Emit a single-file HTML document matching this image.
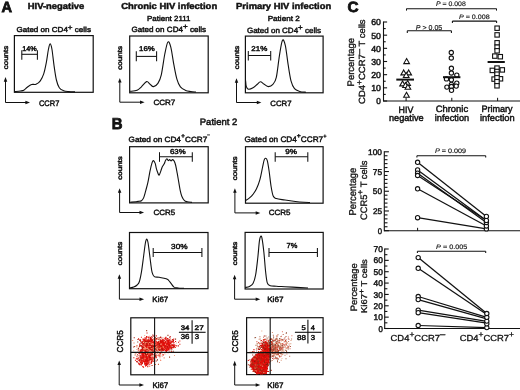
<!DOCTYPE html>
<html><head><meta charset="utf-8"><style>
html,body{margin:0;padding:0;background:#fff;}
svg{display:block;font-family:"Liberation Sans", sans-serif;will-change:transform;text-rendering:geometricPrecision;}
text{fill:#111;stroke:#111;stroke-width:0.45px;}
</style></head><body>
<svg width="520" height="390" viewBox="0 0 520 390">
<rect width="520" height="390" fill="#fff"/>
<text x="1.47" y="11.70" font-size="14.87" textLength="10.55" lengthAdjust="spacingAndGlyphs" font-weight="bold" style="stroke-width:0.8px">A</text>
<text x="27.81" y="8.68" font-size="8.76" textLength="56.46" lengthAdjust="spacingAndGlyphs" font-weight="bold">HIV-negative</text>
<text x="121.15" y="8.78" font-size="8.76" textLength="96.02" lengthAdjust="spacingAndGlyphs" font-weight="bold">Chronic HIV infection</text>
<text x="236.11" y="8.78" font-size="8.76" textLength="95.01" lengthAdjust="spacingAndGlyphs" font-weight="bold">Primary HIV infection</text>
<text x="147.09" y="21.17" font-size="7.38" textLength="43.36" lengthAdjust="spacingAndGlyphs">Patient 2111</text>
<text x="267.67" y="21.27" font-size="7.38" textLength="32.09" lengthAdjust="spacingAndGlyphs">Patient 2</text>
<text x="16.42" y="32.38" font-size="7.24" textLength="74.52" lengthAdjust="spacingAndGlyphs">Gated on CD4<tspan dy="-2.61">+</tspan><tspan dy="2.61" font-size="7.24"> cells</tspan></text>
<text x="131.42" y="32.07" font-size="7.52" textLength="74.62" lengthAdjust="spacingAndGlyphs">Gated on CD4<tspan dy="-2.71">+</tspan><tspan dy="2.71" font-size="7.52"> cells</tspan></text>
<text x="246.92" y="32.57" font-size="7.66" textLength="74.12" lengthAdjust="spacingAndGlyphs">Gated on CD4<tspan dy="-2.76">+</tspan><tspan dy="2.76" font-size="7.66"> cells</tspan></text>
<rect x="14.40" y="35.60" width="78.80" height="56.70" fill="none" stroke="#111" stroke-width="1.2"/>
<rect x="129.70" y="36.00" width="78.50" height="56.80" fill="none" stroke="#111" stroke-width="1.2"/>
<rect x="245.40" y="36.10" width="77.70" height="56.70" fill="none" stroke="#111" stroke-width="1.2"/>
<path d="M14.80,91.60 C15.73,91.50 18.90,91.23 20.40,91.00 C21.90,90.77 22.65,90.83 23.80,90.20 C24.95,89.57 26.00,88.15 27.30,87.20 C28.60,86.25 30.15,85.00 31.60,84.50 C33.05,84.00 34.55,84.82 36.00,84.20 C37.45,83.58 39.02,82.52 40.30,80.80 C41.58,79.08 42.70,76.92 43.70,73.90 C44.70,70.88 45.52,66.77 46.30,62.70 C47.08,58.63 47.77,52.63 48.40,49.50 C49.03,46.37 49.52,43.98 50.10,43.90 C50.68,43.82 51.23,45.30 51.90,49.00 C52.57,52.70 53.35,60.93 54.10,66.10 C54.85,71.27 55.53,76.38 56.40,80.00 C57.27,83.62 58.10,86.02 59.30,87.80 C60.50,89.58 62.02,90.07 63.60,90.70 C65.18,91.33 66.90,91.40 68.80,91.60 C70.70,91.80 73.97,91.85 75.00,91.90" fill="none" stroke="#111" stroke-width="1.1" stroke-linejoin="round"/>
<path d="M130.20,91.40 C131.35,91.20 135.23,90.97 137.10,90.20 C138.97,89.43 139.82,88.23 141.40,86.80 C142.98,85.37 145.15,82.02 146.60,81.60 C148.05,81.18 148.95,83.47 150.10,84.30 C151.25,85.13 152.20,86.75 153.50,86.60 C154.80,86.45 156.60,85.37 157.90,83.40 C159.20,81.43 160.15,79.70 161.30,74.80 C162.45,69.90 163.70,59.47 164.80,54.00 C165.90,48.53 166.90,43.15 167.90,42.00 C168.90,40.85 169.82,43.37 170.80,47.10 C171.78,50.83 172.78,59.07 173.80,64.40 C174.82,69.73 175.80,75.35 176.90,79.10 C178.00,82.85 178.95,85.02 180.40,86.90 C181.85,88.78 183.88,89.63 185.60,90.40 C187.32,91.17 188.97,91.23 190.70,91.50 C192.43,91.77 195.12,91.92 196.00,92.00" fill="none" stroke="#111" stroke-width="1.1" stroke-linejoin="round"/>
<path d="M245.60,80.50 C245.72,81.50 245.82,85.05 246.30,86.50 C246.78,87.95 247.38,88.98 248.50,89.20 C249.62,89.42 251.53,88.62 253.00,87.80 C254.47,86.98 256.07,85.30 257.30,84.30 C258.53,83.30 259.25,81.80 260.40,81.80 C261.55,81.80 262.85,83.50 264.20,84.30 C265.55,85.10 267.05,86.60 268.50,86.60 C269.95,86.60 271.60,85.83 272.90,84.30 C274.20,82.77 275.22,82.15 276.30,77.40 C277.38,72.65 278.38,61.97 279.40,55.80 C280.42,49.63 281.42,42.13 282.40,40.40 C283.38,38.67 284.35,41.40 285.30,45.40 C286.25,49.40 287.15,58.50 288.10,64.40 C289.05,70.30 289.93,76.77 291.00,80.80 C292.07,84.83 293.05,86.83 294.50,88.60 C295.95,90.37 297.78,90.80 299.70,91.40 C301.62,92.00 304.95,92.07 306.00,92.20" fill="none" stroke="#111" stroke-width="1.1" stroke-linejoin="round"/>
<line x1="21.80" y1="54.30" x2="37.40" y2="54.30" stroke="#111" stroke-width="1.05"/>
<line x1="21.80" y1="50.20" x2="21.80" y2="59.70" stroke="#111" stroke-width="1.05"/>
<line x1="37.40" y1="50.20" x2="37.40" y2="59.70" stroke="#111" stroke-width="1.05"/>
<text x="22.28" y="50.57" font-size="6.83" textLength="14.56" lengthAdjust="spacingAndGlyphs">14%</text>
<line x1="136.30" y1="56.40" x2="156.60" y2="56.40" stroke="#111" stroke-width="1.05"/>
<line x1="136.30" y1="51.30" x2="136.30" y2="61.20" stroke="#111" stroke-width="1.05"/>
<line x1="156.60" y1="51.30" x2="156.60" y2="61.20" stroke="#111" stroke-width="1.05"/>
<text x="139.14" y="51.27" font-size="6.93" textLength="15.73" lengthAdjust="spacingAndGlyphs">16%</text>
<line x1="248.30" y1="55.50" x2="270.70" y2="55.50" stroke="#111" stroke-width="1.05"/>
<line x1="248.30" y1="50.90" x2="248.30" y2="60.60" stroke="#111" stroke-width="1.05"/>
<line x1="270.70" y1="50.90" x2="270.70" y2="60.60" stroke="#111" stroke-width="1.05"/>
<text x="251.32" y="51.48" font-size="7.07" textLength="16.04" lengthAdjust="spacingAndGlyphs">21%</text>
<text x="7.68" y="69.29" font-size="6.69" textLength="23.56" lengthAdjust="spacingAndGlyphs" transform="rotate(-90 7.68 69.29)">counts</text>
<text x="122.38" y="69.70" font-size="6.54" textLength="23.66" lengthAdjust="spacingAndGlyphs" transform="rotate(-90 122.38 69.70)">counts</text>
<text x="238.97" y="69.29" font-size="6.54" textLength="23.46" lengthAdjust="spacingAndGlyphs" transform="rotate(-90 238.97 69.29)">counts</text>
<path d="M5.50,80.10 L5.50,102.50 L27.00,102.50" fill="none" stroke="#111" stroke-width="1.0"/>
<path d="M5.50,77.10 L3.75,81.70 L7.25,81.70 Z" fill="#111"/>
<path d="M30.00,102.50 L25.40,100.75 L25.40,104.25 Z" fill="#111"/>
<path d="M119.80,81.00 L119.80,102.20 L141.60,102.20" fill="none" stroke="#111" stroke-width="1.0"/>
<path d="M119.80,78.00 L118.05,82.60 L121.55,82.60 Z" fill="#111"/>
<path d="M144.60,102.20 L140.00,100.45 L140.00,103.95 Z" fill="#111"/>
<path d="M236.50,81.20 L236.50,102.50 L258.40,102.50" fill="none" stroke="#111" stroke-width="1.0"/>
<path d="M236.50,78.20 L234.75,82.80 L238.25,82.80 Z" fill="#111"/>
<path d="M261.40,102.50 L256.80,100.75 L256.80,104.25 Z" fill="#111"/>
<text x="38.95" y="105.58" font-size="7.93" textLength="20.38" lengthAdjust="spacingAndGlyphs">CCR7</text>
<text x="153.42" y="105.28" font-size="7.57" textLength="21.83" lengthAdjust="spacingAndGlyphs">CCR7</text>
<text x="270.34" y="105.58" font-size="7.64" textLength="21.21" lengthAdjust="spacingAndGlyphs">CCR7</text>
<text x="111.83" y="129.10" font-size="15.80" textLength="10.80" lengthAdjust="spacingAndGlyphs" font-weight="bold" style="stroke-width:0.8px">B</text>
<text x="199.76" y="124.78" font-size="9.31" textLength="37.56" lengthAdjust="spacingAndGlyphs">Patient 2</text>
<text x="128.62" y="141.88" font-size="7.52" textLength="81.14" lengthAdjust="spacingAndGlyphs">Gated on CD4<tspan dy="-3.53" font-size="6.39">+</tspan><tspan dy="3.53" font-size="7.52">CCR7</tspan><tspan dy="-5.41" font-size="4.13">–</tspan></text>
<text x="244.42" y="142.18" font-size="7.93" textLength="82.14" lengthAdjust="spacingAndGlyphs">Gated on CD4<tspan dy="-3.73" font-size="6.74">+</tspan><tspan dy="3.73" font-size="7.93">CCR7</tspan><tspan dy="-4.36" font-size="5.55">+</tspan></text>
<rect x="129.60" y="146.70" width="78.60" height="56.20" fill="none" stroke="#111" stroke-width="1.2"/>
<rect x="245.50" y="146.70" width="77.60" height="56.50" fill="none" stroke="#111" stroke-width="1.2"/>
<rect x="129.50" y="232.50" width="78.50" height="56.20" fill="none" stroke="#111" stroke-width="1.2"/>
<rect x="245.10" y="232.40" width="78.10" height="56.60" fill="none" stroke="#111" stroke-width="1.2"/>
<rect x="130.80" y="317.80" width="77.20" height="57.00" fill="none" stroke="#111" stroke-width="1.2"/>
<rect x="246.60" y="317.70" width="76.50" height="56.90" fill="none" stroke="#111" stroke-width="1.2"/>
<path d="M130.20,202.20 C131.17,202.13 134.70,201.93 136.00,201.80 C137.30,201.67 137.08,201.58 138.00,201.40 C138.92,201.22 140.57,201.28 141.50,200.70 C142.43,200.12 142.90,199.55 143.60,197.90 C144.30,196.25 144.98,193.38 145.70,190.80 C146.42,188.22 147.18,185.68 147.90,182.40 C148.62,179.12 149.30,174.38 150.00,171.10 C150.70,167.82 151.52,164.45 152.10,162.70 C152.68,160.95 152.98,160.48 153.50,160.60 C154.02,160.72 154.73,162.12 155.20,163.40 C155.67,164.68 155.88,166.78 156.30,168.30 C156.72,169.82 157.23,171.35 157.70,172.50 C158.17,173.65 158.58,175.43 159.10,175.20 C159.62,174.97 160.28,172.48 160.80,171.10 C161.32,169.72 161.65,168.07 162.20,166.90 C162.75,165.73 163.55,165.15 164.10,164.10 C164.65,163.05 165.03,161.50 165.50,160.60 C165.97,159.70 166.43,158.70 166.90,158.70 C167.37,158.70 167.83,160.45 168.30,160.60 C168.77,160.75 169.23,159.53 169.70,159.60 C170.17,159.67 170.63,161.00 171.10,161.00 C171.57,161.00 171.97,159.55 172.50,159.60 C173.03,159.65 173.77,160.32 174.30,161.30 C174.83,162.28 175.22,163.52 175.70,165.50 C176.18,167.48 176.68,170.38 177.20,173.20 C177.72,176.02 178.28,179.47 178.80,182.40 C179.32,185.33 179.78,188.45 180.30,190.80 C180.82,193.15 181.20,194.85 181.90,196.50 C182.60,198.15 183.60,199.82 184.50,200.70 C185.40,201.58 186.05,201.52 187.30,201.80 C188.55,202.08 191.22,202.30 192.00,202.40" fill="none" stroke="#111" stroke-width="1.1" stroke-linejoin="round"/>
<path d="M245.80,200.40 C246.42,199.97 248.30,198.82 249.50,197.80 C250.70,196.78 251.85,195.75 253.00,194.30 C254.15,192.85 255.25,191.55 256.40,189.10 C257.55,186.65 258.88,183.20 259.90,179.60 C260.92,176.00 261.78,170.78 262.50,167.50 C263.22,164.22 263.68,161.45 264.20,159.90 C264.72,158.35 265.08,158.08 265.60,158.20 C266.12,158.32 266.72,158.47 267.30,160.60 C267.88,162.73 268.47,166.68 269.10,171.00 C269.73,175.32 270.42,182.33 271.10,186.50 C271.78,190.67 272.33,193.98 273.20,196.00 C274.07,198.02 274.33,197.93 276.30,198.60 C278.27,199.27 281.82,199.52 285.00,200.00 C288.18,200.48 292.23,201.12 295.40,201.50 C298.57,201.88 301.57,202.13 304.00,202.30 C306.43,202.47 309.00,202.47 310.00,202.50" fill="none" stroke="#111" stroke-width="1.1" stroke-linejoin="round"/>
<path d="M129.80,287.90 C130.45,287.75 132.48,287.48 133.70,287.00 C134.92,286.52 136.15,285.92 137.10,285.00 C138.05,284.08 138.67,283.72 139.40,281.50 C140.13,279.28 140.80,275.92 141.50,271.70 C142.20,267.48 142.97,260.90 143.60,256.20 C144.23,251.50 144.82,246.33 145.30,243.50 C145.78,240.67 146.07,239.45 146.50,239.20 C146.93,238.95 147.43,239.87 147.90,242.00 C148.37,244.13 148.83,248.47 149.30,252.00 C149.77,255.53 150.23,259.80 150.70,263.20 C151.17,266.60 151.50,270.17 152.10,272.40 C152.70,274.63 153.12,275.78 154.30,276.60 C155.48,277.42 157.22,276.95 159.20,277.30 C161.18,277.65 164.67,278.23 166.20,278.70 C167.73,279.17 167.57,279.28 168.40,280.10 C169.23,280.92 170.27,282.43 171.20,283.60 C172.13,284.77 172.87,286.37 174.00,287.10 C175.13,287.83 176.33,287.80 178.00,288.00 C179.67,288.20 183.00,288.25 184.00,288.30" fill="none" stroke="#111" stroke-width="1.1" stroke-linejoin="round"/>
<path d="M245.20,287.60 C245.92,287.40 248.20,287.07 249.50,286.40 C250.80,285.73 251.98,285.50 253.00,283.60 C254.02,281.70 254.80,279.32 255.60,275.00 C256.40,270.68 257.17,263.33 257.80,257.70 C258.43,252.07 258.90,244.80 259.40,241.20 C259.90,237.60 260.35,236.50 260.80,236.10 C261.25,235.70 261.58,236.07 262.10,238.80 C262.62,241.53 263.32,247.05 263.90,252.50 C264.48,257.95 265.03,266.45 265.60,271.50 C266.17,276.55 266.52,280.43 267.30,282.80 C268.08,285.17 268.80,285.13 270.30,285.70 C271.80,286.27 273.85,286.03 276.30,286.20 C278.75,286.37 280.95,286.47 285.00,286.70 C289.05,286.93 296.77,287.38 300.60,287.60 C304.43,287.82 306.77,287.93 308.00,288.00" fill="none" stroke="#111" stroke-width="1.1" stroke-linejoin="round"/>
<line x1="159.50" y1="156.80" x2="192.30" y2="156.80" stroke="#111" stroke-width="1.05"/>
<line x1="159.50" y1="152.20" x2="159.50" y2="161.80" stroke="#111" stroke-width="1.05"/>
<line x1="192.30" y1="152.20" x2="192.30" y2="161.80" stroke="#111" stroke-width="1.05"/>
<text x="170.03" y="153.88" font-size="7.07" textLength="15.63" lengthAdjust="spacingAndGlyphs">63%</text>
<line x1="275.20" y1="156.80" x2="307.80" y2="156.80" stroke="#111" stroke-width="1.05"/>
<line x1="275.20" y1="152.20" x2="275.20" y2="161.80" stroke="#111" stroke-width="1.05"/>
<line x1="307.80" y1="152.20" x2="307.80" y2="161.80" stroke="#111" stroke-width="1.05"/>
<text x="285.36" y="153.88" font-size="7.07" textLength="11.70" lengthAdjust="spacingAndGlyphs">9%</text>
<line x1="153.20" y1="252.50" x2="201.90" y2="252.50" stroke="#111" stroke-width="1.05"/>
<line x1="153.20" y1="247.90" x2="153.20" y2="256.90" stroke="#111" stroke-width="1.05"/>
<line x1="201.90" y1="247.90" x2="201.90" y2="256.90" stroke="#111" stroke-width="1.05"/>
<text x="171.14" y="249.08" font-size="7.36" textLength="16.54" lengthAdjust="spacingAndGlyphs">30%</text>
<line x1="269.00" y1="252.50" x2="317.40" y2="252.50" stroke="#111" stroke-width="1.05"/>
<line x1="269.00" y1="247.90" x2="269.00" y2="257.10" stroke="#111" stroke-width="1.05"/>
<line x1="317.40" y1="247.90" x2="317.40" y2="257.10" stroke="#111" stroke-width="1.05"/>
<text x="286.55" y="248.47" font-size="7.27" textLength="10.79" lengthAdjust="spacingAndGlyphs">7%</text>
<text x="122.08" y="179.69" font-size="6.38" textLength="23.46" lengthAdjust="spacingAndGlyphs" transform="rotate(-90 122.08 179.69)">counts</text>
<text x="237.28" y="180.20" font-size="6.69" textLength="23.77" lengthAdjust="spacingAndGlyphs" transform="rotate(-90 237.28 180.20)">counts</text>
<text x="122.28" y="265.30" font-size="6.69" textLength="23.66" lengthAdjust="spacingAndGlyphs" transform="rotate(-90 122.28 265.30)">counts</text>
<text x="236.97" y="265.30" font-size="6.54" textLength="23.66" lengthAdjust="spacingAndGlyphs" transform="rotate(-90 236.97 265.30)">counts</text>
<path d="M119.60,191.20 L119.60,212.50 L141.10,212.50" fill="none" stroke="#111" stroke-width="1.0"/>
<path d="M119.60,188.20 L117.85,192.80 L121.35,192.80 Z" fill="#111"/>
<path d="M144.10,212.50 L139.50,210.75 L139.50,214.25 Z" fill="#111"/>
<path d="M234.90,191.20 L234.90,212.90 L257.30,212.90" fill="none" stroke="#111" stroke-width="1.0"/>
<path d="M234.90,188.20 L233.15,192.80 L236.65,192.80 Z" fill="#111"/>
<path d="M260.30,212.90 L255.70,211.15 L255.70,214.65 Z" fill="#111"/>
<path d="M119.40,277.20 L119.40,299.20 L141.10,299.20" fill="none" stroke="#111" stroke-width="1.0"/>
<path d="M119.40,274.20 L117.65,278.80 L121.15,278.80 Z" fill="#111"/>
<path d="M144.10,299.20 L139.50,297.45 L139.50,300.95 Z" fill="#111"/>
<path d="M234.60,277.70 L234.60,299.20 L257.30,299.20" fill="none" stroke="#111" stroke-width="1.0"/>
<path d="M234.60,274.70 L232.85,279.30 L236.35,279.30 Z" fill="#111"/>
<path d="M260.30,299.20 L255.70,297.45 L255.70,300.95 Z" fill="#111"/>
<path d="M119.20,363.50 L119.20,385.00 L141.00,385.00" fill="none" stroke="#111" stroke-width="1.0"/>
<path d="M119.20,360.50 L117.45,365.10 L120.95,365.10 Z" fill="#111"/>
<path d="M144.00,385.00 L139.40,383.25 L139.40,386.75 Z" fill="#111"/>
<path d="M234.70,363.80 L234.70,385.00 L257.30,385.00" fill="none" stroke="#111" stroke-width="1.0"/>
<path d="M234.70,360.80 L232.95,365.40 L236.45,365.40 Z" fill="#111"/>
<path d="M260.30,385.00 L255.70,383.25 L255.70,386.75 Z" fill="#111"/>
<text x="153.58" y="215.28" font-size="7.57" textLength="21.64" lengthAdjust="spacingAndGlyphs">CCR5</text>
<text x="268.72" y="215.28" font-size="7.57" textLength="21.79" lengthAdjust="spacingAndGlyphs">CCR5</text>
<text x="152.39" y="301.67" font-size="7.66" textLength="15.85" lengthAdjust="spacingAndGlyphs">Ki67</text>
<text x="267.17" y="301.67" font-size="7.66" textLength="16.28" lengthAdjust="spacingAndGlyphs">Ki67</text>
<text x="152.39" y="387.97" font-size="8.07" textLength="15.85" lengthAdjust="spacingAndGlyphs">Ki67</text>
<text x="267.38" y="388.17" font-size="7.93" textLength="16.07" lengthAdjust="spacingAndGlyphs">Ki67</text>
<text x="122.68" y="352.38" font-size="8.64" textLength="22.10" lengthAdjust="spacingAndGlyphs" transform="rotate(-90 122.68 352.38)">CCR5</text>
<text x="237.78" y="352.38" font-size="8.36" textLength="22.10" lengthAdjust="spacingAndGlyphs" transform="rotate(-90 237.78 352.38)">CCR5</text>
<path d="M150.4 351.8h1.1v1.1h-1.1zM153.0 356.7h1.1v1.1h-1.1zM145.2 342.2h1.1v1.1h-1.1zM162.8 354.3h1.1v1.1h-1.1zM157.8 354.6h1.1v1.1h-1.1zM159.3 356.2h1.1v1.1h-1.1zM148.9 341.2h1.1v1.1h-1.1zM151.0 350.3h1.1v1.1h-1.1zM140.3 349.8h1.1v1.1h-1.1zM158.5 354.9h1.1v1.1h-1.1zM155.3 355.7h1.1v1.1h-1.1zM155.6 357.2h1.1v1.1h-1.1zM142.9 346.9h1.1v1.1h-1.1zM162.1 340.4h1.1v1.1h-1.1zM139.8 350.2h1.1v1.1h-1.1zM153.3 345.4h1.1v1.1h-1.1zM156.2 338.4h1.1v1.1h-1.1zM163.8 348.8h1.1v1.1h-1.1zM159.3 341.5h1.1v1.1h-1.1zM162.7 340.3h1.1v1.1h-1.1zM156.4 343.2h1.1v1.1h-1.1zM156.2 344.2h1.1v1.1h-1.1zM162.1 346.2h1.1v1.1h-1.1zM154.1 345.6h1.1v1.1h-1.1zM162.5 341.9h1.1v1.1h-1.1zM158.0 341.6h1.1v1.1h-1.1zM160.1 344.4h1.1v1.1h-1.1zM164.8 343.5h1.1v1.1h-1.1zM166.8 346.4h1.1v1.1h-1.1zM154.5 340.2h1.1v1.1h-1.1z" fill="#e01010"/>
<path d="M161.4 352.0h1.1v1.1h-1.1zM142.5 343.9h1.1v1.1h-1.1zM147.7 348.2h1.1v1.1h-1.1zM155.6 347.8h1.1v1.1h-1.1zM150.7 354.7h1.1v1.1h-1.1zM151.6 352.0h1.1v1.1h-1.1zM143.4 345.2h1.1v1.1h-1.1zM157.9 363.8h1.1v1.1h-1.1zM150.4 343.7h1.1v1.1h-1.1zM138.8 346.2h1.1v1.1h-1.1zM151.7 358.4h1.1v1.1h-1.1zM134.7 353.4h1.1v1.1h-1.1zM159.7 352.8h1.1v1.1h-1.1zM159.0 344.0h1.1v1.1h-1.1zM153.9 346.5h1.1v1.1h-1.1zM161.1 348.4h1.1v1.1h-1.1zM167.7 342.8h1.1v1.1h-1.1zM173.2 345.9h1.1v1.1h-1.1zM156.9 346.6h1.1v1.1h-1.1zM162.8 342.9h1.1v1.1h-1.1zM159.6 347.5h1.1v1.1h-1.1zM161.9 342.3h1.1v1.1h-1.1zM162.9 348.7h1.1v1.1h-1.1z" fill="#c86040"/>
<path d="M137.2 341.4h1.1v1.1h-1.1zM154.4 345.5h1.1v1.1h-1.1zM145.3 345.4h1.1v1.1h-1.1zM145.3 343.6h1.1v1.1h-1.1zM152.9 345.1h1.1v1.1h-1.1zM150.1 346.8h1.1v1.1h-1.1zM158.7 345.1h1.1v1.1h-1.1zM145.2 341.7h1.1v1.1h-1.1zM157.5 337.2h1.1v1.1h-1.1zM159.8 346.7h1.1v1.1h-1.1zM157.7 348.1h1.1v1.1h-1.1zM157.9 349.2h1.1v1.1h-1.1zM142.1 351.6h1.1v1.1h-1.1zM167.4 342.0h1.1v1.1h-1.1zM147.0 352.0h1.1v1.1h-1.1zM158.7 347.4h1.1v1.1h-1.1zM161.6 341.0h1.1v1.1h-1.1zM162.8 345.9h1.1v1.1h-1.1zM156.2 349.1h1.1v1.1h-1.1zM155.2 347.4h1.1v1.1h-1.1zM172.8 350.7h1.1v1.1h-1.1zM156.7 343.5h1.1v1.1h-1.1zM166.7 341.2h1.1v1.1h-1.1zM162.1 346.7h1.1v1.1h-1.1zM170.7 349.5h1.1v1.1h-1.1zM169.8 344.8h1.1v1.1h-1.1zM175.0 338.6h1.1v1.1h-1.1zM166.2 348.0h1.1v1.1h-1.1zM157.7 343.8h1.1v1.1h-1.1zM172.7 340.6h1.1v1.1h-1.1zM152.5 344.4h1.1v1.1h-1.1zM161.6 341.7h1.1v1.1h-1.1z" fill="#903820"/>
<path d="M160.7 350.1h1.1v1.1h-1.1zM141.2 344.8h1.1v1.1h-1.1zM147.2 366.1h1.1v1.1h-1.1zM144.7 345.0h1.1v1.1h-1.1zM161.0 345.9h1.1v1.1h-1.1zM150.5 346.7h1.1v1.1h-1.1zM161.0 347.8h1.1v1.1h-1.1zM152.8 343.0h1.1v1.1h-1.1zM140.9 349.7h1.1v1.1h-1.1zM139.6 350.9h1.1v1.1h-1.1zM166.7 350.0h1.1v1.1h-1.1zM152.5 353.7h1.1v1.1h-1.1zM142.2 348.0h1.1v1.1h-1.1zM154.8 345.5h1.1v1.1h-1.1zM162.2 347.9h1.1v1.1h-1.1zM171.7 346.9h1.1v1.1h-1.1zM168.0 344.9h1.1v1.1h-1.1zM167.3 345.8h1.1v1.1h-1.1zM163.8 343.5h1.1v1.1h-1.1zM167.0 346.6h1.1v1.1h-1.1zM155.1 346.4h1.1v1.1h-1.1zM179.3 343.7h1.1v1.1h-1.1zM151.0 344.7h1.1v1.1h-1.1zM159.1 342.4h1.1v1.1h-1.1zM157.9 348.3h1.1v1.1h-1.1zM162.3 346.7h1.1v1.1h-1.1zM155.9 346.4h1.1v1.1h-1.1zM160.4 351.7h1.1v1.1h-1.1z" fill="#d02010"/>
<path d="M167.6 352.2h1.1v1.1h-1.1zM143.7 352.4h1.1v1.1h-1.1zM150.6 343.8h1.1v1.1h-1.1zM160.1 351.9h1.1v1.1h-1.1zM163.5 340.4h1.1v1.1h-1.1zM141.8 349.3h1.1v1.1h-1.1zM149.0 346.0h1.1v1.1h-1.1zM158.3 352.0h1.1v1.1h-1.1zM146.4 348.2h1.1v1.1h-1.1zM166.6 345.5h1.1v1.1h-1.1zM159.6 346.5h1.1v1.1h-1.1zM166.0 347.8h1.1v1.1h-1.1zM155.9 346.1h1.1v1.1h-1.1zM149.6 341.7h1.1v1.1h-1.1zM167.1 348.3h1.1v1.1h-1.1zM169.4 345.9h1.1v1.1h-1.1zM171.8 338.9h1.1v1.1h-1.1zM154.2 344.0h1.1v1.1h-1.1zM163.8 341.6h1.1v1.1h-1.1z" fill="#e05030"/>
<path d="M145.6 343.3h1.1v1.1h-1.1zM146.1 330.1h1.1v1.1h-1.1zM136.9 352.0h1.1v1.1h-1.1zM154.5 345.6h1.1v1.1h-1.1zM169.0 356.6h1.1v1.1h-1.1zM134.1 345.9h1.1v1.1h-1.1zM153.1 342.7h1.1v1.1h-1.1zM161.9 342.7h1.1v1.1h-1.1zM161.3 347.2h1.1v1.1h-1.1zM161.3 344.4h1.1v1.1h-1.1zM158.3 340.7h1.1v1.1h-1.1zM162.7 340.9h1.1v1.1h-1.1zM170.1 345.9h1.1v1.1h-1.1zM165.0 345.2h1.1v1.1h-1.1zM158.8 338.5h1.1v1.1h-1.1zM161.8 344.1h1.1v1.1h-1.1zM165.9 342.2h1.1v1.1h-1.1zM156.6 342.4h1.1v1.1h-1.1zM165.6 343.0h1.1v1.1h-1.1zM167.4 334.8h1.1v1.1h-1.1zM162.6 344.6h1.1v1.1h-1.1zM172.2 345.2h1.1v1.1h-1.1z" fill="#a04020"/>
<path d="M154.0 341.3h1.1v1.1h-1.1zM136.3 346.4h1.1v1.1h-1.1zM148.5 353.5h1.1v1.1h-1.1zM164.0 352.2h1.1v1.1h-1.1zM138.2 357.1h1.1v1.1h-1.1zM146.0 352.3h1.1v1.1h-1.1zM162.9 346.0h1.1v1.1h-1.1zM163.6 357.3h1.1v1.1h-1.1zM166.6 347.7h1.1v1.1h-1.1zM155.1 337.8h1.1v1.1h-1.1zM163.0 349.9h1.1v1.1h-1.1zM154.0 345.0h1.1v1.1h-1.1zM148.0 355.4h1.1v1.1h-1.1zM149.4 341.8h1.1v1.1h-1.1zM163.8 346.9h1.1v1.1h-1.1zM170.5 347.0h1.1v1.1h-1.1zM161.8 340.1h1.1v1.1h-1.1zM153.4 341.8h1.1v1.1h-1.1zM162.9 343.7h1.1v1.1h-1.1zM173.2 347.3h1.1v1.1h-1.1zM157.8 343.1h1.1v1.1h-1.1zM168.4 344.5h1.1v1.1h-1.1zM161.3 349.7h1.1v1.1h-1.1zM165.6 342.8h1.1v1.1h-1.1zM166.0 351.0h1.1v1.1h-1.1zM162.4 347.3h1.1v1.1h-1.1zM167.7 338.3h1.1v1.1h-1.1zM157.8 350.3h1.1v1.1h-1.1zM166.3 342.6h1.1v1.1h-1.1z" fill="#e88a70"/>
<path d="M148.5 352.2h1.1v1.1h-1.1zM161.3 349.5h1.1v1.1h-1.1zM156.9 347.5h1.1v1.1h-1.1zM147.0 344.8h1.1v1.1h-1.1zM145.6 349.1h1.1v1.1h-1.1zM151.7 344.5h1.1v1.1h-1.1zM148.4 343.4h1.1v1.1h-1.1zM160.1 336.6h1.1v1.1h-1.1zM153.2 344.8h1.1v1.1h-1.1zM169.5 348.5h1.1v1.1h-1.1zM156.9 345.3h1.1v1.1h-1.1zM164.2 341.8h1.1v1.1h-1.1zM161.9 343.4h1.1v1.1h-1.1zM160.1 347.0h1.1v1.1h-1.1zM169.3 336.9h1.1v1.1h-1.1zM158.3 339.0h1.1v1.1h-1.1zM166.1 342.4h1.1v1.1h-1.1zM170.2 351.7h1.1v1.1h-1.1zM166.5 339.5h1.1v1.1h-1.1zM167.0 343.0h1.1v1.1h-1.1zM172.1 339.1h1.1v1.1h-1.1zM165.1 346.0h1.1v1.1h-1.1zM169.8 343.2h1.1v1.1h-1.1zM170.7 346.7h1.1v1.1h-1.1zM173.3 346.8h1.1v1.1h-1.1zM162.2 348.7h1.1v1.1h-1.1zM162.2 341.4h1.1v1.1h-1.1z" fill="#b03018"/>
<path d="M145.6 345.5h1.1v1.1h-1.1zM153.0 342.6h1.1v1.1h-1.1zM144.7 346.5h1.1v1.1h-1.1zM144.5 347.3h1.1v1.1h-1.1zM149.7 344.2h1.1v1.1h-1.1zM151.3 340.2h1.1v1.1h-1.1zM145.9 342.9h1.1v1.1h-1.1zM150.7 341.5h1.1v1.1h-1.1zM151.9 344.3h1.1v1.1h-1.1zM157.2 340.9h1.1v1.1h-1.1zM150.4 345.2h1.1v1.1h-1.1zM147.1 350.7h1.1v1.1h-1.1zM148.3 343.9h1.1v1.1h-1.1zM151.8 340.7h1.1v1.1h-1.1zM151.6 344.5h1.1v1.1h-1.1zM144.7 342.6h1.1v1.1h-1.1zM148.9 345.0h1.1v1.1h-1.1zM153.6 346.8h1.1v1.1h-1.1zM145.2 342.6h1.1v1.1h-1.1zM145.9 339.5h1.1v1.1h-1.1zM152.0 343.7h1.1v1.1h-1.1zM148.1 344.3h1.1v1.1h-1.1zM146.1 337.1h1.1v1.1h-1.1zM153.0 344.4h1.1v1.1h-1.1zM147.7 345.6h1.1v1.1h-1.1zM146.5 343.0h1.1v1.1h-1.1zM144.9 345.6h1.1v1.1h-1.1zM148.0 339.4h1.1v1.1h-1.1zM150.9 347.3h1.1v1.1h-1.1zM147.4 347.1h1.1v1.1h-1.1zM143.0 344.5h1.1v1.1h-1.1zM144.6 346.7h1.1v1.1h-1.1zM151.8 345.1h1.1v1.1h-1.1zM145.9 339.2h1.1v1.1h-1.1zM146.9 342.3h1.1v1.1h-1.1zM148.3 346.9h1.1v1.1h-1.1zM142.3 346.2h1.1v1.1h-1.1zM148.1 344.7h1.1v1.1h-1.1zM147.8 337.0h1.1v1.1h-1.1zM154.0 346.0h1.1v1.1h-1.1zM145.3 342.5h1.1v1.1h-1.1zM148.5 341.6h1.1v1.1h-1.1zM144.6 343.1h1.1v1.1h-1.1zM148.5 345.6h1.1v1.1h-1.1zM148.9 343.9h1.1v1.1h-1.1zM147.3 345.2h1.1v1.1h-1.1zM149.6 346.3h1.1v1.1h-1.1zM146.9 342.4h1.1v1.1h-1.1zM145.5 346.1h1.1v1.1h-1.1zM146.1 348.6h1.1v1.1h-1.1zM147.3 344.8h1.1v1.1h-1.1zM150.0 343.7h1.1v1.1h-1.1zM144.1 341.9h1.1v1.1h-1.1zM151.2 345.8h1.1v1.1h-1.1zM152.3 350.7h1.1v1.1h-1.1zM151.4 342.3h1.1v1.1h-1.1zM143.5 347.3h1.1v1.1h-1.1zM152.9 344.2h1.1v1.1h-1.1zM146.6 348.5h1.1v1.1h-1.1zM147.9 342.0h1.1v1.1h-1.1zM152.6 346.0h1.1v1.1h-1.1zM143.0 339.0h1.1v1.1h-1.1zM154.6 346.7h1.1v1.1h-1.1zM148.9 342.5h1.1v1.1h-1.1zM153.7 355.0h1.1v1.1h-1.1zM148.1 345.4h1.1v1.1h-1.1zM154.7 339.4h1.1v1.1h-1.1zM153.9 342.5h1.1v1.1h-1.1zM150.4 340.0h1.1v1.1h-1.1zM147.0 347.5h1.1v1.1h-1.1zM150.9 344.8h1.1v1.1h-1.1zM154.1 346.2h1.1v1.1h-1.1zM147.3 352.8h1.1v1.1h-1.1zM149.2 339.7h1.1v1.1h-1.1zM143.1 346.8h1.1v1.1h-1.1zM147.1 339.8h1.1v1.1h-1.1zM139.8 351.1h1.1v1.1h-1.1zM154.4 349.3h1.1v1.1h-1.1zM146.4 340.6h1.1v1.1h-1.1zM146.7 339.6h1.1v1.1h-1.1zM142.5 344.1h1.1v1.1h-1.1zM147.2 345.4h1.1v1.1h-1.1zM144.5 346.2h1.1v1.1h-1.1zM146.3 343.6h1.1v1.1h-1.1zM143.4 349.8h1.1v1.1h-1.1zM146.1 340.8h1.1v1.1h-1.1zM144.5 348.4h1.1v1.1h-1.1zM146.0 341.7h1.1v1.1h-1.1zM149.1 344.6h1.1v1.1h-1.1zM144.0 350.4h1.1v1.1h-1.1zM144.2 346.8h1.1v1.1h-1.1zM144.1 339.3h1.1v1.1h-1.1zM146.8 344.1h1.1v1.1h-1.1zM143.1 349.2h1.1v1.1h-1.1zM145.2 343.4h1.1v1.1h-1.1zM146.9 340.7h1.1v1.1h-1.1zM152.1 349.4h1.1v1.1h-1.1zM150.5 340.3h1.1v1.1h-1.1zM147.9 344.6h1.1v1.1h-1.1zM144.6 337.3h1.1v1.1h-1.1zM145.4 345.0h1.1v1.1h-1.1zM146.4 344.8h1.1v1.1h-1.1zM156.9 344.5h1.1v1.1h-1.1zM162.7 342.9h1.1v1.1h-1.1zM168.7 350.5h1.1v1.1h-1.1zM170.1 342.5h1.1v1.1h-1.1zM160.8 345.1h1.1v1.1h-1.1zM163.1 346.2h1.1v1.1h-1.1zM165.2 343.5h1.1v1.1h-1.1zM160.7 345.1h1.1v1.1h-1.1zM158.8 343.8h1.1v1.1h-1.1zM166.9 349.4h1.1v1.1h-1.1zM168.9 347.4h1.1v1.1h-1.1zM161.1 342.9h1.1v1.1h-1.1zM167.7 347.8h1.1v1.1h-1.1zM170.1 345.1h1.1v1.1h-1.1zM161.3 346.5h1.1v1.1h-1.1zM160.1 352.8h1.1v1.1h-1.1zM160.2 340.4h1.1v1.1h-1.1zM161.8 341.8h1.1v1.1h-1.1zM160.7 345.7h1.1v1.1h-1.1zM161.4 347.7h1.1v1.1h-1.1zM161.0 342.1h1.1v1.1h-1.1zM168.2 343.4h1.1v1.1h-1.1zM168.5 341.8h1.1v1.1h-1.1zM162.3 343.0h1.1v1.1h-1.1zM159.8 340.9h1.1v1.1h-1.1zM170.8 341.4h1.1v1.1h-1.1zM166.1 343.4h1.1v1.1h-1.1zM160.2 340.1h1.1v1.1h-1.1zM163.3 350.0h1.1v1.1h-1.1zM165.1 343.4h1.1v1.1h-1.1zM159.2 342.1h1.1v1.1h-1.1zM169.6 347.4h1.1v1.1h-1.1zM162.7 343.4h1.1v1.1h-1.1zM162.3 342.7h1.1v1.1h-1.1zM166.3 345.8h1.1v1.1h-1.1zM161.8 344.2h1.1v1.1h-1.1zM162.5 345.5h1.1v1.1h-1.1zM161.0 344.6h1.1v1.1h-1.1zM157.3 345.5h1.1v1.1h-1.1zM154.7 344.5h1.1v1.1h-1.1zM174.2 344.5h1.1v1.1h-1.1zM155.3 339.1h1.1v1.1h-1.1zM169.5 347.0h1.1v1.1h-1.1zM159.0 346.9h1.1v1.1h-1.1zM156.2 346.4h1.1v1.1h-1.1zM158.1 343.9h1.1v1.1h-1.1zM165.7 343.1h1.1v1.1h-1.1zM172.1 344.3h1.1v1.1h-1.1zM162.5 341.5h1.1v1.1h-1.1zM158.5 342.9h1.1v1.1h-1.1zM156.2 344.7h1.1v1.1h-1.1zM153.1 341.6h1.1v1.1h-1.1zM167.2 348.5h1.1v1.1h-1.1zM164.4 342.8h1.1v1.1h-1.1zM157.3 343.8h1.1v1.1h-1.1zM160.5 346.4h1.1v1.1h-1.1zM166.6 340.7h1.1v1.1h-1.1zM156.0 343.1h1.1v1.1h-1.1zM164.0 344.0h1.1v1.1h-1.1zM159.4 347.0h1.1v1.1h-1.1zM160.6 347.1h1.1v1.1h-1.1zM162.4 347.6h1.1v1.1h-1.1zM160.2 342.0h1.1v1.1h-1.1zM161.5 341.8h1.1v1.1h-1.1zM159.4 348.2h1.1v1.1h-1.1zM159.2 345.8h1.1v1.1h-1.1zM152.3 341.9h1.1v1.1h-1.1zM159.7 342.9h1.1v1.1h-1.1zM162.0 345.8h1.1v1.1h-1.1zM155.3 342.7h1.1v1.1h-1.1zM160.3 341.7h1.1v1.1h-1.1zM164.0 343.7h1.1v1.1h-1.1zM156.6 346.5h1.1v1.1h-1.1zM160.3 346.4h1.1v1.1h-1.1zM159.3 348.5h1.1v1.1h-1.1zM168.6 343.7h1.1v1.1h-1.1zM159.4 347.0h1.1v1.1h-1.1zM170.5 347.4h1.1v1.1h-1.1zM167.0 337.9h1.1v1.1h-1.1zM163.5 347.0h1.1v1.1h-1.1zM163.7 339.9h1.1v1.1h-1.1zM164.7 340.8h1.1v1.1h-1.1zM165.8 343.7h1.1v1.1h-1.1zM165.8 342.5h1.1v1.1h-1.1zM160.8 344.8h1.1v1.1h-1.1zM163.9 344.1h1.1v1.1h-1.1zM166.9 343.4h1.1v1.1h-1.1zM173.2 343.5h1.1v1.1h-1.1zM163.6 347.7h1.1v1.1h-1.1zM162.5 348.5h1.1v1.1h-1.1zM170.7 341.8h1.1v1.1h-1.1zM167.9 342.3h1.1v1.1h-1.1zM145.3 356.6h1.1v1.1h-1.1zM145.0 355.7h1.1v1.1h-1.1zM143.0 356.6h1.1v1.1h-1.1zM145.5 360.0h1.1v1.1h-1.1zM145.5 356.9h1.1v1.1h-1.1zM145.1 356.3h1.1v1.1h-1.1zM144.5 363.0h1.1v1.1h-1.1zM150.4 356.6h1.1v1.1h-1.1zM140.3 361.5h1.1v1.1h-1.1zM145.4 362.8h1.1v1.1h-1.1zM147.7 358.4h1.1v1.1h-1.1zM145.7 355.8h1.1v1.1h-1.1zM150.9 351.9h1.1v1.1h-1.1zM145.7 355.3h1.1v1.1h-1.1zM143.9 356.2h1.1v1.1h-1.1zM143.5 360.1h1.1v1.1h-1.1zM148.0 355.6h1.1v1.1h-1.1zM152.5 358.1h1.1v1.1h-1.1zM144.7 352.9h1.1v1.1h-1.1zM135.8 358.2h1.1v1.1h-1.1zM143.8 360.9h1.1v1.1h-1.1zM146.8 357.2h1.1v1.1h-1.1zM143.4 354.8h1.1v1.1h-1.1zM138.4 363.5h1.1v1.1h-1.1zM139.7 356.7h1.1v1.1h-1.1zM140.0 364.2h1.1v1.1h-1.1zM147.4 353.1h1.1v1.1h-1.1zM145.3 354.4h1.1v1.1h-1.1zM141.6 360.1h1.1v1.1h-1.1zM140.8 356.9h1.1v1.1h-1.1zM142.7 358.7h1.1v1.1h-1.1zM150.6 356.8h1.1v1.1h-1.1zM142.0 358.0h1.1v1.1h-1.1zM139.0 363.7h1.1v1.1h-1.1zM147.6 349.6h1.1v1.1h-1.1zM145.1 355.5h1.1v1.1h-1.1zM142.1 356.6h1.1v1.1h-1.1zM141.2 363.4h1.1v1.1h-1.1zM146.7 356.9h1.1v1.1h-1.1zM143.5 357.5h1.1v1.1h-1.1zM147.0 357.9h1.1v1.1h-1.1zM140.0 351.9h1.1v1.1h-1.1zM148.9 357.1h1.1v1.1h-1.1zM147.0 359.2h1.1v1.1h-1.1zM144.7 360.6h1.1v1.1h-1.1zM145.2 351.3h1.1v1.1h-1.1zM150.4 352.7h1.1v1.1h-1.1zM145.2 358.5h1.1v1.1h-1.1zM143.3 356.4h1.1v1.1h-1.1zM144.8 355.2h1.1v1.1h-1.1zM145.4 359.2h1.1v1.1h-1.1zM147.1 354.9h1.1v1.1h-1.1zM146.5 359.2h1.1v1.1h-1.1zM143.7 357.1h1.1v1.1h-1.1zM144.4 355.9h1.1v1.1h-1.1zM149.4 359.3h1.1v1.1h-1.1zM143.7 356.6h1.1v1.1h-1.1zM143.7 354.1h1.1v1.1h-1.1zM143.8 356.2h1.1v1.1h-1.1zM148.4 362.6h1.1v1.1h-1.1zM144.4 351.1h1.1v1.1h-1.1zM138.6 359.8h1.1v1.1h-1.1zM146.1 361.3h1.1v1.1h-1.1zM144.5 362.1h1.1v1.1h-1.1zM146.5 357.7h1.1v1.1h-1.1zM141.3 352.0h1.1v1.1h-1.1zM141.2 359.8h1.1v1.1h-1.1zM142.4 354.0h1.1v1.1h-1.1zM140.7 359.5h1.1v1.1h-1.1zM142.9 356.8h1.1v1.1h-1.1zM142.1 355.0h1.1v1.1h-1.1zM146.7 356.3h1.1v1.1h-1.1zM141.9 360.5h1.1v1.1h-1.1zM148.8 356.2h1.1v1.1h-1.1zM141.6 362.5h1.1v1.1h-1.1zM139.0 364.1h1.1v1.1h-1.1zM140.4 362.6h1.1v1.1h-1.1zM139.6 356.6h1.1v1.1h-1.1zM146.6 357.4h1.1v1.1h-1.1zM147.5 359.2h1.1v1.1h-1.1zM141.5 359.7h1.1v1.1h-1.1zM141.0 364.5h1.1v1.1h-1.1zM146.1 352.4h1.1v1.1h-1.1zM155.5 356.8h1.1v1.1h-1.1zM145.6 351.4h1.1v1.1h-1.1zM141.6 360.3h1.1v1.1h-1.1zM145.9 352.5h1.1v1.1h-1.1zM143.3 354.2h1.1v1.1h-1.1zM145.7 352.4h1.1v1.1h-1.1zM149.5 358.8h1.1v1.1h-1.1zM139.7 356.8h1.1v1.1h-1.1zM149.5 361.6h1.1v1.1h-1.1zM149.3 357.1h1.1v1.1h-1.1zM147.3 362.7h1.1v1.1h-1.1zM141.5 362.7h1.1v1.1h-1.1zM139.2 353.2h1.1v1.1h-1.1zM145.1 360.7h1.1v1.1h-1.1zM145.7 355.4h1.1v1.1h-1.1z" fill="#ea1a14"/>
<path d="M149.7 337.2h1.1v1.1h-1.1zM149.6 343.1h1.1v1.1h-1.1zM146.6 344.4h1.1v1.1h-1.1zM146.8 352.0h1.1v1.1h-1.1zM146.7 350.6h1.1v1.1h-1.1zM147.1 343.7h1.1v1.1h-1.1zM144.7 341.3h1.1v1.1h-1.1zM146.8 348.4h1.1v1.1h-1.1zM151.2 343.9h1.1v1.1h-1.1zM151.4 344.1h1.1v1.1h-1.1zM152.7 343.7h1.1v1.1h-1.1zM155.6 346.0h1.1v1.1h-1.1zM150.6 345.9h1.1v1.1h-1.1zM155.1 342.6h1.1v1.1h-1.1zM151.6 349.0h1.1v1.1h-1.1zM150.3 340.3h1.1v1.1h-1.1zM150.6 338.1h1.1v1.1h-1.1zM141.5 349.5h1.1v1.1h-1.1zM146.3 341.2h1.1v1.1h-1.1zM149.0 343.0h1.1v1.1h-1.1zM144.4 343.2h1.1v1.1h-1.1zM151.6 342.2h1.1v1.1h-1.1zM143.7 346.4h1.1v1.1h-1.1zM143.3 348.3h1.1v1.1h-1.1zM151.1 347.4h1.1v1.1h-1.1zM154.2 337.1h1.1v1.1h-1.1zM148.5 342.0h1.1v1.1h-1.1zM146.0 342.1h1.1v1.1h-1.1zM145.1 352.4h1.1v1.1h-1.1zM147.4 347.5h1.1v1.1h-1.1zM145.2 344.8h1.1v1.1h-1.1zM147.6 340.3h1.1v1.1h-1.1zM145.4 344.5h1.1v1.1h-1.1zM150.3 347.2h1.1v1.1h-1.1zM146.5 332.4h1.1v1.1h-1.1zM153.0 347.3h1.1v1.1h-1.1zM142.0 350.1h1.1v1.1h-1.1zM148.4 343.3h1.1v1.1h-1.1zM150.0 339.0h1.1v1.1h-1.1zM150.2 345.6h1.1v1.1h-1.1zM143.2 345.0h1.1v1.1h-1.1zM148.8 347.0h1.1v1.1h-1.1zM152.5 344.3h1.1v1.1h-1.1zM153.9 345.8h1.1v1.1h-1.1zM149.5 339.5h1.1v1.1h-1.1zM146.9 343.3h1.1v1.1h-1.1zM148.1 344.8h1.1v1.1h-1.1zM144.8 342.9h1.1v1.1h-1.1zM148.8 345.3h1.1v1.1h-1.1zM149.6 347.3h1.1v1.1h-1.1zM143.2 348.4h1.1v1.1h-1.1zM152.3 341.7h1.1v1.1h-1.1zM150.0 346.3h1.1v1.1h-1.1zM146.0 342.0h1.1v1.1h-1.1zM144.7 341.7h1.1v1.1h-1.1zM146.9 344.4h1.1v1.1h-1.1zM146.3 350.7h1.1v1.1h-1.1zM145.6 339.3h1.1v1.1h-1.1zM139.4 344.3h1.1v1.1h-1.1zM143.5 341.8h1.1v1.1h-1.1zM147.5 345.3h1.1v1.1h-1.1zM144.5 337.7h1.1v1.1h-1.1zM147.2 345.7h1.1v1.1h-1.1zM150.8 346.5h1.1v1.1h-1.1zM145.2 346.0h1.1v1.1h-1.1zM148.3 344.9h1.1v1.1h-1.1zM153.7 342.3h1.1v1.1h-1.1zM144.1 343.7h1.1v1.1h-1.1zM152.7 344.8h1.1v1.1h-1.1zM151.1 343.9h1.1v1.1h-1.1zM151.8 346.6h1.1v1.1h-1.1zM147.8 347.0h1.1v1.1h-1.1zM150.5 341.5h1.1v1.1h-1.1zM145.0 343.2h1.1v1.1h-1.1zM152.0 347.6h1.1v1.1h-1.1zM151.9 339.8h1.1v1.1h-1.1zM145.9 344.7h1.1v1.1h-1.1zM151.5 336.9h1.1v1.1h-1.1zM144.2 344.4h1.1v1.1h-1.1zM146.0 347.0h1.1v1.1h-1.1zM146.9 341.9h1.1v1.1h-1.1zM150.9 347.2h1.1v1.1h-1.1zM149.2 346.1h1.1v1.1h-1.1zM149.7 347.1h1.1v1.1h-1.1zM150.8 348.9h1.1v1.1h-1.1zM147.5 340.7h1.1v1.1h-1.1zM147.9 344.1h1.1v1.1h-1.1zM143.3 341.8h1.1v1.1h-1.1zM145.1 342.0h1.1v1.1h-1.1zM152.6 345.5h1.1v1.1h-1.1zM146.0 336.0h1.1v1.1h-1.1zM144.1 340.1h1.1v1.1h-1.1zM153.5 341.0h1.1v1.1h-1.1zM141.4 341.2h1.1v1.1h-1.1zM148.5 341.3h1.1v1.1h-1.1zM149.7 338.0h1.1v1.1h-1.1zM145.1 343.5h1.1v1.1h-1.1zM151.9 345.9h1.1v1.1h-1.1zM147.1 341.9h1.1v1.1h-1.1zM148.8 348.0h1.1v1.1h-1.1zM150.4 342.1h1.1v1.1h-1.1zM150.1 349.6h1.1v1.1h-1.1zM145.9 341.1h1.1v1.1h-1.1zM138.0 338.3h1.1v1.1h-1.1zM151.7 346.4h1.1v1.1h-1.1zM154.0 345.1h1.1v1.1h-1.1zM143.8 348.8h1.1v1.1h-1.1zM147.4 340.5h1.1v1.1h-1.1zM139.0 339.6h1.1v1.1h-1.1zM148.7 342.2h1.1v1.1h-1.1zM160.7 347.4h1.1v1.1h-1.1zM164.4 346.0h1.1v1.1h-1.1zM159.1 346.2h1.1v1.1h-1.1zM160.8 345.7h1.1v1.1h-1.1zM167.2 346.6h1.1v1.1h-1.1zM172.3 341.7h1.1v1.1h-1.1zM167.5 343.7h1.1v1.1h-1.1zM156.4 344.7h1.1v1.1h-1.1zM159.3 348.4h1.1v1.1h-1.1zM161.8 340.4h1.1v1.1h-1.1zM159.5 343.1h1.1v1.1h-1.1zM173.0 346.4h1.1v1.1h-1.1zM159.8 345.1h1.1v1.1h-1.1zM164.8 341.6h1.1v1.1h-1.1zM164.2 339.5h1.1v1.1h-1.1zM162.3 339.1h1.1v1.1h-1.1zM165.1 348.1h1.1v1.1h-1.1zM168.1 347.4h1.1v1.1h-1.1zM172.0 345.0h1.1v1.1h-1.1zM176.0 345.2h1.1v1.1h-1.1zM174.4 345.0h1.1v1.1h-1.1zM171.1 347.8h1.1v1.1h-1.1zM166.8 346.3h1.1v1.1h-1.1zM159.8 343.6h1.1v1.1h-1.1zM164.0 341.5h1.1v1.1h-1.1zM159.1 344.7h1.1v1.1h-1.1zM165.8 343.3h1.1v1.1h-1.1zM165.2 351.6h1.1v1.1h-1.1zM156.9 346.4h1.1v1.1h-1.1zM162.4 348.4h1.1v1.1h-1.1zM150.9 349.8h1.1v1.1h-1.1zM159.0 349.3h1.1v1.1h-1.1zM165.8 343.4h1.1v1.1h-1.1zM157.0 341.9h1.1v1.1h-1.1zM160.5 344.0h1.1v1.1h-1.1zM161.1 345.0h1.1v1.1h-1.1zM160.7 340.5h1.1v1.1h-1.1zM162.3 341.4h1.1v1.1h-1.1zM166.7 344.9h1.1v1.1h-1.1zM174.1 346.0h1.1v1.1h-1.1zM165.4 346.7h1.1v1.1h-1.1zM163.0 344.8h1.1v1.1h-1.1zM163.4 345.7h1.1v1.1h-1.1zM162.1 349.8h1.1v1.1h-1.1zM158.1 343.0h1.1v1.1h-1.1zM154.4 349.4h1.1v1.1h-1.1zM161.6 347.4h1.1v1.1h-1.1zM164.0 347.4h1.1v1.1h-1.1zM170.9 344.6h1.1v1.1h-1.1zM163.8 342.0h1.1v1.1h-1.1zM164.8 338.0h1.1v1.1h-1.1zM171.4 348.5h1.1v1.1h-1.1zM160.6 348.1h1.1v1.1h-1.1zM162.1 343.6h1.1v1.1h-1.1zM155.9 343.9h1.1v1.1h-1.1zM158.0 345.7h1.1v1.1h-1.1zM162.8 347.9h1.1v1.1h-1.1zM164.5 346.6h1.1v1.1h-1.1zM162.4 342.6h1.1v1.1h-1.1zM155.3 342.6h1.1v1.1h-1.1zM165.9 341.6h1.1v1.1h-1.1zM168.1 344.6h1.1v1.1h-1.1zM169.6 338.5h1.1v1.1h-1.1zM163.0 341.5h1.1v1.1h-1.1zM160.5 341.9h1.1v1.1h-1.1zM157.8 341.6h1.1v1.1h-1.1zM166.6 341.4h1.1v1.1h-1.1zM163.9 344.3h1.1v1.1h-1.1zM161.3 345.0h1.1v1.1h-1.1zM159.5 339.3h1.1v1.1h-1.1zM150.9 342.0h1.1v1.1h-1.1zM155.4 342.2h1.1v1.1h-1.1zM165.0 343.5h1.1v1.1h-1.1zM164.0 342.8h1.1v1.1h-1.1zM166.6 345.2h1.1v1.1h-1.1zM158.9 346.3h1.1v1.1h-1.1zM161.4 341.1h1.1v1.1h-1.1zM168.0 341.3h1.1v1.1h-1.1zM164.2 342.0h1.1v1.1h-1.1zM162.9 340.6h1.1v1.1h-1.1zM160.8 345.8h1.1v1.1h-1.1zM166.1 344.1h1.1v1.1h-1.1zM169.1 342.4h1.1v1.1h-1.1zM165.9 348.8h1.1v1.1h-1.1zM161.8 345.5h1.1v1.1h-1.1zM156.2 338.9h1.1v1.1h-1.1zM163.8 344.6h1.1v1.1h-1.1zM157.0 344.1h1.1v1.1h-1.1zM162.9 348.2h1.1v1.1h-1.1zM171.4 340.7h1.1v1.1h-1.1zM158.8 343.7h1.1v1.1h-1.1zM154.2 346.3h1.1v1.1h-1.1zM167.2 342.5h1.1v1.1h-1.1zM163.6 345.1h1.1v1.1h-1.1zM165.1 338.3h1.1v1.1h-1.1zM159.7 339.2h1.1v1.1h-1.1zM168.9 345.0h1.1v1.1h-1.1zM166.5 348.3h1.1v1.1h-1.1zM161.3 345.8h1.1v1.1h-1.1zM162.8 341.8h1.1v1.1h-1.1zM160.5 339.6h1.1v1.1h-1.1zM171.1 346.5h1.1v1.1h-1.1zM157.7 343.7h1.1v1.1h-1.1zM161.1 345.7h1.1v1.1h-1.1zM164.7 342.1h1.1v1.1h-1.1zM150.4 359.0h1.1v1.1h-1.1zM144.2 352.7h1.1v1.1h-1.1zM146.4 352.2h1.1v1.1h-1.1zM144.8 352.9h1.1v1.1h-1.1zM142.2 352.8h1.1v1.1h-1.1zM144.8 351.2h1.1v1.1h-1.1zM145.9 361.3h1.1v1.1h-1.1zM143.8 359.4h1.1v1.1h-1.1zM145.9 353.3h1.1v1.1h-1.1zM144.4 358.0h1.1v1.1h-1.1zM147.6 358.4h1.1v1.1h-1.1zM133.3 357.2h1.1v1.1h-1.1zM143.8 355.2h1.1v1.1h-1.1zM145.6 354.7h1.1v1.1h-1.1zM147.6 362.5h1.1v1.1h-1.1zM138.8 359.7h1.1v1.1h-1.1zM145.3 354.8h1.1v1.1h-1.1zM143.5 359.5h1.1v1.1h-1.1zM145.8 352.7h1.1v1.1h-1.1zM147.6 361.9h1.1v1.1h-1.1zM144.4 360.1h1.1v1.1h-1.1zM148.7 356.8h1.1v1.1h-1.1zM145.9 363.7h1.1v1.1h-1.1zM144.0 357.6h1.1v1.1h-1.1zM141.9 358.6h1.1v1.1h-1.1zM146.3 359.1h1.1v1.1h-1.1zM142.7 358.6h1.1v1.1h-1.1zM144.5 356.5h1.1v1.1h-1.1zM144.5 360.9h1.1v1.1h-1.1zM144.4 358.7h1.1v1.1h-1.1zM145.6 352.3h1.1v1.1h-1.1zM147.2 351.7h1.1v1.1h-1.1zM140.1 358.2h1.1v1.1h-1.1zM146.0 356.2h1.1v1.1h-1.1zM143.8 357.0h1.1v1.1h-1.1zM140.2 361.5h1.1v1.1h-1.1zM145.1 365.2h1.1v1.1h-1.1zM138.3 362.4h1.1v1.1h-1.1zM147.1 363.4h1.1v1.1h-1.1zM144.4 358.0h1.1v1.1h-1.1zM146.1 362.9h1.1v1.1h-1.1zM144.1 356.4h1.1v1.1h-1.1zM142.1 356.3h1.1v1.1h-1.1zM142.4 352.5h1.1v1.1h-1.1zM148.6 355.7h1.1v1.1h-1.1zM148.1 356.5h1.1v1.1h-1.1zM147.9 358.3h1.1v1.1h-1.1zM150.4 357.8h1.1v1.1h-1.1zM136.4 355.7h1.1v1.1h-1.1zM146.2 357.4h1.1v1.1h-1.1zM140.7 361.0h1.1v1.1h-1.1zM145.2 357.0h1.1v1.1h-1.1zM151.2 358.4h1.1v1.1h-1.1zM149.8 352.4h1.1v1.1h-1.1zM145.1 360.0h1.1v1.1h-1.1zM145.3 351.1h1.1v1.1h-1.1zM137.3 358.5h1.1v1.1h-1.1zM143.7 358.3h1.1v1.1h-1.1zM146.9 358.8h1.1v1.1h-1.1zM142.1 353.6h1.1v1.1h-1.1zM143.1 358.4h1.1v1.1h-1.1zM143.8 360.5h1.1v1.1h-1.1zM147.9 356.5h1.1v1.1h-1.1zM152.8 358.4h1.1v1.1h-1.1zM143.7 355.7h1.1v1.1h-1.1zM148.4 357.7h1.1v1.1h-1.1zM139.6 355.3h1.1v1.1h-1.1zM139.9 355.7h1.1v1.1h-1.1zM146.6 357.3h1.1v1.1h-1.1zM145.6 357.0h1.1v1.1h-1.1zM142.7 366.4h1.1v1.1h-1.1zM151.5 352.6h1.1v1.1h-1.1zM141.8 362.6h1.1v1.1h-1.1zM141.9 358.4h1.1v1.1h-1.1zM146.2 357.5h1.1v1.1h-1.1zM141.5 356.8h1.1v1.1h-1.1zM146.4 359.5h1.1v1.1h-1.1zM147.2 353.6h1.1v1.1h-1.1zM142.3 349.2h1.1v1.1h-1.1zM150.6 358.9h1.1v1.1h-1.1zM146.9 359.1h1.1v1.1h-1.1zM145.1 360.4h1.1v1.1h-1.1zM153.2 360.7h1.1v1.1h-1.1zM140.8 361.3h1.1v1.1h-1.1zM148.4 360.3h1.1v1.1h-1.1zM149.9 358.8h1.1v1.1h-1.1zM139.4 352.9h1.1v1.1h-1.1zM144.0 360.7h1.1v1.1h-1.1zM149.2 364.2h1.1v1.1h-1.1zM144.7 362.8h1.1v1.1h-1.1zM151.1 361.8h1.1v1.1h-1.1zM151.8 359.2h1.1v1.1h-1.1zM143.9 354.6h1.1v1.1h-1.1zM143.6 352.3h1.1v1.1h-1.1zM134.9 359.7h1.1v1.1h-1.1zM150.1 357.4h1.1v1.1h-1.1zM140.1 362.2h1.1v1.1h-1.1z" fill="#d81008"/>
<path d="M152.9 350.1h1.1v1.1h-1.1zM149.7 352.9h1.1v1.1h-1.1zM147.7 346.3h1.1v1.1h-1.1zM145.6 343.7h1.1v1.1h-1.1zM148.1 348.3h1.1v1.1h-1.1zM145.3 340.8h1.1v1.1h-1.1zM146.8 344.9h1.1v1.1h-1.1zM145.8 345.0h1.1v1.1h-1.1zM147.8 344.6h1.1v1.1h-1.1zM147.8 346.0h1.1v1.1h-1.1zM145.4 346.4h1.1v1.1h-1.1zM151.5 343.6h1.1v1.1h-1.1zM147.6 342.1h1.1v1.1h-1.1zM144.2 344.6h1.1v1.1h-1.1zM146.5 343.2h1.1v1.1h-1.1zM147.2 341.7h1.1v1.1h-1.1zM151.2 353.6h1.1v1.1h-1.1zM147.2 342.0h1.1v1.1h-1.1zM146.2 345.7h1.1v1.1h-1.1zM147.9 345.7h1.1v1.1h-1.1zM145.6 345.9h1.1v1.1h-1.1zM144.7 345.4h1.1v1.1h-1.1zM148.2 345.1h1.1v1.1h-1.1zM154.7 348.5h1.1v1.1h-1.1zM150.7 347.1h1.1v1.1h-1.1zM142.3 343.7h1.1v1.1h-1.1zM144.7 341.4h1.1v1.1h-1.1zM152.7 344.5h1.1v1.1h-1.1zM150.3 345.2h1.1v1.1h-1.1zM150.3 345.7h1.1v1.1h-1.1zM149.0 346.7h1.1v1.1h-1.1zM153.0 345.1h1.1v1.1h-1.1zM149.2 344.8h1.1v1.1h-1.1zM147.9 343.6h1.1v1.1h-1.1zM153.8 335.9h1.1v1.1h-1.1zM142.0 342.2h1.1v1.1h-1.1zM143.6 349.5h1.1v1.1h-1.1zM145.2 349.6h1.1v1.1h-1.1zM151.8 345.1h1.1v1.1h-1.1zM150.7 344.8h1.1v1.1h-1.1zM147.0 340.6h1.1v1.1h-1.1zM150.0 336.9h1.1v1.1h-1.1zM138.0 349.4h1.1v1.1h-1.1zM148.9 346.1h1.1v1.1h-1.1zM146.9 343.1h1.1v1.1h-1.1zM149.7 344.4h1.1v1.1h-1.1zM150.0 342.7h1.1v1.1h-1.1zM142.7 349.5h1.1v1.1h-1.1zM150.7 338.5h1.1v1.1h-1.1zM148.8 344.9h1.1v1.1h-1.1zM145.6 341.7h1.1v1.1h-1.1zM141.7 347.4h1.1v1.1h-1.1zM141.9 348.3h1.1v1.1h-1.1zM149.0 346.7h1.1v1.1h-1.1zM146.3 341.8h1.1v1.1h-1.1zM143.0 346.8h1.1v1.1h-1.1zM143.0 346.0h1.1v1.1h-1.1zM151.5 339.0h1.1v1.1h-1.1zM149.5 345.6h1.1v1.1h-1.1zM153.5 347.3h1.1v1.1h-1.1zM151.7 353.7h1.1v1.1h-1.1zM155.1 346.5h1.1v1.1h-1.1zM147.9 348.8h1.1v1.1h-1.1zM147.7 341.1h1.1v1.1h-1.1zM147.2 345.3h1.1v1.1h-1.1zM149.5 349.1h1.1v1.1h-1.1zM144.5 340.5h1.1v1.1h-1.1zM152.9 346.4h1.1v1.1h-1.1zM147.9 344.1h1.1v1.1h-1.1zM147.8 340.5h1.1v1.1h-1.1zM152.6 340.4h1.1v1.1h-1.1zM148.6 339.7h1.1v1.1h-1.1zM145.2 343.2h1.1v1.1h-1.1zM152.4 344.6h1.1v1.1h-1.1zM145.6 338.3h1.1v1.1h-1.1zM147.8 342.3h1.1v1.1h-1.1zM155.4 345.0h1.1v1.1h-1.1zM150.2 342.8h1.1v1.1h-1.1zM145.5 345.1h1.1v1.1h-1.1zM144.1 344.0h1.1v1.1h-1.1zM149.4 349.6h1.1v1.1h-1.1zM160.0 342.4h1.1v1.1h-1.1zM149.9 339.8h1.1v1.1h-1.1zM144.7 348.4h1.1v1.1h-1.1zM144.1 339.5h1.1v1.1h-1.1zM146.3 339.3h1.1v1.1h-1.1zM144.8 344.5h1.1v1.1h-1.1zM148.6 343.0h1.1v1.1h-1.1zM148.3 342.1h1.1v1.1h-1.1zM149.4 341.9h1.1v1.1h-1.1zM144.1 347.1h1.1v1.1h-1.1zM148.9 345.1h1.1v1.1h-1.1zM148.5 340.8h1.1v1.1h-1.1zM147.3 344.6h1.1v1.1h-1.1zM148.3 346.2h1.1v1.1h-1.1zM151.8 350.5h1.1v1.1h-1.1zM150.1 343.9h1.1v1.1h-1.1zM141.4 345.3h1.1v1.1h-1.1zM148.3 341.9h1.1v1.1h-1.1zM143.3 343.5h1.1v1.1h-1.1zM147.5 345.6h1.1v1.1h-1.1zM147.5 344.2h1.1v1.1h-1.1zM165.5 342.4h1.1v1.1h-1.1zM161.6 345.2h1.1v1.1h-1.1zM154.9 352.4h1.1v1.1h-1.1zM158.0 347.6h1.1v1.1h-1.1zM161.5 340.0h1.1v1.1h-1.1zM158.6 344.7h1.1v1.1h-1.1zM165.4 336.7h1.1v1.1h-1.1zM167.0 340.6h1.1v1.1h-1.1zM160.7 344.8h1.1v1.1h-1.1zM163.1 345.6h1.1v1.1h-1.1zM167.6 347.5h1.1v1.1h-1.1zM168.6 339.1h1.1v1.1h-1.1zM167.5 345.8h1.1v1.1h-1.1zM159.7 344.6h1.1v1.1h-1.1zM165.7 344.6h1.1v1.1h-1.1zM167.1 347.3h1.1v1.1h-1.1zM167.9 349.0h1.1v1.1h-1.1zM166.9 337.9h1.1v1.1h-1.1zM164.0 347.2h1.1v1.1h-1.1zM163.2 347.8h1.1v1.1h-1.1zM153.1 343.7h1.1v1.1h-1.1zM163.0 341.7h1.1v1.1h-1.1zM158.3 341.7h1.1v1.1h-1.1zM165.6 348.7h1.1v1.1h-1.1zM166.5 342.5h1.1v1.1h-1.1zM172.3 346.6h1.1v1.1h-1.1zM160.0 341.1h1.1v1.1h-1.1zM165.8 340.9h1.1v1.1h-1.1zM161.3 344.9h1.1v1.1h-1.1zM163.9 340.2h1.1v1.1h-1.1zM159.5 342.3h1.1v1.1h-1.1zM165.5 338.5h1.1v1.1h-1.1zM166.5 343.6h1.1v1.1h-1.1zM169.3 345.3h1.1v1.1h-1.1zM166.9 339.9h1.1v1.1h-1.1zM168.8 343.4h1.1v1.1h-1.1zM169.6 335.9h1.1v1.1h-1.1zM166.0 350.3h1.1v1.1h-1.1zM157.8 344.4h1.1v1.1h-1.1zM162.0 344.8h1.1v1.1h-1.1zM152.5 340.4h1.1v1.1h-1.1zM159.1 350.0h1.1v1.1h-1.1zM161.0 348.0h1.1v1.1h-1.1zM165.1 344.0h1.1v1.1h-1.1zM160.3 340.6h1.1v1.1h-1.1zM159.6 349.9h1.1v1.1h-1.1zM173.4 344.4h1.1v1.1h-1.1zM158.7 343.2h1.1v1.1h-1.1zM165.7 346.5h1.1v1.1h-1.1zM163.6 345.7h1.1v1.1h-1.1zM162.2 347.1h1.1v1.1h-1.1zM164.1 343.7h1.1v1.1h-1.1zM160.0 343.3h1.1v1.1h-1.1zM162.5 341.9h1.1v1.1h-1.1zM156.3 350.1h1.1v1.1h-1.1zM170.1 342.2h1.1v1.1h-1.1zM161.0 341.0h1.1v1.1h-1.1zM162.0 342.6h1.1v1.1h-1.1zM149.8 345.8h1.1v1.1h-1.1zM162.6 348.5h1.1v1.1h-1.1zM169.4 345.1h1.1v1.1h-1.1zM173.0 340.1h1.1v1.1h-1.1zM162.1 342.5h1.1v1.1h-1.1zM168.5 340.0h1.1v1.1h-1.1zM171.5 340.9h1.1v1.1h-1.1zM165.3 342.4h1.1v1.1h-1.1zM158.8 347.0h1.1v1.1h-1.1zM160.9 345.9h1.1v1.1h-1.1zM166.0 348.3h1.1v1.1h-1.1zM168.6 342.1h1.1v1.1h-1.1zM170.6 347.5h1.1v1.1h-1.1zM158.5 347.1h1.1v1.1h-1.1zM159.6 337.0h1.1v1.1h-1.1zM160.9 348.6h1.1v1.1h-1.1zM163.2 346.1h1.1v1.1h-1.1zM177.8 345.3h1.1v1.1h-1.1zM159.4 343.3h1.1v1.1h-1.1zM168.9 344.0h1.1v1.1h-1.1zM165.4 349.5h1.1v1.1h-1.1zM161.5 346.6h1.1v1.1h-1.1zM162.7 344.7h1.1v1.1h-1.1zM162.9 342.5h1.1v1.1h-1.1zM159.6 347.2h1.1v1.1h-1.1zM173.2 344.4h1.1v1.1h-1.1zM167.8 343.9h1.1v1.1h-1.1zM161.3 337.5h1.1v1.1h-1.1zM169.0 346.3h1.1v1.1h-1.1zM168.2 343.9h1.1v1.1h-1.1zM163.7 344.4h1.1v1.1h-1.1zM167.3 347.6h1.1v1.1h-1.1zM160.3 342.1h1.1v1.1h-1.1zM169.1 345.6h1.1v1.1h-1.1zM164.2 344.3h1.1v1.1h-1.1zM162.4 346.8h1.1v1.1h-1.1zM160.5 340.5h1.1v1.1h-1.1zM163.3 340.8h1.1v1.1h-1.1zM167.0 345.6h1.1v1.1h-1.1zM165.0 343.1h1.1v1.1h-1.1zM162.4 346.8h1.1v1.1h-1.1zM159.8 345.7h1.1v1.1h-1.1zM161.2 345.3h1.1v1.1h-1.1zM158.0 346.3h1.1v1.1h-1.1zM171.4 344.2h1.1v1.1h-1.1zM156.7 343.9h1.1v1.1h-1.1zM163.9 348.4h1.1v1.1h-1.1zM141.5 362.9h1.1v1.1h-1.1zM147.9 356.5h1.1v1.1h-1.1zM145.7 354.0h1.1v1.1h-1.1zM139.6 354.7h1.1v1.1h-1.1zM141.0 351.5h1.1v1.1h-1.1zM144.8 357.4h1.1v1.1h-1.1zM138.3 352.7h1.1v1.1h-1.1zM140.8 360.0h1.1v1.1h-1.1zM147.4 364.3h1.1v1.1h-1.1zM145.7 362.4h1.1v1.1h-1.1zM141.6 361.6h1.1v1.1h-1.1zM148.9 354.3h1.1v1.1h-1.1zM148.9 358.4h1.1v1.1h-1.1zM141.2 352.8h1.1v1.1h-1.1zM144.3 360.9h1.1v1.1h-1.1zM148.4 360.4h1.1v1.1h-1.1zM144.5 351.4h1.1v1.1h-1.1zM146.0 356.5h1.1v1.1h-1.1zM139.3 359.3h1.1v1.1h-1.1zM144.6 358.9h1.1v1.1h-1.1zM148.6 358.5h1.1v1.1h-1.1zM144.1 353.3h1.1v1.1h-1.1zM138.4 363.1h1.1v1.1h-1.1zM143.4 355.6h1.1v1.1h-1.1zM149.7 354.6h1.1v1.1h-1.1zM142.3 357.3h1.1v1.1h-1.1zM153.5 354.5h1.1v1.1h-1.1zM142.5 361.4h1.1v1.1h-1.1zM150.5 352.1h1.1v1.1h-1.1zM140.5 359.0h1.1v1.1h-1.1zM144.0 354.0h1.1v1.1h-1.1zM143.4 356.7h1.1v1.1h-1.1zM148.3 358.7h1.1v1.1h-1.1zM142.3 353.8h1.1v1.1h-1.1zM150.9 358.7h1.1v1.1h-1.1zM141.1 357.3h1.1v1.1h-1.1zM143.9 356.1h1.1v1.1h-1.1zM136.1 361.1h1.1v1.1h-1.1zM144.4 360.3h1.1v1.1h-1.1zM146.8 357.6h1.1v1.1h-1.1zM143.7 355.2h1.1v1.1h-1.1zM144.8 358.6h1.1v1.1h-1.1zM147.6 359.1h1.1v1.1h-1.1zM138.6 355.1h1.1v1.1h-1.1zM141.1 358.3h1.1v1.1h-1.1zM145.1 356.0h1.1v1.1h-1.1zM142.4 357.2h1.1v1.1h-1.1zM147.7 359.1h1.1v1.1h-1.1zM146.5 353.5h1.1v1.1h-1.1zM143.6 358.4h1.1v1.1h-1.1zM141.6 355.9h1.1v1.1h-1.1zM144.9 357.3h1.1v1.1h-1.1zM147.0 360.4h1.1v1.1h-1.1zM142.5 354.7h1.1v1.1h-1.1zM142.2 352.4h1.1v1.1h-1.1zM145.4 358.8h1.1v1.1h-1.1zM144.8 351.3h1.1v1.1h-1.1zM144.3 359.0h1.1v1.1h-1.1zM145.7 354.2h1.1v1.1h-1.1zM146.4 354.3h1.1v1.1h-1.1zM146.1 364.1h1.1v1.1h-1.1zM144.9 360.4h1.1v1.1h-1.1zM142.5 357.6h1.1v1.1h-1.1zM145.6 358.6h1.1v1.1h-1.1zM138.6 359.8h1.1v1.1h-1.1zM145.2 354.5h1.1v1.1h-1.1zM143.6 356.7h1.1v1.1h-1.1zM143.5 358.3h1.1v1.1h-1.1zM146.8 361.3h1.1v1.1h-1.1zM145.7 359.6h1.1v1.1h-1.1zM144.4 363.3h1.1v1.1h-1.1zM146.8 352.4h1.1v1.1h-1.1zM144.7 350.2h1.1v1.1h-1.1zM145.2 357.6h1.1v1.1h-1.1z" fill="#cc0a0a"/>
<path d="M150.1 347.6h1.1v1.1h-1.1zM144.0 346.9h1.1v1.1h-1.1zM148.7 344.6h1.1v1.1h-1.1zM147.0 346.9h1.1v1.1h-1.1zM144.6 339.8h1.1v1.1h-1.1zM154.9 346.3h1.1v1.1h-1.1zM143.6 340.4h1.1v1.1h-1.1zM150.9 347.7h1.1v1.1h-1.1zM143.0 342.7h1.1v1.1h-1.1zM146.6 344.8h1.1v1.1h-1.1zM149.3 343.5h1.1v1.1h-1.1zM146.1 344.8h1.1v1.1h-1.1zM152.1 344.9h1.1v1.1h-1.1zM149.4 345.1h1.1v1.1h-1.1zM147.7 347.7h1.1v1.1h-1.1zM150.0 339.9h1.1v1.1h-1.1zM151.5 343.0h1.1v1.1h-1.1zM139.6 345.1h1.1v1.1h-1.1zM147.0 343.4h1.1v1.1h-1.1zM146.4 347.5h1.1v1.1h-1.1zM141.2 349.5h1.1v1.1h-1.1zM145.9 346.1h1.1v1.1h-1.1zM152.1 347.5h1.1v1.1h-1.1zM149.0 343.8h1.1v1.1h-1.1zM146.8 346.4h1.1v1.1h-1.1zM145.7 346.8h1.1v1.1h-1.1zM150.8 343.1h1.1v1.1h-1.1zM141.5 345.9h1.1v1.1h-1.1zM143.8 340.9h1.1v1.1h-1.1zM148.2 347.3h1.1v1.1h-1.1zM148.1 345.6h1.1v1.1h-1.1zM152.0 347.4h1.1v1.1h-1.1zM140.1 340.9h1.1v1.1h-1.1zM143.2 339.1h1.1v1.1h-1.1zM143.4 349.2h1.1v1.1h-1.1zM153.3 347.3h1.1v1.1h-1.1zM148.7 341.8h1.1v1.1h-1.1zM140.9 336.7h1.1v1.1h-1.1zM144.9 342.0h1.1v1.1h-1.1zM143.8 341.9h1.1v1.1h-1.1zM149.5 346.3h1.1v1.1h-1.1zM147.2 341.8h1.1v1.1h-1.1zM145.5 339.6h1.1v1.1h-1.1zM149.3 347.7h1.1v1.1h-1.1zM148.5 352.1h1.1v1.1h-1.1zM144.0 347.4h1.1v1.1h-1.1zM148.2 343.6h1.1v1.1h-1.1zM140.0 339.6h1.1v1.1h-1.1zM136.3 345.1h1.1v1.1h-1.1zM148.8 347.1h1.1v1.1h-1.1zM149.8 343.8h1.1v1.1h-1.1zM150.8 341.6h1.1v1.1h-1.1zM145.0 344.3h1.1v1.1h-1.1zM145.9 344.9h1.1v1.1h-1.1zM151.3 342.4h1.1v1.1h-1.1zM145.2 340.0h1.1v1.1h-1.1zM146.2 344.3h1.1v1.1h-1.1zM139.2 343.7h1.1v1.1h-1.1zM147.5 336.2h1.1v1.1h-1.1zM144.8 345.0h1.1v1.1h-1.1zM148.7 343.5h1.1v1.1h-1.1zM144.5 343.8h1.1v1.1h-1.1zM148.9 347.9h1.1v1.1h-1.1zM151.9 350.9h1.1v1.1h-1.1zM149.6 344.2h1.1v1.1h-1.1zM150.0 340.9h1.1v1.1h-1.1zM149.7 347.1h1.1v1.1h-1.1zM144.4 349.6h1.1v1.1h-1.1zM143.6 341.2h1.1v1.1h-1.1zM152.4 341.9h1.1v1.1h-1.1zM151.4 348.6h1.1v1.1h-1.1zM147.7 343.0h1.1v1.1h-1.1zM148.6 344.5h1.1v1.1h-1.1zM150.8 345.9h1.1v1.1h-1.1zM145.4 342.5h1.1v1.1h-1.1zM154.2 342.4h1.1v1.1h-1.1zM146.4 346.9h1.1v1.1h-1.1zM153.8 343.6h1.1v1.1h-1.1zM143.8 348.2h1.1v1.1h-1.1zM147.4 346.3h1.1v1.1h-1.1zM154.2 352.0h1.1v1.1h-1.1zM148.3 341.9h1.1v1.1h-1.1zM145.0 344.1h1.1v1.1h-1.1zM164.6 341.8h1.1v1.1h-1.1zM158.7 343.0h1.1v1.1h-1.1zM163.9 342.4h1.1v1.1h-1.1zM167.2 344.6h1.1v1.1h-1.1zM164.5 344.3h1.1v1.1h-1.1zM171.1 342.5h1.1v1.1h-1.1zM164.6 344.6h1.1v1.1h-1.1zM156.8 342.5h1.1v1.1h-1.1zM164.0 343.4h1.1v1.1h-1.1zM165.2 343.3h1.1v1.1h-1.1zM155.1 346.0h1.1v1.1h-1.1zM166.2 343.0h1.1v1.1h-1.1zM167.2 349.4h1.1v1.1h-1.1zM155.8 340.8h1.1v1.1h-1.1zM170.7 345.2h1.1v1.1h-1.1zM162.9 344.0h1.1v1.1h-1.1zM165.0 338.2h1.1v1.1h-1.1zM168.7 343.2h1.1v1.1h-1.1zM162.6 349.9h1.1v1.1h-1.1zM161.0 340.4h1.1v1.1h-1.1zM167.4 340.1h1.1v1.1h-1.1zM164.2 343.3h1.1v1.1h-1.1zM169.2 342.1h1.1v1.1h-1.1zM174.8 347.0h1.1v1.1h-1.1zM164.9 343.4h1.1v1.1h-1.1zM161.7 345.8h1.1v1.1h-1.1zM164.2 344.4h1.1v1.1h-1.1zM158.2 348.2h1.1v1.1h-1.1zM155.8 346.7h1.1v1.1h-1.1zM162.0 347.0h1.1v1.1h-1.1zM160.2 345.9h1.1v1.1h-1.1zM162.3 345.7h1.1v1.1h-1.1zM146.2 341.6h1.1v1.1h-1.1zM159.7 346.0h1.1v1.1h-1.1zM158.4 346.1h1.1v1.1h-1.1zM164.4 337.8h1.1v1.1h-1.1zM159.2 341.5h1.1v1.1h-1.1zM166.1 348.0h1.1v1.1h-1.1zM167.0 348.7h1.1v1.1h-1.1zM162.5 348.5h1.1v1.1h-1.1zM165.7 345.2h1.1v1.1h-1.1zM170.0 345.0h1.1v1.1h-1.1zM166.2 344.9h1.1v1.1h-1.1zM161.0 343.6h1.1v1.1h-1.1zM179.3 340.4h1.1v1.1h-1.1zM158.4 343.5h1.1v1.1h-1.1zM162.0 342.9h1.1v1.1h-1.1zM167.7 348.2h1.1v1.1h-1.1zM171.4 340.6h1.1v1.1h-1.1zM156.2 346.6h1.1v1.1h-1.1zM160.1 344.3h1.1v1.1h-1.1zM163.5 346.4h1.1v1.1h-1.1zM170.0 346.6h1.1v1.1h-1.1zM162.3 346.0h1.1v1.1h-1.1zM163.2 343.9h1.1v1.1h-1.1zM158.2 342.8h1.1v1.1h-1.1zM160.8 347.1h1.1v1.1h-1.1zM162.3 342.6h1.1v1.1h-1.1zM164.0 347.4h1.1v1.1h-1.1zM161.1 343.5h1.1v1.1h-1.1zM154.5 338.7h1.1v1.1h-1.1zM163.0 343.3h1.1v1.1h-1.1zM169.3 346.0h1.1v1.1h-1.1zM159.3 347.2h1.1v1.1h-1.1zM169.1 340.4h1.1v1.1h-1.1zM169.6 340.7h1.1v1.1h-1.1zM161.9 346.6h1.1v1.1h-1.1zM160.6 345.3h1.1v1.1h-1.1zM161.6 343.4h1.1v1.1h-1.1zM156.9 343.2h1.1v1.1h-1.1zM171.1 351.1h1.1v1.1h-1.1zM163.9 341.6h1.1v1.1h-1.1zM161.5 343.1h1.1v1.1h-1.1zM167.4 341.7h1.1v1.1h-1.1zM163.8 345.0h1.1v1.1h-1.1zM160.5 340.1h1.1v1.1h-1.1zM159.2 343.4h1.1v1.1h-1.1zM162.2 345.0h1.1v1.1h-1.1zM165.1 344.1h1.1v1.1h-1.1zM145.7 357.6h1.1v1.1h-1.1zM149.3 354.6h1.1v1.1h-1.1zM146.4 360.6h1.1v1.1h-1.1zM142.2 366.0h1.1v1.1h-1.1zM140.9 363.0h1.1v1.1h-1.1zM145.9 364.8h1.1v1.1h-1.1zM136.5 357.8h1.1v1.1h-1.1zM146.7 359.3h1.1v1.1h-1.1zM140.5 349.0h1.1v1.1h-1.1zM144.1 356.6h1.1v1.1h-1.1zM141.4 356.4h1.1v1.1h-1.1zM147.5 361.3h1.1v1.1h-1.1zM143.0 355.9h1.1v1.1h-1.1zM141.7 351.0h1.1v1.1h-1.1zM147.7 355.3h1.1v1.1h-1.1zM150.5 362.8h1.1v1.1h-1.1zM144.0 361.9h1.1v1.1h-1.1zM151.6 356.9h1.1v1.1h-1.1zM147.7 353.7h1.1v1.1h-1.1zM145.4 353.2h1.1v1.1h-1.1zM143.6 360.7h1.1v1.1h-1.1zM143.0 366.7h1.1v1.1h-1.1zM141.6 356.1h1.1v1.1h-1.1zM144.6 349.5h1.1v1.1h-1.1zM139.3 360.9h1.1v1.1h-1.1zM145.8 359.0h1.1v1.1h-1.1zM143.8 358.0h1.1v1.1h-1.1zM143.6 358.8h1.1v1.1h-1.1zM144.9 356.7h1.1v1.1h-1.1zM142.6 355.8h1.1v1.1h-1.1zM140.2 357.7h1.1v1.1h-1.1zM140.3 349.2h1.1v1.1h-1.1zM144.9 355.8h1.1v1.1h-1.1zM145.1 356.7h1.1v1.1h-1.1zM141.8 357.0h1.1v1.1h-1.1zM149.3 353.9h1.1v1.1h-1.1zM145.0 358.8h1.1v1.1h-1.1zM145.0 365.3h1.1v1.1h-1.1zM141.9 354.1h1.1v1.1h-1.1zM143.9 352.9h1.1v1.1h-1.1zM147.4 361.9h1.1v1.1h-1.1zM141.2 361.1h1.1v1.1h-1.1zM147.6 356.5h1.1v1.1h-1.1zM143.2 357.9h1.1v1.1h-1.1zM150.8 363.0h1.1v1.1h-1.1zM148.5 359.2h1.1v1.1h-1.1zM145.0 358.2h1.1v1.1h-1.1zM144.8 357.7h1.1v1.1h-1.1zM145.4 355.2h1.1v1.1h-1.1zM146.4 353.1h1.1v1.1h-1.1zM142.6 355.0h1.1v1.1h-1.1zM145.9 356.6h1.1v1.1h-1.1zM148.7 352.1h1.1v1.1h-1.1zM151.5 359.8h1.1v1.1h-1.1zM145.5 359.0h1.1v1.1h-1.1zM142.9 357.7h1.1v1.1h-1.1zM146.1 359.4h1.1v1.1h-1.1zM153.8 360.0h1.1v1.1h-1.1zM147.3 360.5h1.1v1.1h-1.1zM136.6 359.2h1.1v1.1h-1.1zM145.0 357.0h1.1v1.1h-1.1zM147.6 351.6h1.1v1.1h-1.1zM147.4 356.9h1.1v1.1h-1.1zM145.0 351.9h1.1v1.1h-1.1z" fill="#f02818"/>
<path d="M145.4 349.5h1.1v1.1h-1.1zM145.7 347.8h1.1v1.1h-1.1zM142.6 342.1h1.1v1.1h-1.1zM146.6 345.1h1.1v1.1h-1.1zM143.4 339.7h1.1v1.1h-1.1zM145.0 346.3h1.1v1.1h-1.1zM143.2 341.3h1.1v1.1h-1.1zM148.0 350.5h1.1v1.1h-1.1zM141.6 341.8h1.1v1.1h-1.1zM146.1 340.8h1.1v1.1h-1.1zM150.6 342.9h1.1v1.1h-1.1zM143.9 341.1h1.1v1.1h-1.1zM150.7 345.5h1.1v1.1h-1.1zM149.9 340.7h1.1v1.1h-1.1zM144.8 346.2h1.1v1.1h-1.1zM153.6 341.8h1.1v1.1h-1.1zM148.8 340.8h1.1v1.1h-1.1zM142.2 342.8h1.1v1.1h-1.1zM150.9 346.2h1.1v1.1h-1.1zM145.5 346.7h1.1v1.1h-1.1zM152.4 338.7h1.1v1.1h-1.1zM152.3 343.6h1.1v1.1h-1.1zM153.6 347.5h1.1v1.1h-1.1zM148.5 342.0h1.1v1.1h-1.1zM147.4 342.8h1.1v1.1h-1.1zM150.4 343.3h1.1v1.1h-1.1zM151.4 346.2h1.1v1.1h-1.1zM148.9 344.7h1.1v1.1h-1.1zM152.6 342.0h1.1v1.1h-1.1zM150.9 347.5h1.1v1.1h-1.1zM148.0 345.7h1.1v1.1h-1.1zM155.8 343.6h1.1v1.1h-1.1zM147.8 345.9h1.1v1.1h-1.1zM151.2 340.2h1.1v1.1h-1.1zM152.9 343.7h1.1v1.1h-1.1zM142.7 340.8h1.1v1.1h-1.1zM146.6 344.1h1.1v1.1h-1.1zM146.0 341.3h1.1v1.1h-1.1zM142.7 338.5h1.1v1.1h-1.1zM139.4 343.4h1.1v1.1h-1.1zM145.6 350.8h1.1v1.1h-1.1zM152.3 343.8h1.1v1.1h-1.1zM143.7 341.3h1.1v1.1h-1.1zM152.7 345.6h1.1v1.1h-1.1zM145.6 344.4h1.1v1.1h-1.1zM144.1 339.4h1.1v1.1h-1.1zM155.8 335.3h1.1v1.1h-1.1zM143.2 342.9h1.1v1.1h-1.1zM150.7 349.6h1.1v1.1h-1.1zM155.2 341.2h1.1v1.1h-1.1zM148.7 349.5h1.1v1.1h-1.1zM146.9 340.8h1.1v1.1h-1.1zM145.5 346.0h1.1v1.1h-1.1zM148.0 344.5h1.1v1.1h-1.1zM152.5 350.9h1.1v1.1h-1.1zM140.8 345.7h1.1v1.1h-1.1zM149.7 343.4h1.1v1.1h-1.1zM146.8 346.1h1.1v1.1h-1.1zM150.0 344.8h1.1v1.1h-1.1zM145.9 339.0h1.1v1.1h-1.1zM150.8 338.5h1.1v1.1h-1.1zM150.0 345.9h1.1v1.1h-1.1zM157.0 346.3h1.1v1.1h-1.1zM151.1 340.5h1.1v1.1h-1.1zM148.5 341.3h1.1v1.1h-1.1zM145.4 343.9h1.1v1.1h-1.1zM150.5 344.5h1.1v1.1h-1.1zM146.1 344.5h1.1v1.1h-1.1zM155.2 349.0h1.1v1.1h-1.1zM148.1 338.6h1.1v1.1h-1.1zM147.4 353.2h1.1v1.1h-1.1zM149.0 347.8h1.1v1.1h-1.1zM151.4 340.2h1.1v1.1h-1.1zM144.8 345.3h1.1v1.1h-1.1zM150.5 341.2h1.1v1.1h-1.1zM150.6 342.5h1.1v1.1h-1.1zM144.6 347.1h1.1v1.1h-1.1zM147.0 345.3h1.1v1.1h-1.1zM145.7 344.9h1.1v1.1h-1.1zM144.0 344.9h1.1v1.1h-1.1zM148.5 344.5h1.1v1.1h-1.1zM146.3 342.2h1.1v1.1h-1.1zM145.3 344.5h1.1v1.1h-1.1zM147.7 340.7h1.1v1.1h-1.1zM140.6 342.7h1.1v1.1h-1.1zM145.2 347.0h1.1v1.1h-1.1zM149.5 347.4h1.1v1.1h-1.1zM139.9 345.2h1.1v1.1h-1.1zM146.4 346.7h1.1v1.1h-1.1zM143.3 341.9h1.1v1.1h-1.1zM149.1 343.4h1.1v1.1h-1.1zM149.9 345.8h1.1v1.1h-1.1zM146.4 345.2h1.1v1.1h-1.1zM148.3 345.3h1.1v1.1h-1.1zM143.0 346.6h1.1v1.1h-1.1zM143.3 344.5h1.1v1.1h-1.1zM144.1 345.0h1.1v1.1h-1.1zM145.1 341.8h1.1v1.1h-1.1zM147.2 342.8h1.1v1.1h-1.1zM142.0 346.2h1.1v1.1h-1.1zM149.0 343.9h1.1v1.1h-1.1zM145.4 348.6h1.1v1.1h-1.1zM147.7 346.5h1.1v1.1h-1.1zM166.8 343.1h1.1v1.1h-1.1zM166.9 343.6h1.1v1.1h-1.1zM173.4 342.0h1.1v1.1h-1.1zM167.8 340.9h1.1v1.1h-1.1zM169.0 345.5h1.1v1.1h-1.1zM165.8 344.7h1.1v1.1h-1.1zM158.8 342.4h1.1v1.1h-1.1zM155.0 346.1h1.1v1.1h-1.1zM152.7 345.5h1.1v1.1h-1.1zM168.4 348.9h1.1v1.1h-1.1zM154.6 342.1h1.1v1.1h-1.1zM162.2 346.9h1.1v1.1h-1.1zM160.4 343.1h1.1v1.1h-1.1zM161.1 340.8h1.1v1.1h-1.1zM175.0 340.9h1.1v1.1h-1.1zM163.3 343.1h1.1v1.1h-1.1zM163.2 349.7h1.1v1.1h-1.1zM156.1 341.5h1.1v1.1h-1.1zM158.4 343.7h1.1v1.1h-1.1zM163.3 347.3h1.1v1.1h-1.1zM159.3 346.9h1.1v1.1h-1.1zM161.8 345.9h1.1v1.1h-1.1zM165.2 337.2h1.1v1.1h-1.1zM167.0 338.3h1.1v1.1h-1.1zM163.7 343.4h1.1v1.1h-1.1zM163.4 345.0h1.1v1.1h-1.1zM160.8 348.2h1.1v1.1h-1.1zM160.5 343.8h1.1v1.1h-1.1zM159.8 343.0h1.1v1.1h-1.1zM158.4 346.8h1.1v1.1h-1.1zM157.4 341.7h1.1v1.1h-1.1zM172.7 339.4h1.1v1.1h-1.1zM160.8 341.2h1.1v1.1h-1.1zM160.6 340.9h1.1v1.1h-1.1zM159.9 347.2h1.1v1.1h-1.1zM165.3 346.5h1.1v1.1h-1.1zM166.0 341.0h1.1v1.1h-1.1zM168.2 346.6h1.1v1.1h-1.1zM163.0 343.7h1.1v1.1h-1.1zM160.6 348.5h1.1v1.1h-1.1zM167.5 342.6h1.1v1.1h-1.1zM157.4 343.7h1.1v1.1h-1.1zM163.9 343.1h1.1v1.1h-1.1zM173.0 345.0h1.1v1.1h-1.1zM166.3 342.2h1.1v1.1h-1.1zM162.5 346.3h1.1v1.1h-1.1zM165.6 350.1h1.1v1.1h-1.1zM162.5 339.1h1.1v1.1h-1.1zM166.0 348.6h1.1v1.1h-1.1zM162.9 343.3h1.1v1.1h-1.1zM160.2 340.7h1.1v1.1h-1.1zM165.9 350.6h1.1v1.1h-1.1zM165.1 342.0h1.1v1.1h-1.1zM159.7 343.5h1.1v1.1h-1.1zM165.5 346.6h1.1v1.1h-1.1zM160.1 343.0h1.1v1.1h-1.1zM164.2 345.2h1.1v1.1h-1.1zM162.1 343.2h1.1v1.1h-1.1zM165.2 342.2h1.1v1.1h-1.1zM160.0 341.8h1.1v1.1h-1.1zM164.4 345.1h1.1v1.1h-1.1zM169.9 343.2h1.1v1.1h-1.1zM167.2 341.4h1.1v1.1h-1.1zM166.5 343.8h1.1v1.1h-1.1zM164.9 349.8h1.1v1.1h-1.1zM167.3 341.3h1.1v1.1h-1.1zM163.6 347.0h1.1v1.1h-1.1zM165.9 339.5h1.1v1.1h-1.1zM164.0 344.6h1.1v1.1h-1.1zM169.4 340.3h1.1v1.1h-1.1zM168.0 341.2h1.1v1.1h-1.1zM168.4 341.7h1.1v1.1h-1.1zM178.0 341.7h1.1v1.1h-1.1zM172.4 340.9h1.1v1.1h-1.1zM166.1 345.0h1.1v1.1h-1.1zM163.3 344.8h1.1v1.1h-1.1zM162.1 347.6h1.1v1.1h-1.1zM162.3 348.4h1.1v1.1h-1.1zM159.0 349.6h1.1v1.1h-1.1zM167.7 349.5h1.1v1.1h-1.1zM149.9 340.7h1.1v1.1h-1.1zM168.5 348.2h1.1v1.1h-1.1zM165.4 341.0h1.1v1.1h-1.1zM163.3 342.8h1.1v1.1h-1.1zM159.1 344.8h1.1v1.1h-1.1zM169.5 347.2h1.1v1.1h-1.1zM168.0 340.2h1.1v1.1h-1.1zM167.9 348.1h1.1v1.1h-1.1zM173.3 338.5h1.1v1.1h-1.1zM160.4 343.1h1.1v1.1h-1.1zM156.5 342.0h1.1v1.1h-1.1zM173.2 346.1h1.1v1.1h-1.1zM169.1 343.5h1.1v1.1h-1.1zM159.1 341.4h1.1v1.1h-1.1zM154.0 343.1h1.1v1.1h-1.1zM167.1 344.4h1.1v1.1h-1.1zM169.8 340.5h1.1v1.1h-1.1zM166.6 340.2h1.1v1.1h-1.1zM168.0 339.8h1.1v1.1h-1.1zM144.4 356.5h1.1v1.1h-1.1zM141.8 357.3h1.1v1.1h-1.1zM142.1 353.8h1.1v1.1h-1.1zM147.9 354.7h1.1v1.1h-1.1zM146.3 354.7h1.1v1.1h-1.1zM147.3 361.1h1.1v1.1h-1.1zM141.6 352.5h1.1v1.1h-1.1zM150.3 355.4h1.1v1.1h-1.1zM144.5 357.1h1.1v1.1h-1.1zM146.7 354.3h1.1v1.1h-1.1zM146.6 363.6h1.1v1.1h-1.1zM143.2 361.0h1.1v1.1h-1.1zM146.7 354.9h1.1v1.1h-1.1zM142.1 357.2h1.1v1.1h-1.1zM144.4 363.6h1.1v1.1h-1.1zM145.8 359.6h1.1v1.1h-1.1zM146.8 360.1h1.1v1.1h-1.1zM145.8 357.2h1.1v1.1h-1.1zM137.7 357.7h1.1v1.1h-1.1zM142.7 356.0h1.1v1.1h-1.1zM148.7 358.3h1.1v1.1h-1.1zM146.3 355.2h1.1v1.1h-1.1zM141.0 355.3h1.1v1.1h-1.1zM150.7 359.3h1.1v1.1h-1.1zM145.7 364.5h1.1v1.1h-1.1zM151.0 361.1h1.1v1.1h-1.1zM143.5 354.4h1.1v1.1h-1.1zM146.0 354.2h1.1v1.1h-1.1zM145.4 354.0h1.1v1.1h-1.1zM152.0 352.2h1.1v1.1h-1.1zM145.4 360.3h1.1v1.1h-1.1zM144.0 357.6h1.1v1.1h-1.1zM145.1 353.3h1.1v1.1h-1.1zM146.9 351.0h1.1v1.1h-1.1zM141.1 353.6h1.1v1.1h-1.1zM145.0 356.9h1.1v1.1h-1.1zM144.8 356.2h1.1v1.1h-1.1zM146.3 350.8h1.1v1.1h-1.1zM145.5 358.1h1.1v1.1h-1.1zM145.8 353.7h1.1v1.1h-1.1zM148.5 352.4h1.1v1.1h-1.1zM146.1 357.8h1.1v1.1h-1.1zM149.4 355.0h1.1v1.1h-1.1zM150.1 354.4h1.1v1.1h-1.1zM142.1 359.1h1.1v1.1h-1.1zM141.6 349.5h1.1v1.1h-1.1zM143.4 355.8h1.1v1.1h-1.1zM144.0 354.2h1.1v1.1h-1.1zM145.5 358.8h1.1v1.1h-1.1zM143.8 355.0h1.1v1.1h-1.1zM144.2 353.6h1.1v1.1h-1.1zM143.6 359.2h1.1v1.1h-1.1zM139.7 359.6h1.1v1.1h-1.1zM143.5 355.3h1.1v1.1h-1.1zM145.5 356.7h1.1v1.1h-1.1zM143.8 360.2h1.1v1.1h-1.1zM145.7 359.0h1.1v1.1h-1.1zM143.4 359.2h1.1v1.1h-1.1zM144.0 361.0h1.1v1.1h-1.1zM142.4 354.8h1.1v1.1h-1.1zM144.4 356.3h1.1v1.1h-1.1zM145.0 360.8h1.1v1.1h-1.1zM146.3 356.0h1.1v1.1h-1.1zM143.1 355.0h1.1v1.1h-1.1zM148.6 354.9h1.1v1.1h-1.1zM148.4 358.1h1.1v1.1h-1.1zM150.2 356.9h1.1v1.1h-1.1zM142.2 359.5h1.1v1.1h-1.1zM149.9 356.7h1.1v1.1h-1.1zM151.7 360.2h1.1v1.1h-1.1zM151.7 356.3h1.1v1.1h-1.1zM144.5 364.1h1.1v1.1h-1.1zM146.5 361.2h1.1v1.1h-1.1zM146.4 358.0h1.1v1.1h-1.1zM148.6 355.9h1.1v1.1h-1.1zM145.4 355.4h1.1v1.1h-1.1zM141.8 357.3h1.1v1.1h-1.1zM149.0 359.3h1.1v1.1h-1.1zM142.6 358.3h1.1v1.1h-1.1zM145.0 356.2h1.1v1.1h-1.1zM142.2 355.2h1.1v1.1h-1.1zM143.1 352.6h1.1v1.1h-1.1zM140.7 358.9h1.1v1.1h-1.1zM142.8 353.2h1.1v1.1h-1.1zM142.8 360.4h1.1v1.1h-1.1zM144.8 355.2h1.1v1.1h-1.1zM145.1 363.1h1.1v1.1h-1.1z" fill="#e00c0c"/>
<path d="M141.8 357.8h1.1v1.1h-1.1zM150.8 346.6h1.1v1.1h-1.1zM146.8 352.9h1.1v1.1h-1.1zM151.2 353.4h1.1v1.1h-1.1zM146.7 348.7h1.1v1.1h-1.1zM154.7 337.1h1.1v1.1h-1.1zM153.7 345.6h1.1v1.1h-1.1zM141.0 351.5h1.1v1.1h-1.1zM149.4 342.7h1.1v1.1h-1.1zM144.8 352.9h1.1v1.1h-1.1zM156.4 346.1h1.1v1.1h-1.1zM153.2 346.3h1.1v1.1h-1.1zM146.4 341.6h1.1v1.1h-1.1zM140.6 342.2h1.1v1.1h-1.1zM144.4 353.9h1.1v1.1h-1.1zM144.3 341.8h1.1v1.1h-1.1zM149.2 356.4h1.1v1.1h-1.1zM156.9 359.3h1.1v1.1h-1.1z" fill="#802010"/>
<path d="M152.2 345.0h1.1v1.1h-1.1zM148.6 341.4h1.1v1.1h-1.1zM154.5 350.9h1.1v1.1h-1.1zM151.8 348.5h1.1v1.1h-1.1zM149.0 341.4h1.1v1.1h-1.1zM158.7 343.3h1.1v1.1h-1.1zM159.4 354.3h1.1v1.1h-1.1zM154.9 355.2h1.1v1.1h-1.1zM137.8 348.0h1.1v1.1h-1.1zM155.7 360.5h1.1v1.1h-1.1zM153.9 342.9h1.1v1.1h-1.1zM155.6 354.7h1.1v1.1h-1.1zM141.6 346.8h1.1v1.1h-1.1zM160.5 345.9h1.1v1.1h-1.1zM147.6 359.7h1.1v1.1h-1.1zM149.0 347.5h1.1v1.1h-1.1zM152.0 351.3h1.1v1.1h-1.1zM155.3 354.2h1.1v1.1h-1.1zM144.7 341.7h1.1v1.1h-1.1zM139.7 344.2h1.1v1.1h-1.1zM159.5 340.4h1.1v1.1h-1.1zM142.8 347.6h1.1v1.1h-1.1zM161.9 348.7h1.1v1.1h-1.1zM139.4 358.4h1.1v1.1h-1.1zM155.2 355.9h1.1v1.1h-1.1zM152.5 351.2h1.1v1.1h-1.1zM146.2 348.7h1.1v1.1h-1.1zM157.8 344.8h1.1v1.1h-1.1zM133.7 337.2h1.1v1.1h-1.1zM153.0 349.4h1.1v1.1h-1.1zM139.1 345.6h1.1v1.1h-1.1zM151.3 339.4h1.1v1.1h-1.1z" fill="#a01808"/>
<path d="M153.1 335.4h1.1v1.1h-1.1zM156.9 345.0h1.1v1.1h-1.1zM151.9 354.3h1.1v1.1h-1.1zM146.5 354.3h1.1v1.1h-1.1zM145.8 356.0h1.1v1.1h-1.1zM151.5 346.0h1.1v1.1h-1.1zM144.3 340.5h1.1v1.1h-1.1zM152.3 360.7h1.1v1.1h-1.1zM147.5 344.3h1.1v1.1h-1.1zM159.6 337.2h1.1v1.1h-1.1zM154.5 347.3h1.1v1.1h-1.1zM145.0 347.3h1.1v1.1h-1.1zM155.9 338.1h1.1v1.1h-1.1zM150.1 353.5h1.1v1.1h-1.1zM148.8 341.6h1.1v1.1h-1.1zM161.3 350.4h1.1v1.1h-1.1zM143.4 354.7h1.1v1.1h-1.1zM150.7 343.9h1.1v1.1h-1.1zM140.0 339.6h1.1v1.1h-1.1zM148.4 353.2h1.1v1.1h-1.1zM157.4 349.3h1.1v1.1h-1.1zM137.0 361.3h1.1v1.1h-1.1zM146.2 353.4h1.1v1.1h-1.1zM142.3 340.7h1.1v1.1h-1.1z" fill="#c01810"/>
<path d="M152.3 334.6h1.1v1.1h-1.1zM137.0 354.2h1.1v1.1h-1.1zM143.2 343.7h1.1v1.1h-1.1zM157.9 347.0h1.1v1.1h-1.1zM158.4 347.4h1.1v1.1h-1.1zM149.9 348.8h1.1v1.1h-1.1zM133.2 346.4h1.1v1.1h-1.1zM145.4 344.6h1.1v1.1h-1.1zM151.3 335.9h1.1v1.1h-1.1zM150.9 359.4h1.1v1.1h-1.1zM137.4 339.0h1.1v1.1h-1.1zM149.4 337.2h1.1v1.1h-1.1zM154.3 353.1h1.1v1.1h-1.1zM155.8 347.4h1.1v1.1h-1.1zM143.9 348.3h1.1v1.1h-1.1zM141.2 348.8h1.1v1.1h-1.1zM158.7 344.8h1.1v1.1h-1.1zM146.1 343.1h1.1v1.1h-1.1zM153.7 349.5h1.1v1.1h-1.1zM150.0 343.8h1.1v1.1h-1.1zM140.7 351.8h1.1v1.1h-1.1zM160.3 348.8h1.1v1.1h-1.1zM152.6 350.0h1.1v1.1h-1.1zM151.6 353.2h1.1v1.1h-1.1zM151.5 365.0h1.1v1.1h-1.1z" fill="#b02010"/>
<path d="M135.7 352.5h1.0v1.0h-1.0zM148.4 354.3h1.0v1.0h-1.0zM163.7 347.9h1.0v1.0h-1.0zM145.1 342.0h1.0v1.0h-1.0zM144.8 344.2h1.0v1.0h-1.0zM159.1 352.0h1.0v1.0h-1.0zM159.1 352.9h1.0v1.0h-1.0zM154.1 357.7h1.0v1.0h-1.0zM153.0 338.6h1.0v1.0h-1.0zM166.1 352.0h1.0v1.0h-1.0zM142.1 338.7h1.0v1.0h-1.0zM137.6 350.4h1.0v1.0h-1.0zM145.2 348.7h1.0v1.0h-1.0zM159.1 352.9h1.0v1.0h-1.0zM160.2 360.0h1.0v1.0h-1.0zM145.0 348.5h1.0v1.0h-1.0zM143.9 353.9h1.0v1.0h-1.0zM156.2 352.2h1.0v1.0h-1.0zM133.5 342.4h1.0v1.0h-1.0zM144.5 355.3h1.0v1.0h-1.0zM157.2 346.4h1.0v1.0h-1.0zM161.7 355.4h1.0v1.0h-1.0zM140.6 359.3h1.0v1.0h-1.0zM149.8 350.7h1.0v1.0h-1.0zM151.7 352.3h1.0v1.0h-1.0zM157.4 338.1h1.0v1.0h-1.0zM161.9 353.7h1.0v1.0h-1.0zM148.3 352.9h1.0v1.0h-1.0zM155.0 364.1h1.0v1.0h-1.0zM144.4 356.7h1.0v1.0h-1.0zM153.9 348.5h1.0v1.0h-1.0zM157.4 351.3h1.0v1.0h-1.0zM149.5 352.6h1.0v1.0h-1.0zM153.1 338.4h1.0v1.0h-1.0zM149.4 335.7h1.0v1.0h-1.0zM148.2 349.3h1.0v1.0h-1.0zM160.0 347.8h1.0v1.0h-1.0zM143.4 341.0h1.0v1.0h-1.0zM171.5 351.9h1.0v1.0h-1.0zM153.4 344.1h1.0v1.0h-1.0zM143.8 349.0h1.0v1.0h-1.0zM146.8 350.4h1.0v1.0h-1.0zM147.6 348.3h1.0v1.0h-1.0zM144.0 350.9h1.0v1.0h-1.0z" fill="#f06848"/>
<path d="M146.4 341.9h1.0v1.0h-1.0zM162.8 337.4h1.0v1.0h-1.0zM139.3 348.7h1.0v1.0h-1.0zM155.7 343.4h1.0v1.0h-1.0zM146.9 354.9h1.0v1.0h-1.0zM151.3 347.9h1.0v1.0h-1.0zM174.0 354.9h1.0v1.0h-1.0zM142.2 358.7h1.0v1.0h-1.0zM150.5 342.6h1.0v1.0h-1.0zM149.0 351.8h1.0v1.0h-1.0zM151.3 350.8h1.0v1.0h-1.0zM152.5 355.7h1.0v1.0h-1.0zM143.8 346.3h1.0v1.0h-1.0zM148.7 350.7h1.0v1.0h-1.0zM133.2 350.3h1.0v1.0h-1.0zM136.1 345.0h1.0v1.0h-1.0zM144.2 334.9h1.0v1.0h-1.0zM144.1 347.9h1.0v1.0h-1.0zM156.9 348.9h1.0v1.0h-1.0zM156.2 345.9h1.0v1.0h-1.0zM143.2 341.9h1.0v1.0h-1.0zM146.2 353.0h1.0v1.0h-1.0zM146.9 347.5h1.0v1.0h-1.0zM150.7 343.8h1.0v1.0h-1.0zM152.6 359.4h1.0v1.0h-1.0zM144.5 358.0h1.0v1.0h-1.0zM149.2 341.9h1.0v1.0h-1.0zM143.5 344.5h1.0v1.0h-1.0zM138.3 347.1h1.0v1.0h-1.0zM146.7 348.2h1.0v1.0h-1.0zM152.1 355.8h1.0v1.0h-1.0zM160.0 355.6h1.0v1.0h-1.0zM139.0 355.2h1.0v1.0h-1.0zM159.0 341.6h1.0v1.0h-1.0zM157.4 352.7h1.0v1.0h-1.0zM162.8 346.7h1.0v1.0h-1.0zM156.7 352.8h1.0v1.0h-1.0zM142.9 342.0h1.0v1.0h-1.0zM143.2 348.3h1.0v1.0h-1.0zM155.3 341.7h1.0v1.0h-1.0zM150.9 344.1h1.0v1.0h-1.0zM138.9 350.3h1.0v1.0h-1.0zM153.4 347.3h1.0v1.0h-1.0zM150.4 352.2h1.0v1.0h-1.0zM156.5 347.8h1.0v1.0h-1.0zM149.8 350.3h1.0v1.0h-1.0zM159.5 348.0h1.0v1.0h-1.0z" fill="#f8a888"/>
<path d="M151.2 347.9h1.0v1.0h-1.0zM157.0 348.3h1.0v1.0h-1.0zM166.6 344.7h1.0v1.0h-1.0zM136.5 349.1h1.0v1.0h-1.0zM156.6 351.7h1.0v1.0h-1.0zM146.5 339.3h1.0v1.0h-1.0zM148.1 348.9h1.0v1.0h-1.0zM153.8 357.1h1.0v1.0h-1.0zM162.6 346.0h1.0v1.0h-1.0zM160.7 343.5h1.0v1.0h-1.0zM155.7 346.7h1.0v1.0h-1.0zM148.1 358.4h1.0v1.0h-1.0zM146.7 350.6h1.0v1.0h-1.0zM154.1 355.9h1.0v1.0h-1.0zM151.6 343.7h1.0v1.0h-1.0zM146.0 339.3h1.0v1.0h-1.0zM149.2 366.1h1.0v1.0h-1.0zM158.3 347.4h1.0v1.0h-1.0zM147.9 342.8h1.0v1.0h-1.0zM143.1 347.9h1.0v1.0h-1.0zM157.8 355.5h1.0v1.0h-1.0zM156.6 355.0h1.0v1.0h-1.0zM143.8 346.0h1.0v1.0h-1.0zM157.5 344.8h1.0v1.0h-1.0zM176.3 345.4h1.0v1.0h-1.0zM142.5 350.8h1.0v1.0h-1.0zM147.5 346.0h1.0v1.0h-1.0zM150.7 359.7h1.0v1.0h-1.0zM134.6 354.7h1.0v1.0h-1.0zM144.3 348.2h1.0v1.0h-1.0zM140.7 352.4h1.0v1.0h-1.0zM154.6 349.7h1.0v1.0h-1.0zM143.4 345.8h1.0v1.0h-1.0zM132.2 340.1h1.0v1.0h-1.0zM155.0 337.4h1.0v1.0h-1.0zM156.9 352.2h1.0v1.0h-1.0zM160.0 347.5h1.0v1.0h-1.0zM148.1 344.3h1.0v1.0h-1.0zM157.9 350.0h1.0v1.0h-1.0zM145.1 347.0h1.0v1.0h-1.0zM143.8 359.6h1.0v1.0h-1.0z" fill="#f08060"/>
<path d="M139.8 344.0h1.0v1.0h-1.0zM160.1 359.3h1.0v1.0h-1.0zM159.5 357.4h1.0v1.0h-1.0zM160.4 343.7h1.0v1.0h-1.0zM152.6 344.2h1.0v1.0h-1.0zM136.1 352.0h1.0v1.0h-1.0zM150.9 356.2h1.0v1.0h-1.0zM144.8 342.6h1.0v1.0h-1.0zM153.5 355.1h1.0v1.0h-1.0zM155.6 339.3h1.0v1.0h-1.0zM166.2 341.4h1.0v1.0h-1.0zM152.4 342.9h1.0v1.0h-1.0zM165.2 353.5h1.0v1.0h-1.0zM176.0 342.5h1.0v1.0h-1.0zM156.9 341.0h1.0v1.0h-1.0zM163.9 353.6h1.0v1.0h-1.0zM149.6 345.9h1.0v1.0h-1.0zM152.9 355.0h1.0v1.0h-1.0zM154.7 347.1h1.0v1.0h-1.0zM151.4 351.5h1.0v1.0h-1.0zM164.9 343.7h1.0v1.0h-1.0zM153.6 350.2h1.0v1.0h-1.0zM158.3 354.5h1.0v1.0h-1.0zM159.1 339.6h1.0v1.0h-1.0zM145.5 348.0h1.0v1.0h-1.0zM144.5 346.7h1.0v1.0h-1.0zM163.8 340.8h1.0v1.0h-1.0z" fill="#fbc0a8"/>
<path d="M272.7 348.7h1.0v1.0h-1.0zM269.2 344.0h1.0v1.0h-1.0zM277.2 358.4h1.0v1.0h-1.0zM269.5 353.8h1.0v1.0h-1.0zM276.4 354.0h1.0v1.0h-1.0zM260.4 353.5h1.0v1.0h-1.0zM267.9 341.0h1.0v1.0h-1.0zM262.5 346.4h1.0v1.0h-1.0zM278.0 358.6h1.0v1.0h-1.0zM270.5 346.8h1.0v1.0h-1.0zM274.3 351.7h1.0v1.0h-1.0zM265.9 354.4h1.0v1.0h-1.0zM264.6 352.5h1.0v1.0h-1.0zM267.6 352.9h1.0v1.0h-1.0zM279.7 342.8h1.0v1.0h-1.0zM275.8 358.3h1.0v1.0h-1.0zM269.1 363.4h1.0v1.0h-1.0zM277.1 340.6h1.0v1.0h-1.0zM268.3 343.8h1.0v1.0h-1.0zM264.4 341.9h1.0v1.0h-1.0zM277.5 354.3h1.0v1.0h-1.0zM273.2 344.2h1.0v1.0h-1.0zM266.5 350.1h1.0v1.0h-1.0zM271.7 351.9h1.0v1.0h-1.0zM251.6 351.6h1.0v1.0h-1.0zM270.9 352.0h1.0v1.0h-1.0zM270.0 357.3h1.0v1.0h-1.0zM265.9 347.1h1.0v1.0h-1.0zM271.7 350.5h1.0v1.0h-1.0zM279.9 347.1h1.0v1.0h-1.0zM275.2 338.7h1.0v1.0h-1.0zM265.9 347.1h1.0v1.0h-1.0zM270.4 355.6h1.0v1.0h-1.0zM257.1 353.7h1.0v1.0h-1.0zM274.6 344.0h1.0v1.0h-1.0zM275.5 357.0h1.0v1.0h-1.0zM274.2 344.5h1.0v1.0h-1.0zM268.9 347.6h1.0v1.0h-1.0zM264.4 352.2h1.0v1.0h-1.0zM269.5 351.5h1.0v1.0h-1.0zM268.8 350.4h1.0v1.0h-1.0zM274.7 351.1h1.0v1.0h-1.0zM271.1 343.4h1.0v1.0h-1.0zM260.7 353.1h1.0v1.0h-1.0zM273.1 336.5h1.0v1.0h-1.0zM277.0 344.3h1.0v1.0h-1.0zM269.0 355.4h1.0v1.0h-1.0zM264.4 355.9h1.0v1.0h-1.0zM253.5 355.8h1.0v1.0h-1.0zM272.7 355.3h1.0v1.0h-1.0zM268.5 340.0h1.0v1.0h-1.0zM259.0 346.2h1.0v1.0h-1.0zM268.4 347.9h1.0v1.0h-1.0zM265.4 335.6h1.0v1.0h-1.0zM265.8 346.1h1.0v1.0h-1.0zM264.4 353.9h1.0v1.0h-1.0zM266.5 337.4h1.0v1.0h-1.0zM260.7 345.3h1.0v1.0h-1.0z" fill="#904830"/>
<path d="M278.3 350.3h1.0v1.0h-1.0zM268.8 349.6h1.0v1.0h-1.0zM277.6 348.6h1.0v1.0h-1.0zM272.9 356.2h1.0v1.0h-1.0zM264.4 350.1h1.0v1.0h-1.0zM268.4 350.2h1.0v1.0h-1.0zM264.1 347.4h1.0v1.0h-1.0zM287.8 338.3h1.0v1.0h-1.0zM269.4 348.3h1.0v1.0h-1.0zM264.7 347.4h1.0v1.0h-1.0zM276.0 350.4h1.0v1.0h-1.0zM270.4 350.7h1.0v1.0h-1.0zM271.1 337.9h1.0v1.0h-1.0zM277.5 341.6h1.0v1.0h-1.0zM270.4 355.3h1.0v1.0h-1.0zM280.1 344.2h1.0v1.0h-1.0zM268.9 348.6h1.0v1.0h-1.0zM270.9 353.5h1.0v1.0h-1.0zM279.5 339.9h1.0v1.0h-1.0zM267.3 338.4h1.0v1.0h-1.0zM274.7 340.1h1.0v1.0h-1.0zM279.4 348.8h1.0v1.0h-1.0zM278.3 342.1h1.0v1.0h-1.0zM277.3 346.8h1.0v1.0h-1.0zM260.6 352.8h1.0v1.0h-1.0zM255.1 353.7h1.0v1.0h-1.0zM288.1 341.0h1.0v1.0h-1.0zM272.9 356.4h1.0v1.0h-1.0zM277.6 345.3h1.0v1.0h-1.0zM271.1 350.6h1.0v1.0h-1.0zM278.7 352.5h1.0v1.0h-1.0zM263.3 342.3h1.0v1.0h-1.0zM275.8 344.4h1.0v1.0h-1.0zM273.2 349.7h1.0v1.0h-1.0zM268.6 342.6h1.0v1.0h-1.0zM282.5 347.8h1.0v1.0h-1.0zM271.8 342.3h1.0v1.0h-1.0zM281.9 350.5h1.0v1.0h-1.0zM275.9 350.7h1.0v1.0h-1.0zM281.8 340.0h1.0v1.0h-1.0zM285.7 332.9h1.0v1.0h-1.0zM278.3 339.9h1.0v1.0h-1.0zM278.9 362.1h1.0v1.0h-1.0zM275.1 348.8h1.0v1.0h-1.0zM276.0 345.6h1.0v1.0h-1.0zM265.2 353.3h1.0v1.0h-1.0zM263.4 344.2h1.0v1.0h-1.0zM281.9 344.9h1.0v1.0h-1.0zM275.5 342.1h1.0v1.0h-1.0zM267.7 347.9h1.0v1.0h-1.0zM276.1 351.8h1.0v1.0h-1.0zM264.5 346.6h1.0v1.0h-1.0zM276.7 347.6h1.0v1.0h-1.0zM266.9 346.0h1.0v1.0h-1.0zM270.2 360.9h1.0v1.0h-1.0zM271.5 339.1h1.0v1.0h-1.0zM262.9 358.2h1.0v1.0h-1.0zM278.2 350.7h1.0v1.0h-1.0zM264.4 346.3h1.0v1.0h-1.0zM261.1 345.6h1.0v1.0h-1.0zM259.0 343.0h1.0v1.0h-1.0zM268.1 348.8h1.0v1.0h-1.0zM268.2 336.6h1.0v1.0h-1.0zM261.9 349.7h1.0v1.0h-1.0zM264.6 339.1h1.0v1.0h-1.0zM260.7 352.5h1.0v1.0h-1.0zM271.8 343.3h1.0v1.0h-1.0zM263.0 336.8h1.0v1.0h-1.0zM264.6 347.8h1.0v1.0h-1.0z" fill="#c87860"/>
<path d="M269.2 341.8h1.0v1.0h-1.0zM268.9 345.9h1.0v1.0h-1.0zM269.9 338.2h1.0v1.0h-1.0zM280.3 350.0h1.0v1.0h-1.0zM274.6 347.3h1.0v1.0h-1.0zM289.2 355.8h1.0v1.0h-1.0zM277.5 334.2h1.0v1.0h-1.0zM283.4 347.1h1.0v1.0h-1.0zM275.3 341.6h1.0v1.0h-1.0zM273.1 337.5h1.0v1.0h-1.0zM265.1 350.9h1.0v1.0h-1.0zM266.7 354.5h1.0v1.0h-1.0zM290.0 346.0h1.0v1.0h-1.0zM265.4 346.7h1.0v1.0h-1.0zM269.4 339.6h1.0v1.0h-1.0zM274.1 349.6h1.0v1.0h-1.0zM264.4 351.6h1.0v1.0h-1.0zM269.3 349.1h1.0v1.0h-1.0zM264.1 353.1h1.0v1.0h-1.0zM271.9 341.6h1.0v1.0h-1.0zM276.9 350.9h1.0v1.0h-1.0zM260.1 353.0h1.0v1.0h-1.0zM274.2 345.4h1.0v1.0h-1.0zM266.8 343.9h1.0v1.0h-1.0zM280.5 336.0h1.0v1.0h-1.0zM279.3 348.4h1.0v1.0h-1.0zM274.0 353.4h1.0v1.0h-1.0zM288.0 346.5h1.0v1.0h-1.0zM264.0 357.4h1.0v1.0h-1.0zM273.1 345.7h1.0v1.0h-1.0zM276.6 335.8h1.0v1.0h-1.0zM264.1 349.9h1.0v1.0h-1.0zM281.6 345.7h1.0v1.0h-1.0zM271.0 346.9h1.0v1.0h-1.0zM268.7 349.9h1.0v1.0h-1.0zM252.0 351.0h1.0v1.0h-1.0zM275.6 349.5h1.0v1.0h-1.0zM269.8 357.3h1.0v1.0h-1.0zM277.1 346.9h1.0v1.0h-1.0zM271.6 346.9h1.0v1.0h-1.0zM280.9 345.3h1.0v1.0h-1.0zM273.0 345.3h1.0v1.0h-1.0zM267.5 350.8h1.0v1.0h-1.0zM272.5 350.7h1.0v1.0h-1.0zM272.0 355.9h1.0v1.0h-1.0zM258.2 356.2h1.0v1.0h-1.0zM287.2 345.6h1.0v1.0h-1.0zM282.7 333.9h1.0v1.0h-1.0zM259.7 348.0h1.0v1.0h-1.0zM266.0 345.9h1.0v1.0h-1.0zM255.1 337.1h1.0v1.0h-1.0zM268.1 341.5h1.0v1.0h-1.0zM259.6 338.5h1.0v1.0h-1.0zM259.4 336.3h1.0v1.0h-1.0zM265.8 354.8h1.0v1.0h-1.0zM265.5 339.2h1.0v1.0h-1.0z" fill="#b06048"/>
<path d="M276.0 354.6h1.0v1.0h-1.0zM274.5 355.2h1.0v1.0h-1.0zM276.2 345.5h1.0v1.0h-1.0zM268.8 356.1h1.0v1.0h-1.0zM269.7 351.5h1.0v1.0h-1.0zM272.0 351.9h1.0v1.0h-1.0zM282.3 350.0h1.0v1.0h-1.0zM276.0 348.4h1.0v1.0h-1.0zM270.4 345.1h1.0v1.0h-1.0zM272.8 344.2h1.0v1.0h-1.0zM274.7 353.5h1.0v1.0h-1.0zM283.2 341.6h1.0v1.0h-1.0zM270.9 344.4h1.0v1.0h-1.0zM268.1 350.8h1.0v1.0h-1.0zM280.9 343.0h1.0v1.0h-1.0zM278.7 345.4h1.0v1.0h-1.0zM276.0 351.4h1.0v1.0h-1.0zM269.1 351.3h1.0v1.0h-1.0zM282.7 351.3h1.0v1.0h-1.0zM266.0 351.6h1.0v1.0h-1.0zM272.1 350.8h1.0v1.0h-1.0zM286.9 343.0h1.0v1.0h-1.0zM270.6 347.0h1.0v1.0h-1.0zM270.0 357.8h1.0v1.0h-1.0zM281.9 343.2h1.0v1.0h-1.0zM273.2 339.1h1.0v1.0h-1.0zM275.2 343.1h1.0v1.0h-1.0zM270.1 359.7h1.0v1.0h-1.0zM281.5 358.1h1.0v1.0h-1.0zM286.0 351.1h1.0v1.0h-1.0zM273.2 349.4h1.0v1.0h-1.0zM276.9 347.3h1.0v1.0h-1.0zM263.4 352.1h1.0v1.0h-1.0zM267.2 342.7h1.0v1.0h-1.0zM262.4 345.5h1.0v1.0h-1.0zM279.6 345.3h1.0v1.0h-1.0zM278.9 347.4h1.0v1.0h-1.0zM276.4 351.6h1.0v1.0h-1.0zM272.9 354.1h1.0v1.0h-1.0zM277.1 341.2h1.0v1.0h-1.0zM286.9 342.0h1.0v1.0h-1.0zM275.6 347.4h1.0v1.0h-1.0zM267.5 348.7h1.0v1.0h-1.0zM270.8 346.5h1.0v1.0h-1.0zM276.9 342.3h1.0v1.0h-1.0zM270.8 350.0h1.0v1.0h-1.0zM264.9 349.2h1.0v1.0h-1.0zM266.1 348.4h1.0v1.0h-1.0zM265.3 348.6h1.0v1.0h-1.0zM260.0 345.5h1.0v1.0h-1.0zM262.6 339.1h1.0v1.0h-1.0zM258.3 348.9h1.0v1.0h-1.0z" fill="#f0c0a0"/>
<path d="M274.9 352.4h1.0v1.0h-1.0zM273.8 348.4h1.0v1.0h-1.0zM274.5 346.0h1.0v1.0h-1.0zM266.9 354.1h1.0v1.0h-1.0zM276.8 338.9h1.0v1.0h-1.0zM269.2 356.2h1.0v1.0h-1.0zM274.0 349.4h1.0v1.0h-1.0zM259.3 357.7h1.0v1.0h-1.0zM280.9 335.7h1.0v1.0h-1.0zM279.6 349.4h1.0v1.0h-1.0zM266.8 353.4h1.0v1.0h-1.0zM267.7 363.1h1.0v1.0h-1.0zM286.4 353.4h1.0v1.0h-1.0zM278.5 352.6h1.0v1.0h-1.0zM283.8 352.0h1.0v1.0h-1.0zM282.2 354.1h1.0v1.0h-1.0zM272.2 342.9h1.0v1.0h-1.0zM288.6 343.6h1.0v1.0h-1.0zM287.9 336.5h1.0v1.0h-1.0zM271.1 356.5h1.0v1.0h-1.0zM287.8 346.0h1.0v1.0h-1.0zM269.5 349.1h1.0v1.0h-1.0zM258.3 358.4h1.0v1.0h-1.0zM285.8 347.8h1.0v1.0h-1.0zM287.1 347.1h1.0v1.0h-1.0zM269.0 352.3h1.0v1.0h-1.0zM276.7 339.5h1.0v1.0h-1.0zM273.7 354.7h1.0v1.0h-1.0zM280.7 355.8h1.0v1.0h-1.0zM270.5 349.5h1.0v1.0h-1.0zM265.9 339.7h1.0v1.0h-1.0zM271.0 346.5h1.0v1.0h-1.0zM270.6 352.1h1.0v1.0h-1.0zM264.4 358.2h1.0v1.0h-1.0zM280.7 348.9h1.0v1.0h-1.0zM273.0 345.8h1.0v1.0h-1.0zM272.2 348.8h1.0v1.0h-1.0zM266.7 346.3h1.0v1.0h-1.0zM277.5 351.1h1.0v1.0h-1.0zM267.0 359.3h1.0v1.0h-1.0zM264.9 345.1h1.0v1.0h-1.0zM281.3 346.9h1.0v1.0h-1.0zM281.9 331.3h1.0v1.0h-1.0zM291.4 335.3h1.0v1.0h-1.0zM269.5 357.8h1.0v1.0h-1.0zM289.6 348.3h1.0v1.0h-1.0zM279.2 355.5h1.0v1.0h-1.0zM274.7 344.9h1.0v1.0h-1.0zM272.1 351.0h1.0v1.0h-1.0zM277.0 344.6h1.0v1.0h-1.0zM282.9 346.4h1.0v1.0h-1.0zM270.1 347.4h1.0v1.0h-1.0zM267.2 347.3h1.0v1.0h-1.0zM263.9 355.7h1.0v1.0h-1.0zM275.9 335.5h1.0v1.0h-1.0zM284.8 345.8h1.0v1.0h-1.0zM277.7 340.5h1.0v1.0h-1.0zM276.4 349.9h1.0v1.0h-1.0zM264.8 347.5h1.0v1.0h-1.0zM278.0 343.6h1.0v1.0h-1.0zM275.1 353.5h1.0v1.0h-1.0zM273.9 353.0h1.0v1.0h-1.0zM278.5 347.0h1.0v1.0h-1.0zM262.0 343.3h1.0v1.0h-1.0zM262.1 346.4h1.0v1.0h-1.0zM257.4 347.6h1.0v1.0h-1.0zM265.5 353.9h1.0v1.0h-1.0z" fill="#e07060"/>
<path d="M267.5 346.4h1.0v1.0h-1.0zM277.6 350.7h1.0v1.0h-1.0zM282.2 348.9h1.0v1.0h-1.0zM263.2 354.9h1.0v1.0h-1.0zM278.0 351.5h1.0v1.0h-1.0zM269.9 357.2h1.0v1.0h-1.0zM267.0 342.4h1.0v1.0h-1.0zM272.7 353.8h1.0v1.0h-1.0zM280.4 337.8h1.0v1.0h-1.0zM273.9 351.0h1.0v1.0h-1.0zM268.4 344.8h1.0v1.0h-1.0zM275.4 352.5h1.0v1.0h-1.0zM264.7 345.0h1.0v1.0h-1.0zM285.3 349.2h1.0v1.0h-1.0zM277.7 352.1h1.0v1.0h-1.0zM278.7 342.8h1.0v1.0h-1.0zM269.0 347.4h1.0v1.0h-1.0zM277.8 355.3h1.0v1.0h-1.0zM259.8 348.8h1.0v1.0h-1.0zM266.7 349.8h1.0v1.0h-1.0zM279.8 339.1h1.0v1.0h-1.0zM276.6 346.9h1.0v1.0h-1.0zM280.9 340.4h1.0v1.0h-1.0zM281.1 352.8h1.0v1.0h-1.0zM277.3 353.1h1.0v1.0h-1.0zM273.6 342.8h1.0v1.0h-1.0zM286.6 348.1h1.0v1.0h-1.0zM265.5 341.0h1.0v1.0h-1.0zM263.8 342.6h1.0v1.0h-1.0zM275.6 346.8h1.0v1.0h-1.0zM276.9 334.8h1.0v1.0h-1.0zM283.9 345.6h1.0v1.0h-1.0zM281.5 354.1h1.0v1.0h-1.0zM264.6 344.7h1.0v1.0h-1.0zM261.3 330.4h1.0v1.0h-1.0zM260.8 341.7h1.0v1.0h-1.0zM267.1 345.7h1.0v1.0h-1.0zM268.3 347.1h1.0v1.0h-1.0zM268.8 339.2h1.0v1.0h-1.0zM264.0 342.0h1.0v1.0h-1.0zM262.1 348.6h1.0v1.0h-1.0z" fill="#e8a888"/>
<path d="M264.5 348.9h1.0v1.0h-1.0zM270.6 346.6h1.0v1.0h-1.0zM278.2 345.6h1.0v1.0h-1.0zM274.7 345.4h1.0v1.0h-1.0zM271.4 350.8h1.0v1.0h-1.0zM268.3 358.4h1.0v1.0h-1.0zM276.9 351.3h1.0v1.0h-1.0zM275.1 351.3h1.0v1.0h-1.0zM269.8 349.3h1.0v1.0h-1.0zM275.4 348.4h1.0v1.0h-1.0zM264.5 345.6h1.0v1.0h-1.0zM281.1 347.7h1.0v1.0h-1.0zM276.5 357.9h1.0v1.0h-1.0zM268.0 358.8h1.0v1.0h-1.0zM286.1 341.5h1.0v1.0h-1.0zM278.6 352.8h1.0v1.0h-1.0zM272.8 334.7h1.0v1.0h-1.0zM269.0 346.8h1.0v1.0h-1.0zM261.4 352.2h1.0v1.0h-1.0zM277.2 345.5h1.0v1.0h-1.0zM277.7 353.6h1.0v1.0h-1.0zM274.8 347.3h1.0v1.0h-1.0zM277.0 360.3h1.0v1.0h-1.0zM273.5 348.2h1.0v1.0h-1.0zM275.7 338.1h1.0v1.0h-1.0zM280.3 349.0h1.0v1.0h-1.0zM274.4 346.0h1.0v1.0h-1.0zM273.7 345.9h1.0v1.0h-1.0zM275.8 338.8h1.0v1.0h-1.0zM263.6 342.4h1.0v1.0h-1.0zM271.6 359.9h1.0v1.0h-1.0zM275.9 337.7h1.0v1.0h-1.0zM273.1 349.0h1.0v1.0h-1.0zM264.7 353.5h1.0v1.0h-1.0zM278.1 344.9h1.0v1.0h-1.0zM276.2 341.6h1.0v1.0h-1.0zM264.5 352.6h1.0v1.0h-1.0zM276.9 350.8h1.0v1.0h-1.0zM285.5 336.1h1.0v1.0h-1.0zM285.5 358.3h1.0v1.0h-1.0zM273.2 355.5h1.0v1.0h-1.0zM262.6 353.2h1.0v1.0h-1.0zM285.8 344.6h1.0v1.0h-1.0zM263.8 350.0h1.0v1.0h-1.0zM266.7 342.7h1.0v1.0h-1.0zM270.0 339.1h1.0v1.0h-1.0zM271.8 351.2h1.0v1.0h-1.0zM283.2 339.4h1.0v1.0h-1.0zM256.7 344.6h1.0v1.0h-1.0zM267.8 347.1h1.0v1.0h-1.0zM265.6 350.7h1.0v1.0h-1.0zM268.0 356.9h1.0v1.0h-1.0zM255.9 348.5h1.0v1.0h-1.0zM270.3 341.1h1.0v1.0h-1.0zM256.2 350.5h1.0v1.0h-1.0zM267.4 341.7h1.0v1.0h-1.0zM257.5 345.9h1.0v1.0h-1.0zM255.4 344.8h1.0v1.0h-1.0zM260.3 340.2h1.0v1.0h-1.0z" fill="#a86040"/>
<path d="M272.0 357.9h1.0v1.0h-1.0zM277.9 353.9h1.0v1.0h-1.0zM277.7 353.0h1.0v1.0h-1.0zM285.6 339.2h1.0v1.0h-1.0zM267.0 350.5h1.0v1.0h-1.0zM264.7 350.9h1.0v1.0h-1.0zM273.4 350.4h1.0v1.0h-1.0zM273.6 348.1h1.0v1.0h-1.0zM282.5 352.3h1.0v1.0h-1.0zM281.7 344.2h1.0v1.0h-1.0zM272.7 347.2h1.0v1.0h-1.0zM276.4 345.7h1.0v1.0h-1.0zM276.9 344.6h1.0v1.0h-1.0zM276.0 342.5h1.0v1.0h-1.0zM278.3 345.8h1.0v1.0h-1.0zM271.9 346.2h1.0v1.0h-1.0zM274.8 349.7h1.0v1.0h-1.0zM278.8 341.9h1.0v1.0h-1.0zM277.5 346.2h1.0v1.0h-1.0zM283.5 351.5h1.0v1.0h-1.0zM280.1 353.3h1.0v1.0h-1.0zM270.5 350.3h1.0v1.0h-1.0zM288.5 338.7h1.0v1.0h-1.0zM277.9 350.7h1.0v1.0h-1.0zM272.1 355.2h1.0v1.0h-1.0zM260.1 345.2h1.0v1.0h-1.0zM273.5 352.9h1.0v1.0h-1.0zM273.3 346.5h1.0v1.0h-1.0zM273.8 349.6h1.0v1.0h-1.0zM269.4 345.6h1.0v1.0h-1.0zM279.1 346.4h1.0v1.0h-1.0zM279.0 356.3h1.0v1.0h-1.0zM262.0 347.4h1.0v1.0h-1.0zM270.7 349.6h1.0v1.0h-1.0zM276.9 342.8h1.0v1.0h-1.0zM268.2 344.9h1.0v1.0h-1.0zM279.2 349.5h1.0v1.0h-1.0zM281.8 347.1h1.0v1.0h-1.0zM272.5 347.6h1.0v1.0h-1.0zM270.3 350.4h1.0v1.0h-1.0zM274.8 350.0h1.0v1.0h-1.0zM280.3 353.3h1.0v1.0h-1.0zM271.9 350.8h1.0v1.0h-1.0zM284.5 337.2h1.0v1.0h-1.0zM264.0 339.5h1.0v1.0h-1.0zM267.6 342.5h1.0v1.0h-1.0zM283.7 338.4h1.0v1.0h-1.0zM269.8 344.4h1.0v1.0h-1.0zM265.4 346.7h1.0v1.0h-1.0zM263.7 338.9h1.0v1.0h-1.0zM266.2 346.2h1.0v1.0h-1.0z" fill="#c05040"/>
<path d="M272.3 348.4h1.0v1.0h-1.0zM259.7 362.8h1.0v1.0h-1.0zM273.6 348.5h1.0v1.0h-1.0zM277.0 361.3h1.0v1.0h-1.0zM269.8 339.5h1.0v1.0h-1.0zM272.1 353.0h1.0v1.0h-1.0zM272.2 345.0h1.0v1.0h-1.0zM281.7 338.9h1.0v1.0h-1.0zM266.1 352.0h1.0v1.0h-1.0zM259.3 354.9h1.0v1.0h-1.0zM285.9 332.2h1.0v1.0h-1.0zM270.9 348.8h1.0v1.0h-1.0zM274.7 347.6h1.0v1.0h-1.0zM271.5 350.9h1.0v1.0h-1.0zM279.7 345.8h1.0v1.0h-1.0zM282.4 345.2h1.0v1.0h-1.0zM269.3 355.2h1.0v1.0h-1.0zM272.8 345.7h1.0v1.0h-1.0zM275.0 344.3h1.0v1.0h-1.0zM268.9 342.7h1.0v1.0h-1.0zM274.4 340.3h1.0v1.0h-1.0zM271.1 341.4h1.0v1.0h-1.0zM274.7 351.5h1.0v1.0h-1.0zM261.5 353.8h1.0v1.0h-1.0zM287.7 348.4h1.0v1.0h-1.0zM279.2 348.1h1.0v1.0h-1.0zM269.3 356.7h1.0v1.0h-1.0zM268.3 357.3h1.0v1.0h-1.0zM274.3 347.6h1.0v1.0h-1.0zM269.1 350.1h1.0v1.0h-1.0zM274.8 356.4h1.0v1.0h-1.0zM270.9 350.6h1.0v1.0h-1.0zM272.0 339.7h1.0v1.0h-1.0zM268.5 342.8h1.0v1.0h-1.0zM269.9 341.3h1.0v1.0h-1.0zM271.5 351.9h1.0v1.0h-1.0zM274.8 347.0h1.0v1.0h-1.0zM278.0 351.2h1.0v1.0h-1.0zM269.7 348.3h1.0v1.0h-1.0zM271.8 349.7h1.0v1.0h-1.0zM272.4 343.4h1.0v1.0h-1.0zM286.0 350.8h1.0v1.0h-1.0zM273.6 349.3h1.0v1.0h-1.0zM269.9 347.2h1.0v1.0h-1.0zM277.9 344.9h1.0v1.0h-1.0zM285.4 349.9h1.0v1.0h-1.0zM282.2 345.3h1.0v1.0h-1.0zM279.2 338.0h1.0v1.0h-1.0zM273.2 340.8h1.0v1.0h-1.0zM266.6 354.4h1.0v1.0h-1.0zM263.3 342.1h1.0v1.0h-1.0zM271.4 341.7h1.0v1.0h-1.0zM265.8 343.3h1.0v1.0h-1.0zM277.1 350.4h1.0v1.0h-1.0zM280.4 353.0h1.0v1.0h-1.0zM263.7 358.7h1.0v1.0h-1.0zM276.5 340.9h1.0v1.0h-1.0zM257.9 347.8h1.0v1.0h-1.0zM264.0 352.3h1.0v1.0h-1.0zM262.8 347.6h1.0v1.0h-1.0zM264.4 342.8h1.0v1.0h-1.0zM265.2 349.5h1.0v1.0h-1.0zM262.4 347.6h1.0v1.0h-1.0zM271.3 343.8h1.0v1.0h-1.0zM261.8 343.0h1.0v1.0h-1.0zM261.5 346.7h1.0v1.0h-1.0zM254.5 337.3h1.0v1.0h-1.0z" fill="#7a4028"/>
<path d="M266.7 347.7h1.0v1.0h-1.0zM252.4 358.7h1.0v1.0h-1.0zM276.7 347.4h1.0v1.0h-1.0zM268.1 347.3h1.0v1.0h-1.0zM265.1 343.7h1.0v1.0h-1.0zM270.5 353.0h1.0v1.0h-1.0zM278.1 339.7h1.0v1.0h-1.0zM281.3 354.6h1.0v1.0h-1.0zM271.7 342.5h1.0v1.0h-1.0zM268.4 343.9h1.0v1.0h-1.0zM276.6 351.9h1.0v1.0h-1.0zM262.4 347.4h1.0v1.0h-1.0zM282.1 346.1h1.0v1.0h-1.0zM282.2 352.3h1.0v1.0h-1.0zM273.7 343.4h1.0v1.0h-1.0zM274.4 348.5h1.0v1.0h-1.0zM280.1 343.5h1.0v1.0h-1.0zM274.0 350.2h1.0v1.0h-1.0zM264.2 347.4h1.0v1.0h-1.0zM265.4 353.8h1.0v1.0h-1.0zM268.3 349.2h1.0v1.0h-1.0zM275.0 352.6h1.0v1.0h-1.0zM279.3 346.0h1.0v1.0h-1.0zM271.9 347.7h1.0v1.0h-1.0zM271.1 351.2h1.0v1.0h-1.0zM268.4 344.9h1.0v1.0h-1.0zM264.7 349.8h1.0v1.0h-1.0zM266.2 349.8h1.0v1.0h-1.0zM268.7 354.0h1.0v1.0h-1.0zM285.5 342.8h1.0v1.0h-1.0zM274.2 346.1h1.0v1.0h-1.0zM270.6 341.5h1.0v1.0h-1.0zM259.8 351.6h1.0v1.0h-1.0zM276.6 345.1h1.0v1.0h-1.0zM273.3 352.4h1.0v1.0h-1.0zM268.9 344.9h1.0v1.0h-1.0zM274.4 352.6h1.0v1.0h-1.0zM276.1 343.2h1.0v1.0h-1.0zM278.9 355.0h1.0v1.0h-1.0zM266.8 354.7h1.0v1.0h-1.0zM276.3 354.2h1.0v1.0h-1.0zM290.5 339.9h1.0v1.0h-1.0zM273.0 350.4h1.0v1.0h-1.0zM280.7 359.8h1.0v1.0h-1.0zM260.3 346.1h1.0v1.0h-1.0zM277.1 343.4h1.0v1.0h-1.0zM264.0 347.3h1.0v1.0h-1.0zM269.7 357.1h1.0v1.0h-1.0zM265.7 353.4h1.0v1.0h-1.0zM280.5 343.4h1.0v1.0h-1.0zM271.9 332.1h1.0v1.0h-1.0zM262.1 344.7h1.0v1.0h-1.0zM290.3 343.3h1.0v1.0h-1.0zM258.3 342.8h1.0v1.0h-1.0zM256.0 347.8h1.0v1.0h-1.0zM258.6 338.7h1.0v1.0h-1.0zM269.5 345.5h1.0v1.0h-1.0zM256.9 345.7h1.0v1.0h-1.0zM271.6 338.8h1.0v1.0h-1.0z" fill="#d89070"/>
<path d="M285.5 344.3h1.0v1.0h-1.0zM268.1 359.6h1.0v1.0h-1.0zM267.6 349.0h1.0v1.0h-1.0zM269.5 353.2h1.0v1.0h-1.0zM269.1 351.2h1.0v1.0h-1.0zM262.3 348.3h1.0v1.0h-1.0zM291.1 338.4h1.0v1.0h-1.0zM260.9 354.4h1.0v1.0h-1.0zM273.1 346.3h1.0v1.0h-1.0zM272.0 352.7h1.0v1.0h-1.0zM285.3 341.1h1.0v1.0h-1.0zM285.4 347.2h1.0v1.0h-1.0zM275.2 352.7h1.0v1.0h-1.0zM274.4 351.9h1.0v1.0h-1.0zM279.6 346.6h1.0v1.0h-1.0zM274.7 346.3h1.0v1.0h-1.0zM275.6 348.8h1.0v1.0h-1.0zM279.0 347.3h1.0v1.0h-1.0zM270.3 338.7h1.0v1.0h-1.0zM278.7 350.0h1.0v1.0h-1.0zM275.1 350.1h1.0v1.0h-1.0zM264.6 361.6h1.0v1.0h-1.0zM288.2 347.3h1.0v1.0h-1.0zM264.7 351.6h1.0v1.0h-1.0zM270.0 347.2h1.0v1.0h-1.0zM279.8 347.2h1.0v1.0h-1.0zM279.1 339.6h1.0v1.0h-1.0zM277.6 344.5h1.0v1.0h-1.0zM271.1 349.7h1.0v1.0h-1.0zM283.3 349.4h1.0v1.0h-1.0zM267.8 357.8h1.0v1.0h-1.0zM268.4 344.4h1.0v1.0h-1.0zM264.0 348.2h1.0v1.0h-1.0zM267.6 356.0h1.0v1.0h-1.0zM274.9 346.8h1.0v1.0h-1.0zM270.5 342.8h1.0v1.0h-1.0zM269.4 347.0h1.0v1.0h-1.0zM258.8 352.1h1.0v1.0h-1.0zM270.1 349.7h1.0v1.0h-1.0zM273.8 352.2h1.0v1.0h-1.0zM280.8 351.5h1.0v1.0h-1.0zM268.7 351.0h1.0v1.0h-1.0zM272.3 341.5h1.0v1.0h-1.0zM284.5 354.8h1.0v1.0h-1.0zM276.7 337.8h1.0v1.0h-1.0zM264.5 350.9h1.0v1.0h-1.0zM269.0 358.7h1.0v1.0h-1.0zM265.4 361.1h1.0v1.0h-1.0zM278.4 352.7h1.0v1.0h-1.0zM270.9 344.2h1.0v1.0h-1.0zM288.8 345.5h1.0v1.0h-1.0zM277.4 351.3h1.0v1.0h-1.0zM268.2 346.0h1.0v1.0h-1.0zM264.6 355.6h1.0v1.0h-1.0zM281.7 349.5h1.0v1.0h-1.0zM270.7 351.8h1.0v1.0h-1.0zM266.4 342.7h1.0v1.0h-1.0zM256.7 343.0h1.0v1.0h-1.0z" fill="#b87050"/>
<path d="M278.0 350.1h1.0v1.0h-1.0zM279.1 340.6h1.0v1.0h-1.0zM271.8 349.3h1.0v1.0h-1.0zM267.3 349.0h1.0v1.0h-1.0zM279.5 356.3h1.0v1.0h-1.0zM258.2 342.1h1.0v1.0h-1.0zM273.2 358.6h1.0v1.0h-1.0zM269.3 342.2h1.0v1.0h-1.0zM271.8 343.0h1.0v1.0h-1.0zM274.9 348.4h1.0v1.0h-1.0zM271.6 346.5h1.0v1.0h-1.0zM274.7 344.9h1.0v1.0h-1.0zM265.6 341.4h1.0v1.0h-1.0zM285.7 343.4h1.0v1.0h-1.0zM272.3 346.2h1.0v1.0h-1.0zM286.4 351.7h1.0v1.0h-1.0zM269.5 348.3h1.0v1.0h-1.0zM281.6 348.3h1.0v1.0h-1.0zM264.6 338.5h1.0v1.0h-1.0zM265.8 349.6h1.0v1.0h-1.0zM263.4 351.1h1.0v1.0h-1.0zM261.4 359.3h1.0v1.0h-1.0zM272.6 352.4h1.0v1.0h-1.0zM270.7 339.0h1.0v1.0h-1.0zM270.2 344.6h1.0v1.0h-1.0zM276.1 351.3h1.0v1.0h-1.0zM267.4 349.3h1.0v1.0h-1.0zM277.0 349.1h1.0v1.0h-1.0zM284.1 344.5h1.0v1.0h-1.0zM274.6 358.0h1.0v1.0h-1.0zM274.8 346.8h1.0v1.0h-1.0zM274.5 339.4h1.0v1.0h-1.0zM266.6 349.4h1.0v1.0h-1.0zM283.2 343.8h1.0v1.0h-1.0zM276.7 346.7h1.0v1.0h-1.0zM276.5 348.6h1.0v1.0h-1.0zM275.8 343.1h1.0v1.0h-1.0zM263.3 353.5h1.0v1.0h-1.0zM285.0 352.0h1.0v1.0h-1.0zM273.2 339.9h1.0v1.0h-1.0zM276.7 357.5h1.0v1.0h-1.0zM276.4 353.5h1.0v1.0h-1.0zM263.5 355.9h1.0v1.0h-1.0zM280.3 347.7h1.0v1.0h-1.0zM264.8 357.0h1.0v1.0h-1.0zM284.3 341.3h1.0v1.0h-1.0zM281.3 339.2h1.0v1.0h-1.0zM275.5 347.2h1.0v1.0h-1.0zM271.0 341.7h1.0v1.0h-1.0zM285.1 339.9h1.0v1.0h-1.0zM282.1 343.2h1.0v1.0h-1.0zM273.1 350.0h1.0v1.0h-1.0zM259.4 357.0h1.0v1.0h-1.0zM269.0 356.1h1.0v1.0h-1.0zM270.7 348.1h1.0v1.0h-1.0zM271.9 351.6h1.0v1.0h-1.0zM256.4 341.2h1.0v1.0h-1.0zM259.4 344.4h1.0v1.0h-1.0zM269.1 342.2h1.0v1.0h-1.0zM272.3 346.5h1.0v1.0h-1.0zM262.7 355.7h1.0v1.0h-1.0zM258.0 351.1h1.0v1.0h-1.0zM263.4 344.8h1.0v1.0h-1.0z" fill="#d03020"/>
<path d="M262.9 350.2h1.1v1.1h-1.1zM266.2 346.4h1.1v1.1h-1.1zM266.9 347.0h1.1v1.1h-1.1zM265.2 348.9h1.1v1.1h-1.1zM264.9 346.0h1.1v1.1h-1.1zM265.9 344.8h1.1v1.1h-1.1zM267.6 345.1h1.1v1.1h-1.1zM263.7 343.7h1.1v1.1h-1.1zM262.5 341.0h1.1v1.1h-1.1zM265.5 344.3h1.1v1.1h-1.1zM264.0 348.1h1.1v1.1h-1.1zM266.4 346.1h1.1v1.1h-1.1zM264.5 348.6h1.1v1.1h-1.1z" fill="#c01810"/>
<path d="M267.9 345.9h1.1v1.1h-1.1zM263.4 339.0h1.1v1.1h-1.1zM266.0 346.7h1.1v1.1h-1.1zM266.2 342.3h1.1v1.1h-1.1zM266.7 349.3h1.1v1.1h-1.1zM267.6 340.0h1.1v1.1h-1.1zM262.3 346.2h1.1v1.1h-1.1zM267.4 351.6h1.1v1.1h-1.1zM261.1 345.8h1.1v1.1h-1.1zM264.3 341.7h1.1v1.1h-1.1zM265.3 343.8h1.1v1.1h-1.1zM266.0 346.7h1.1v1.1h-1.1z" fill="#f02818"/>
<path d="M260.7 345.2h1.1v1.1h-1.1zM265.1 349.2h1.1v1.1h-1.1zM262.9 347.6h1.1v1.1h-1.1zM261.2 347.0h1.1v1.1h-1.1zM266.9 343.4h1.1v1.1h-1.1zM263.0 346.3h1.1v1.1h-1.1zM264.2 344.9h1.1v1.1h-1.1zM264.5 349.1h1.1v1.1h-1.1zM268.8 353.3h1.1v1.1h-1.1zM269.5 349.3h1.1v1.1h-1.1zM265.5 344.6h1.1v1.1h-1.1zM271.4 344.1h1.1v1.1h-1.1zM265.2 341.9h1.1v1.1h-1.1z" fill="#a01808"/>
<path d="M266.6 345.7h1.1v1.1h-1.1zM258.9 348.8h1.1v1.1h-1.1zM264.4 344.8h1.1v1.1h-1.1zM263.3 346.6h1.1v1.1h-1.1zM265.6 343.3h1.1v1.1h-1.1zM264.7 345.0h1.1v1.1h-1.1zM264.6 346.6h1.1v1.1h-1.1zM265.3 348.7h1.1v1.1h-1.1zM262.1 351.0h1.1v1.1h-1.1zM264.9 347.9h1.1v1.1h-1.1zM262.8 342.1h1.1v1.1h-1.1zM267.4 344.9h1.1v1.1h-1.1zM267.6 348.6h1.1v1.1h-1.1zM268.1 350.3h1.1v1.1h-1.1zM266.7 345.2h1.1v1.1h-1.1zM269.5 348.1h1.1v1.1h-1.1zM264.7 350.3h1.1v1.1h-1.1z" fill="#802010"/>
<path d="M267.1 346.8h1.1v1.1h-1.1zM262.7 344.4h1.1v1.1h-1.1zM265.4 350.4h1.1v1.1h-1.1zM266.9 346.1h1.1v1.1h-1.1zM262.5 342.4h1.1v1.1h-1.1zM263.8 346.5h1.1v1.1h-1.1zM264.7 348.2h1.1v1.1h-1.1zM264.9 349.6h1.1v1.1h-1.1zM266.8 348.0h1.1v1.1h-1.1zM262.7 345.4h1.1v1.1h-1.1zM263.8 335.5h1.1v1.1h-1.1zM266.7 344.2h1.1v1.1h-1.1zM260.0 347.3h1.1v1.1h-1.1zM264.1 348.8h1.1v1.1h-1.1zM268.4 349.2h1.1v1.1h-1.1zM265.6 348.0h1.1v1.1h-1.1zM264.7 342.6h1.1v1.1h-1.1zM263.1 348.7h1.1v1.1h-1.1zM269.9 347.2h1.1v1.1h-1.1z" fill="#b02010"/>
<path d="M262.2 344.9h1.1v1.1h-1.1zM265.3 344.2h1.1v1.1h-1.1zM265.0 347.9h1.1v1.1h-1.1zM266.0 346.2h1.1v1.1h-1.1zM262.4 347.6h1.1v1.1h-1.1zM267.2 348.4h1.1v1.1h-1.1zM261.7 345.0h1.1v1.1h-1.1zM265.3 344.3h1.1v1.1h-1.1zM261.5 345.7h1.1v1.1h-1.1zM271.3 341.2h1.1v1.1h-1.1zM264.8 351.7h1.1v1.1h-1.1zM267.0 343.5h1.1v1.1h-1.1zM266.4 345.9h1.1v1.1h-1.1zM265.1 347.0h1.1v1.1h-1.1zM264.5 344.3h1.1v1.1h-1.1zM264.8 348.7h1.1v1.1h-1.1zM265.3 341.8h1.1v1.1h-1.1zM266.2 342.4h1.1v1.1h-1.1z" fill="#d81008"/>
<path d="M264.5 341.1h1.1v1.1h-1.1zM263.5 350.4h1.1v1.1h-1.1zM261.4 345.0h1.1v1.1h-1.1zM261.6 343.6h1.1v1.1h-1.1zM260.1 344.9h1.1v1.1h-1.1zM258.8 346.3h1.1v1.1h-1.1zM264.4 344.7h1.1v1.1h-1.1zM269.1 344.9h1.1v1.1h-1.1zM266.2 349.0h1.1v1.1h-1.1zM268.4 344.8h1.1v1.1h-1.1zM263.6 348.0h1.1v1.1h-1.1zM264.8 341.5h1.1v1.1h-1.1zM268.3 350.7h1.1v1.1h-1.1zM266.5 347.7h1.1v1.1h-1.1zM264.9 350.9h1.1v1.1h-1.1zM265.2 346.3h1.1v1.1h-1.1zM266.9 349.1h1.1v1.1h-1.1zM266.8 347.7h1.1v1.1h-1.1zM260.9 353.0h1.1v1.1h-1.1z" fill="#cc0a0a"/>
<path d="M261.0 339.9h1.1v1.1h-1.1zM269.0 345.7h1.1v1.1h-1.1zM265.8 344.2h1.1v1.1h-1.1zM263.0 339.6h1.1v1.1h-1.1zM268.8 348.7h1.1v1.1h-1.1zM265.4 343.8h1.1v1.1h-1.1zM265.9 344.4h1.1v1.1h-1.1zM262.0 344.2h1.1v1.1h-1.1zM265.3 349.0h1.1v1.1h-1.1zM264.6 346.8h1.1v1.1h-1.1zM260.5 342.8h1.1v1.1h-1.1zM265.2 348.6h1.1v1.1h-1.1zM266.2 347.6h1.1v1.1h-1.1zM265.9 345.6h1.1v1.1h-1.1zM268.5 345.5h1.1v1.1h-1.1z" fill="#ea1a14"/>
<path d="M264.7 341.9h1.1v1.1h-1.1zM257.8 349.0h1.1v1.1h-1.1zM270.2 349.1h1.1v1.1h-1.1zM265.3 341.6h1.1v1.1h-1.1zM263.9 347.2h1.1v1.1h-1.1zM263.8 349.2h1.1v1.1h-1.1zM265.3 348.7h1.1v1.1h-1.1zM268.2 344.6h1.1v1.1h-1.1zM263.7 353.8h1.1v1.1h-1.1zM262.5 350.3h1.1v1.1h-1.1zM266.3 346.0h1.1v1.1h-1.1zM261.8 344.1h1.1v1.1h-1.1zM266.2 347.2h1.1v1.1h-1.1zM267.4 347.6h1.1v1.1h-1.1z" fill="#e00c0c"/>
<path d="M250.4,361.5 L252.5,357.8 L255.8,355.0 L259.5,352.3 L262.8,350.0 L266.0,348.5 L269.4,348.0 L269.4,360.0 L268,366 L266.6,373.9 L256.5,373.9 L252.8,370.0 L250.8,366.0 Z" fill="#e00808"/>
<path d="M254.6 366.0h1.1v1.1h-1.1zM269.1 361.4h1.1v1.1h-1.1zM256.8 357.2h1.1v1.1h-1.1zM254.0 358.2h1.1v1.1h-1.1zM269.2 355.6h1.1v1.1h-1.1zM260.5 353.2h1.1v1.1h-1.1zM260.8 368.3h1.1v1.1h-1.1zM255.8 369.7h1.1v1.1h-1.1zM267.4 357.6h1.1v1.1h-1.1zM258.3 370.6h1.1v1.1h-1.1zM257.2 367.2h1.1v1.1h-1.1zM267.7 362.0h1.1v1.1h-1.1zM252.6 368.1h1.1v1.1h-1.1zM255.3 363.1h1.1v1.1h-1.1zM255.2 367.8h1.1v1.1h-1.1zM258.8 356.2h1.1v1.1h-1.1zM262.6 352.4h1.1v1.1h-1.1zM263.7 366.0h1.1v1.1h-1.1zM260.6 356.5h1.1v1.1h-1.1zM260.3 353.8h1.1v1.1h-1.1zM268.2 350.3h1.1v1.1h-1.1zM261.8 352.2h1.1v1.1h-1.1zM262.1 373.5h1.1v1.1h-1.1zM266.2 364.9h1.1v1.1h-1.1zM265.7 362.9h1.1v1.1h-1.1zM264.3 360.2h1.1v1.1h-1.1zM255.6 366.3h1.1v1.1h-1.1zM253.0 364.6h1.1v1.1h-1.1zM262.9 370.0h1.1v1.1h-1.1zM264.3 360.3h1.1v1.1h-1.1zM257.3 364.5h1.1v1.1h-1.1zM258.6 362.2h1.1v1.1h-1.1zM258.2 354.3h1.1v1.1h-1.1zM255.9 357.5h1.1v1.1h-1.1zM255.3 358.2h1.1v1.1h-1.1zM255.2 359.3h1.1v1.1h-1.1zM265.3 351.9h1.1v1.1h-1.1zM261.9 356.9h1.1v1.1h-1.1zM262.8 369.7h1.1v1.1h-1.1zM268.7 352.3h1.1v1.1h-1.1zM268.8 362.3h1.1v1.1h-1.1zM265.3 368.4h1.1v1.1h-1.1zM260.5 372.8h1.1v1.1h-1.1zM253.4 358.5h1.1v1.1h-1.1zM257.4 369.8h1.1v1.1h-1.1zM262.7 368.4h1.1v1.1h-1.1zM255.4 368.4h1.1v1.1h-1.1zM257.4 372.9h1.1v1.1h-1.1zM263.6 372.4h1.1v1.1h-1.1zM257.4 369.0h1.1v1.1h-1.1zM250.4 365.9h1.1v1.1h-1.1zM259.5 353.0h1.1v1.1h-1.1zM267.6 364.8h1.1v1.1h-1.1zM268.1 356.9h1.1v1.1h-1.1zM261.6 372.0h1.1v1.1h-1.1zM262.2 350.6h1.1v1.1h-1.1zM265.1 358.1h1.1v1.1h-1.1zM258.6 363.6h1.1v1.1h-1.1zM254.8 357.0h1.1v1.1h-1.1zM267.0 355.5h1.1v1.1h-1.1zM265.6 368.4h1.1v1.1h-1.1zM262.6 365.3h1.1v1.1h-1.1zM266.2 348.9h1.1v1.1h-1.1zM260.6 368.6h1.1v1.1h-1.1zM251.7 368.8h1.1v1.1h-1.1zM253.3 365.4h1.1v1.1h-1.1zM268.3 351.3h1.1v1.1h-1.1zM265.4 361.2h1.1v1.1h-1.1zM262.1 358.1h1.1v1.1h-1.1zM254.4 356.2h1.1v1.1h-1.1zM250.7 364.9h1.1v1.1h-1.1zM266.7 360.5h1.1v1.1h-1.1zM260.1 359.2h1.1v1.1h-1.1zM263.0 349.4h1.1v1.1h-1.1zM265.7 349.9h1.1v1.1h-1.1zM261.9 371.8h1.1v1.1h-1.1zM252.5 362.6h1.1v1.1h-1.1zM260.8 364.6h1.1v1.1h-1.1zM261.8 370.2h1.1v1.1h-1.1zM261.6 368.2h1.1v1.1h-1.1zM264.4 369.9h1.1v1.1h-1.1zM256.3 363.2h1.1v1.1h-1.1zM263.6 351.5h1.1v1.1h-1.1zM260.8 368.0h1.1v1.1h-1.1zM257.0 363.9h1.1v1.1h-1.1zM258.9 370.0h1.1v1.1h-1.1zM262.6 358.4h1.1v1.1h-1.1zM258.1 368.6h1.1v1.1h-1.1zM260.9 371.3h1.1v1.1h-1.1zM252.5 362.7h1.1v1.1h-1.1zM269.2 351.0h1.1v1.1h-1.1zM265.9 363.1h1.1v1.1h-1.1zM256.9 367.9h1.1v1.1h-1.1zM255.8 358.9h1.1v1.1h-1.1zM254.8 367.6h1.1v1.1h-1.1zM253.2 366.9h1.1v1.1h-1.1zM258.2 356.2h1.1v1.1h-1.1zM264.5 359.7h1.1v1.1h-1.1zM255.3 358.6h1.1v1.1h-1.1zM261.7 354.6h1.1v1.1h-1.1zM255.4 366.9h1.1v1.1h-1.1zM257.3 354.3h1.1v1.1h-1.1zM267.3 351.3h1.1v1.1h-1.1zM267.1 350.7h1.1v1.1h-1.1zM259.0 361.7h1.1v1.1h-1.1zM266.5 358.7h1.1v1.1h-1.1zM264.2 354.8h1.1v1.1h-1.1zM256.9 372.4h1.1v1.1h-1.1zM258.0 362.7h1.1v1.1h-1.1zM257.5 368.0h1.1v1.1h-1.1zM257.7 360.7h1.1v1.1h-1.1zM263.7 350.3h1.1v1.1h-1.1zM252.8 365.5h1.1v1.1h-1.1zM261.2 363.6h1.1v1.1h-1.1zM260.5 370.7h1.1v1.1h-1.1zM259.1 366.4h1.1v1.1h-1.1zM266.6 361.4h1.1v1.1h-1.1zM258.3 367.7h1.1v1.1h-1.1zM264.2 364.5h1.1v1.1h-1.1zM260.4 360.9h1.1v1.1h-1.1zM257.9 357.4h1.1v1.1h-1.1zM258.8 365.9h1.1v1.1h-1.1zM258.4 358.7h1.1v1.1h-1.1zM256.0 373.1h1.1v1.1h-1.1zM259.2 358.8h1.1v1.1h-1.1z" fill="#f02818"/>
<path d="M266.3 366.2h1.1v1.1h-1.1zM258.0 366.3h1.1v1.1h-1.1zM265.7 347.7h1.1v1.1h-1.1zM252.0 359.7h1.1v1.1h-1.1zM259.0 357.1h1.1v1.1h-1.1zM256.5 353.6h1.1v1.1h-1.1zM254.1 367.9h1.1v1.1h-1.1zM259.5 372.3h1.1v1.1h-1.1zM256.2 357.6h1.1v1.1h-1.1zM265.5 373.0h1.1v1.1h-1.1zM257.2 363.5h1.1v1.1h-1.1zM265.9 358.0h1.1v1.1h-1.1zM266.2 357.6h1.1v1.1h-1.1zM260.4 365.1h1.1v1.1h-1.1zM262.8 361.5h1.1v1.1h-1.1zM266.2 359.4h1.1v1.1h-1.1zM264.1 353.7h1.1v1.1h-1.1zM252.1 359.6h1.1v1.1h-1.1zM252.7 367.5h1.1v1.1h-1.1zM268.0 357.1h1.1v1.1h-1.1zM267.0 370.9h1.1v1.1h-1.1zM258.6 363.6h1.1v1.1h-1.1zM253.7 367.9h1.1v1.1h-1.1zM265.5 372.8h1.1v1.1h-1.1zM251.5 362.9h1.1v1.1h-1.1zM267.5 348.4h1.1v1.1h-1.1zM264.3 358.5h1.1v1.1h-1.1zM266.0 350.8h1.1v1.1h-1.1zM253.1 366.9h1.1v1.1h-1.1zM252.4 361.4h1.1v1.1h-1.1zM259.3 352.0h1.1v1.1h-1.1zM263.9 358.3h1.1v1.1h-1.1zM254.9 362.3h1.1v1.1h-1.1zM268.2 351.5h1.1v1.1h-1.1zM262.8 371.5h1.1v1.1h-1.1zM268.0 357.8h1.1v1.1h-1.1zM253.4 359.8h1.1v1.1h-1.1zM264.4 373.1h1.1v1.1h-1.1zM262.1 355.2h1.1v1.1h-1.1zM254.9 361.3h1.1v1.1h-1.1zM263.9 356.8h1.1v1.1h-1.1zM266.5 356.3h1.1v1.1h-1.1zM256.4 365.5h1.1v1.1h-1.1zM267.9 355.9h1.1v1.1h-1.1zM262.8 357.8h1.1v1.1h-1.1zM260.9 348.9h1.1v1.1h-1.1zM264.7 348.2h1.1v1.1h-1.1zM254.8 365.8h1.1v1.1h-1.1zM262.9 352.5h1.1v1.1h-1.1zM261.7 367.6h1.1v1.1h-1.1zM263.9 354.4h1.1v1.1h-1.1zM261.2 366.9h1.1v1.1h-1.1zM258.0 359.5h1.1v1.1h-1.1zM266.8 362.0h1.1v1.1h-1.1zM261.0 361.1h1.1v1.1h-1.1zM264.0 359.1h1.1v1.1h-1.1zM261.8 353.5h1.1v1.1h-1.1zM258.4 364.0h1.1v1.1h-1.1zM263.8 363.0h1.1v1.1h-1.1zM251.7 366.3h1.1v1.1h-1.1zM265.1 359.5h1.1v1.1h-1.1zM253.1 359.0h1.1v1.1h-1.1zM254.2 365.0h1.1v1.1h-1.1zM264.3 371.2h1.1v1.1h-1.1zM260.9 356.8h1.1v1.1h-1.1zM264.3 355.2h1.1v1.1h-1.1zM252.4 364.4h1.1v1.1h-1.1zM265.9 350.5h1.1v1.1h-1.1zM268.1 356.3h1.1v1.1h-1.1zM261.7 350.5h1.1v1.1h-1.1zM254.7 360.8h1.1v1.1h-1.1zM262.1 365.2h1.1v1.1h-1.1zM266.9 351.3h1.1v1.1h-1.1zM264.1 355.9h1.1v1.1h-1.1zM255.0 371.0h1.1v1.1h-1.1zM260.3 356.3h1.1v1.1h-1.1zM259.9 373.1h1.1v1.1h-1.1zM264.0 358.0h1.1v1.1h-1.1zM252.5 365.0h1.1v1.1h-1.1zM262.7 351.9h1.1v1.1h-1.1zM257.5 360.2h1.1v1.1h-1.1zM266.2 356.9h1.1v1.1h-1.1zM257.7 363.1h1.1v1.1h-1.1zM269.9 355.7h1.1v1.1h-1.1zM259.5 355.8h1.1v1.1h-1.1zM252.6 363.0h1.1v1.1h-1.1zM263.7 355.1h1.1v1.1h-1.1zM265.6 365.4h1.1v1.1h-1.1zM267.4 353.7h1.1v1.1h-1.1zM267.3 355.8h1.1v1.1h-1.1zM263.3 356.6h1.1v1.1h-1.1zM261.2 366.1h1.1v1.1h-1.1zM263.2 362.3h1.1v1.1h-1.1zM258.4 359.1h1.1v1.1h-1.1zM256.7 364.0h1.1v1.1h-1.1zM259.5 355.7h1.1v1.1h-1.1zM263.4 352.0h1.1v1.1h-1.1zM260.1 356.5h1.1v1.1h-1.1zM255.9 361.6h1.1v1.1h-1.1zM264.8 350.5h1.1v1.1h-1.1zM262.5 358.8h1.1v1.1h-1.1zM251.3 367.2h1.1v1.1h-1.1zM260.4 372.6h1.1v1.1h-1.1zM256.2 360.8h1.1v1.1h-1.1zM260.1 366.5h1.1v1.1h-1.1zM253.3 356.8h1.1v1.1h-1.1zM256.7 360.0h1.1v1.1h-1.1z" fill="#ea1a14"/>
<path d="M265.0 365.2h1.1v1.1h-1.1zM264.1 370.9h1.1v1.1h-1.1zM264.8 351.2h1.1v1.1h-1.1zM260.3 373.1h1.1v1.1h-1.1zM267.5 364.5h1.1v1.1h-1.1zM261.3 359.0h1.1v1.1h-1.1zM255.9 367.6h1.1v1.1h-1.1zM264.0 364.6h1.1v1.1h-1.1zM265.3 357.0h1.1v1.1h-1.1zM253.8 367.3h1.1v1.1h-1.1zM266.7 370.7h1.1v1.1h-1.1zM263.3 355.6h1.1v1.1h-1.1zM254.8 356.7h1.1v1.1h-1.1zM264.0 365.4h1.1v1.1h-1.1zM255.6 359.8h1.1v1.1h-1.1zM257.1 367.5h1.1v1.1h-1.1zM261.2 358.7h1.1v1.1h-1.1zM262.9 351.3h1.1v1.1h-1.1zM260.7 361.2h1.1v1.1h-1.1zM253.8 359.8h1.1v1.1h-1.1zM267.5 353.1h1.1v1.1h-1.1zM265.1 361.9h1.1v1.1h-1.1zM265.1 365.6h1.1v1.1h-1.1zM263.7 354.8h1.1v1.1h-1.1zM264.9 351.4h1.1v1.1h-1.1zM262.6 369.5h1.1v1.1h-1.1zM266.0 354.3h1.1v1.1h-1.1zM261.0 356.6h1.1v1.1h-1.1zM263.7 351.9h1.1v1.1h-1.1zM255.0 366.5h1.1v1.1h-1.1zM264.6 354.8h1.1v1.1h-1.1zM252.0 363.4h1.1v1.1h-1.1zM253.4 359.8h1.1v1.1h-1.1zM256.9 362.5h1.1v1.1h-1.1zM257.9 360.8h1.1v1.1h-1.1zM263.4 356.0h1.1v1.1h-1.1zM264.5 369.4h1.1v1.1h-1.1zM257.1 358.0h1.1v1.1h-1.1zM263.9 349.7h1.1v1.1h-1.1zM267.8 350.8h1.1v1.1h-1.1zM258.2 358.5h1.1v1.1h-1.1zM263.4 353.4h1.1v1.1h-1.1zM251.8 361.2h1.1v1.1h-1.1zM250.7 363.6h1.1v1.1h-1.1zM259.9 373.2h1.1v1.1h-1.1zM265.5 364.9h1.1v1.1h-1.1zM268.8 348.6h1.1v1.1h-1.1zM255.4 356.1h1.1v1.1h-1.1zM254.1 357.6h1.1v1.1h-1.1zM267.2 352.4h1.1v1.1h-1.1zM261.1 371.0h1.1v1.1h-1.1zM264.1 368.7h1.1v1.1h-1.1zM260.5 373.6h1.1v1.1h-1.1zM260.6 350.7h1.1v1.1h-1.1zM264.7 353.2h1.1v1.1h-1.1zM257.3 367.4h1.1v1.1h-1.1zM262.7 358.6h1.1v1.1h-1.1zM259.0 356.3h1.1v1.1h-1.1zM267.6 348.8h1.1v1.1h-1.1zM265.5 349.3h1.1v1.1h-1.1zM267.1 362.0h1.1v1.1h-1.1zM256.5 373.3h1.1v1.1h-1.1zM251.5 363.9h1.1v1.1h-1.1zM263.6 365.5h1.1v1.1h-1.1zM252.8 369.6h1.1v1.1h-1.1zM261.5 359.8h1.1v1.1h-1.1zM259.0 365.0h1.1v1.1h-1.1zM251.5 360.5h1.1v1.1h-1.1zM261.2 355.6h1.1v1.1h-1.1zM263.7 368.8h1.1v1.1h-1.1zM265.6 366.7h1.1v1.1h-1.1zM253.0 363.7h1.1v1.1h-1.1zM262.2 352.8h1.1v1.1h-1.1zM260.3 353.6h1.1v1.1h-1.1zM260.4 369.2h1.1v1.1h-1.1zM259.7 364.1h1.1v1.1h-1.1zM253.9 356.4h1.1v1.1h-1.1zM258.8 367.7h1.1v1.1h-1.1zM255.2 362.4h1.1v1.1h-1.1zM262.9 356.4h1.1v1.1h-1.1zM260.3 364.2h1.1v1.1h-1.1zM255.6 364.2h1.1v1.1h-1.1zM253.9 359.7h1.1v1.1h-1.1zM269.3 359.4h1.1v1.1h-1.1zM253.8 358.7h1.1v1.1h-1.1zM262.2 361.4h1.1v1.1h-1.1zM261.7 355.6h1.1v1.1h-1.1zM261.8 362.9h1.1v1.1h-1.1zM261.7 360.2h1.1v1.1h-1.1zM259.6 364.9h1.1v1.1h-1.1zM257.6 368.7h1.1v1.1h-1.1z" fill="#d81008"/>
<path d="M259.3 371.6h1.1v1.1h-1.1zM261.7 353.6h1.1v1.1h-1.1zM258.5 354.4h1.1v1.1h-1.1zM264.0 355.7h1.1v1.1h-1.1zM259.1 368.9h1.1v1.1h-1.1zM256.8 367.9h1.1v1.1h-1.1zM263.7 356.3h1.1v1.1h-1.1zM254.8 362.7h1.1v1.1h-1.1zM266.5 363.0h1.1v1.1h-1.1zM262.1 359.7h1.1v1.1h-1.1zM264.0 365.3h1.1v1.1h-1.1zM258.1 367.2h1.1v1.1h-1.1zM254.9 361.4h1.1v1.1h-1.1zM264.3 353.6h1.1v1.1h-1.1zM260.5 366.2h1.1v1.1h-1.1zM253.3 360.5h1.1v1.1h-1.1zM258.2 353.4h1.1v1.1h-1.1zM254.8 360.5h1.1v1.1h-1.1zM266.7 349.3h1.1v1.1h-1.1zM265.5 366.0h1.1v1.1h-1.1zM255.0 371.1h1.1v1.1h-1.1zM251.4 359.3h1.1v1.1h-1.1zM258.7 365.7h1.1v1.1h-1.1zM259.7 372.7h1.1v1.1h-1.1zM265.6 372.4h1.1v1.1h-1.1zM254.2 360.3h1.1v1.1h-1.1zM254.7 370.1h1.1v1.1h-1.1zM256.5 372.2h1.1v1.1h-1.1zM261.5 365.7h1.1v1.1h-1.1zM266.9 368.1h1.1v1.1h-1.1zM267.2 362.0h1.1v1.1h-1.1zM255.9 357.9h1.1v1.1h-1.1zM258.4 360.5h1.1v1.1h-1.1zM255.3 364.4h1.1v1.1h-1.1zM257.7 352.6h1.1v1.1h-1.1zM263.3 359.2h1.1v1.1h-1.1zM254.6 360.6h1.1v1.1h-1.1zM254.9 369.1h1.1v1.1h-1.1zM253.1 356.7h1.1v1.1h-1.1zM262.0 355.2h1.1v1.1h-1.1zM266.6 359.7h1.1v1.1h-1.1zM255.9 358.8h1.1v1.1h-1.1zM260.0 361.8h1.1v1.1h-1.1zM256.1 354.3h1.1v1.1h-1.1zM257.4 360.2h1.1v1.1h-1.1zM250.8 365.6h1.1v1.1h-1.1zM266.0 355.1h1.1v1.1h-1.1zM265.7 363.9h1.1v1.1h-1.1zM264.7 356.6h1.1v1.1h-1.1zM262.1 362.4h1.1v1.1h-1.1zM251.6 362.7h1.1v1.1h-1.1zM253.4 367.9h1.1v1.1h-1.1zM257.1 363.1h1.1v1.1h-1.1zM259.7 358.1h1.1v1.1h-1.1zM261.7 367.3h1.1v1.1h-1.1zM266.1 358.9h1.1v1.1h-1.1zM262.2 363.5h1.1v1.1h-1.1zM266.0 357.9h1.1v1.1h-1.1zM254.0 364.7h1.1v1.1h-1.1zM263.7 357.2h1.1v1.1h-1.1zM259.8 359.0h1.1v1.1h-1.1zM266.5 350.3h1.1v1.1h-1.1zM250.6 364.3h1.1v1.1h-1.1zM264.8 367.4h1.1v1.1h-1.1zM257.5 365.0h1.1v1.1h-1.1zM260.1 351.6h1.1v1.1h-1.1zM262.9 354.6h1.1v1.1h-1.1zM253.2 368.4h1.1v1.1h-1.1zM255.1 367.0h1.1v1.1h-1.1zM252.8 367.8h1.1v1.1h-1.1zM260.6 357.3h1.1v1.1h-1.1zM251.8 366.1h1.1v1.1h-1.1zM249.8 365.7h1.1v1.1h-1.1zM267.6 355.9h1.1v1.1h-1.1zM262.6 346.5h1.1v1.1h-1.1zM251.8 360.3h1.1v1.1h-1.1zM254.4 359.3h1.1v1.1h-1.1zM254.3 362.8h1.1v1.1h-1.1zM265.9 362.0h1.1v1.1h-1.1zM261.3 354.9h1.1v1.1h-1.1zM258.1 363.6h1.1v1.1h-1.1zM257.2 369.6h1.1v1.1h-1.1zM258.7 363.4h1.1v1.1h-1.1zM257.1 362.2h1.1v1.1h-1.1zM268.1 356.2h1.1v1.1h-1.1zM256.5 361.4h1.1v1.1h-1.1zM266.9 358.4h1.1v1.1h-1.1zM257.6 366.3h1.1v1.1h-1.1zM258.4 354.7h1.1v1.1h-1.1zM262.2 369.9h1.1v1.1h-1.1zM257.8 359.0h1.1v1.1h-1.1zM255.3 363.5h1.1v1.1h-1.1zM261.5 357.8h1.1v1.1h-1.1zM260.4 373.0h1.1v1.1h-1.1zM255.6 369.4h1.1v1.1h-1.1z" fill="#cc0a0a"/>
<path d="M257.5 355.3h1.1v1.1h-1.1zM260.9 359.0h1.1v1.1h-1.1zM258.1 369.6h1.1v1.1h-1.1zM267.0 348.9h1.1v1.1h-1.1zM259.2 371.8h1.1v1.1h-1.1zM261.5 359.6h1.1v1.1h-1.1zM263.0 369.6h1.1v1.1h-1.1zM259.3 369.5h1.1v1.1h-1.1zM267.1 359.5h1.1v1.1h-1.1zM265.5 352.8h1.1v1.1h-1.1zM260.0 355.4h1.1v1.1h-1.1zM256.2 363.1h1.1v1.1h-1.1zM257.4 372.0h1.1v1.1h-1.1zM266.6 360.6h1.1v1.1h-1.1zM258.6 366.6h1.1v1.1h-1.1zM254.4 357.1h1.1v1.1h-1.1zM261.6 370.6h1.1v1.1h-1.1zM255.6 358.7h1.1v1.1h-1.1zM268.2 361.6h1.1v1.1h-1.1zM256.1 361.3h1.1v1.1h-1.1zM262.8 355.8h1.1v1.1h-1.1zM255.9 367.2h1.1v1.1h-1.1zM267.0 353.2h1.1v1.1h-1.1zM260.8 364.9h1.1v1.1h-1.1zM265.7 364.6h1.1v1.1h-1.1zM256.6 353.7h1.1v1.1h-1.1zM255.6 367.9h1.1v1.1h-1.1zM262.8 360.7h1.1v1.1h-1.1zM261.2 366.8h1.1v1.1h-1.1zM266.1 366.2h1.1v1.1h-1.1zM259.4 354.1h1.1v1.1h-1.1zM256.0 357.8h1.1v1.1h-1.1zM250.1 365.4h1.1v1.1h-1.1zM260.1 369.0h1.1v1.1h-1.1zM257.2 364.3h1.1v1.1h-1.1zM258.1 371.0h1.1v1.1h-1.1zM254.3 358.8h1.1v1.1h-1.1zM267.8 353.9h1.1v1.1h-1.1zM258.8 364.8h1.1v1.1h-1.1zM260.8 354.3h1.1v1.1h-1.1zM270.1 348.1h1.1v1.1h-1.1zM262.7 369.5h1.1v1.1h-1.1zM253.2 366.1h1.1v1.1h-1.1zM258.9 353.3h1.1v1.1h-1.1zM267.0 349.0h1.1v1.1h-1.1zM260.6 354.6h1.1v1.1h-1.1zM254.3 367.1h1.1v1.1h-1.1zM267.3 354.2h1.1v1.1h-1.1zM262.5 366.9h1.1v1.1h-1.1zM257.6 360.2h1.1v1.1h-1.1zM260.5 366.8h1.1v1.1h-1.1zM263.2 371.2h1.1v1.1h-1.1zM256.1 354.6h1.1v1.1h-1.1zM256.2 372.5h1.1v1.1h-1.1zM258.4 371.0h1.1v1.1h-1.1zM259.1 352.8h1.1v1.1h-1.1zM263.1 351.1h1.1v1.1h-1.1zM252.6 371.0h1.1v1.1h-1.1zM264.5 355.0h1.1v1.1h-1.1zM256.0 369.6h1.1v1.1h-1.1zM263.5 358.7h1.1v1.1h-1.1zM267.4 354.4h1.1v1.1h-1.1zM261.4 372.4h1.1v1.1h-1.1zM258.2 370.1h1.1v1.1h-1.1zM260.1 368.9h1.1v1.1h-1.1zM261.2 356.0h1.1v1.1h-1.1zM258.8 360.8h1.1v1.1h-1.1zM266.5 368.4h1.1v1.1h-1.1zM253.0 366.6h1.1v1.1h-1.1zM255.8 355.2h1.1v1.1h-1.1zM263.3 356.5h1.1v1.1h-1.1zM263.5 365.4h1.1v1.1h-1.1zM264.9 348.9h1.1v1.1h-1.1zM263.6 370.4h1.1v1.1h-1.1zM255.5 369.6h1.1v1.1h-1.1zM263.7 363.7h1.1v1.1h-1.1zM264.7 363.4h1.1v1.1h-1.1zM259.1 358.8h1.1v1.1h-1.1zM257.5 367.7h1.1v1.1h-1.1zM265.7 352.5h1.1v1.1h-1.1zM258.2 372.6h1.1v1.1h-1.1zM256.6 368.3h1.1v1.1h-1.1zM254.0 367.5h1.1v1.1h-1.1zM256.6 367.1h1.1v1.1h-1.1zM249.7 364.0h1.1v1.1h-1.1zM254.5 368.5h1.1v1.1h-1.1zM257.9 360.9h1.1v1.1h-1.1zM255.4 372.0h1.1v1.1h-1.1zM252.6 365.2h1.1v1.1h-1.1zM250.8 360.9h1.1v1.1h-1.1zM266.7 355.0h1.1v1.1h-1.1zM263.9 368.2h1.1v1.1h-1.1zM253.7 370.8h1.1v1.1h-1.1zM251.7 363.6h1.1v1.1h-1.1zM254.8 363.0h1.1v1.1h-1.1zM261.6 351.3h1.1v1.1h-1.1zM257.4 362.2h1.1v1.1h-1.1zM259.7 368.3h1.1v1.1h-1.1zM251.8 366.9h1.1v1.1h-1.1zM264.1 368.2h1.1v1.1h-1.1zM261.5 349.0h1.1v1.1h-1.1zM257.7 371.8h1.1v1.1h-1.1z" fill="#e00c0c"/>
<path d="M256.6 357.6h1.1v1.1h-1.1zM254.0 359.4h1.1v1.1h-1.1zM265.0 371.3h1.1v1.1h-1.1zM263.7 358.3h1.1v1.1h-1.1zM264.6 354.4h1.1v1.1h-1.1zM266.6 348.8h1.1v1.1h-1.1zM262.7 363.7h1.1v1.1h-1.1zM262.5 350.9h1.1v1.1h-1.1zM257.5 361.0h1.1v1.1h-1.1zM267.3 365.3h1.1v1.1h-1.1z" fill="#c01810"/>
<path d="M267.2 351.8h1.1v1.1h-1.1zM257.1 363.7h1.1v1.1h-1.1zM263.8 354.9h1.1v1.1h-1.1zM259.2 355.1h1.1v1.1h-1.1zM262.1 351.7h1.1v1.1h-1.1zM261.4 373.1h1.1v1.1h-1.1zM260.4 370.5h1.1v1.1h-1.1zM252.4 364.0h1.1v1.1h-1.1zM262.4 369.5h1.1v1.1h-1.1zM265.3 348.1h1.1v1.1h-1.1zM249.4 364.9h1.1v1.1h-1.1zM266.5 351.8h1.1v1.1h-1.1zM263.0 355.4h1.1v1.1h-1.1z" fill="#a01808"/>
<path d="M266.8 363.3h1.1v1.1h-1.1zM264.4 348.8h1.1v1.1h-1.1zM264.1 360.4h1.1v1.1h-1.1zM256.3 358.5h1.1v1.1h-1.1zM255.8 367.5h1.1v1.1h-1.1zM263.8 361.7h1.1v1.1h-1.1zM267.5 354.0h1.1v1.1h-1.1zM254.4 364.8h1.1v1.1h-1.1zM258.4 357.2h1.1v1.1h-1.1zM264.6 351.5h1.1v1.1h-1.1zM267.5 364.3h1.1v1.1h-1.1zM265.7 363.9h1.1v1.1h-1.1zM262.5 369.4h1.1v1.1h-1.1zM254.1 361.0h1.1v1.1h-1.1zM260.6 369.6h1.1v1.1h-1.1zM262.5 371.8h1.1v1.1h-1.1z" fill="#802010"/>
<path d="M260.0 365.5h1.1v1.1h-1.1zM266.5 353.1h1.1v1.1h-1.1zM252.6 357.2h1.1v1.1h-1.1zM257.2 366.2h1.1v1.1h-1.1zM268.0 370.9h1.1v1.1h-1.1zM265.0 359.2h1.1v1.1h-1.1zM267.3 358.9h1.1v1.1h-1.1zM257.1 361.1h1.1v1.1h-1.1zM251.5 359.1h1.1v1.1h-1.1zM259.9 352.0h1.1v1.1h-1.1zM255.7 368.8h1.1v1.1h-1.1zM269.9 353.9h1.1v1.1h-1.1zM264.1 372.4h1.1v1.1h-1.1zM257.9 361.4h1.1v1.1h-1.1zM254.4 357.1h1.1v1.1h-1.1zM259.7 369.5h1.1v1.1h-1.1zM260.4 359.1h1.1v1.1h-1.1zM257.5 362.8h1.1v1.1h-1.1zM254.7 371.8h1.1v1.1h-1.1zM265.5 353.8h1.1v1.1h-1.1zM263.8 365.1h1.1v1.1h-1.1z" fill="#b02010"/>
<path d="M259.9 364.2h1.1v1.1h-1.1zM263.2 372.0h1.1v1.1h-1.1zM254.4 358.6h1.1v1.1h-1.1zM255.9 370.4h1.1v1.1h-1.1zM254.7 370.0h1.1v1.1h-1.1zM248.0 359.8h1.1v1.1h-1.1zM261.9 365.7h1.1v1.1h-1.1zM249.6 351.6h1.1v1.1h-1.1zM254.7 364.3h1.1v1.1h-1.1z" fill="#e88a70"/>
<path d="M259.7 363.8h1.1v1.1h-1.1zM253.4 350.8h1.1v1.1h-1.1zM257.0 360.2h1.1v1.1h-1.1zM259.8 355.3h1.1v1.1h-1.1zM253.4 370.7h1.1v1.1h-1.1zM263.1 354.5h1.1v1.1h-1.1zM259.4 362.4h1.1v1.1h-1.1zM257.7 373.1h1.1v1.1h-1.1zM263.0 370.3h1.1v1.1h-1.1zM265.9 365.6h1.1v1.1h-1.1zM255.8 360.3h1.1v1.1h-1.1zM258.4 358.7h1.1v1.1h-1.1zM249.4 359.2h1.1v1.1h-1.1z" fill="#d02010"/>
<path d="M270.6 369.8h1.1v1.1h-1.1zM258.2 368.8h1.1v1.1h-1.1zM254.6 361.7h1.1v1.1h-1.1zM252.1 354.5h1.1v1.1h-1.1zM252.1 362.4h1.1v1.1h-1.1zM260.1 359.9h1.1v1.1h-1.1zM254.5 355.5h1.1v1.1h-1.1zM257.9 355.6h1.1v1.1h-1.1zM255.3 365.9h1.1v1.1h-1.1zM257.6 368.0h1.1v1.1h-1.1zM255.7 359.3h1.1v1.1h-1.1zM266.4 357.4h1.1v1.1h-1.1zM253.9 364.1h1.1v1.1h-1.1z" fill="#b03018"/>
<path d="M252.8 370.7h1.1v1.1h-1.1zM255.6 355.8h1.1v1.1h-1.1zM258.3 359.3h1.1v1.1h-1.1zM260.4 364.8h1.1v1.1h-1.1zM256.2 367.0h1.1v1.1h-1.1zM264.2 353.2h1.1v1.1h-1.1zM254.7 363.6h1.1v1.1h-1.1zM254.7 367.5h1.1v1.1h-1.1zM251.0 362.1h1.1v1.1h-1.1zM261.3 369.2h1.1v1.1h-1.1zM255.4 369.9h1.1v1.1h-1.1zM259.3 351.4h1.1v1.1h-1.1zM264.3 371.9h1.1v1.1h-1.1z" fill="#e05030"/>
<path d="M259.1 363.9h1.1v1.1h-1.1zM250.4 360.5h1.1v1.1h-1.1zM256.2 366.4h1.1v1.1h-1.1zM254.9 354.3h1.1v1.1h-1.1zM251.2 364.2h1.1v1.1h-1.1zM253.3 370.9h1.1v1.1h-1.1zM250.7 368.7h1.1v1.1h-1.1zM259.7 358.4h1.1v1.1h-1.1zM261.7 352.6h1.1v1.1h-1.1zM258.5 367.9h1.1v1.1h-1.1zM247.8 364.2h1.1v1.1h-1.1z" fill="#a04020"/>
<path d="M257.0 370.4h1.1v1.1h-1.1zM251.5 358.2h1.1v1.1h-1.1zM252.0 366.4h1.1v1.1h-1.1zM258.3 358.9h1.1v1.1h-1.1zM253.7 364.5h1.1v1.1h-1.1zM251.4 361.1h1.1v1.1h-1.1zM262.0 363.8h1.1v1.1h-1.1zM265.1 370.3h1.1v1.1h-1.1zM253.4 348.9h1.1v1.1h-1.1zM247.8 360.0h1.1v1.1h-1.1zM255.4 363.5h1.1v1.1h-1.1zM258.8 365.2h1.1v1.1h-1.1zM254.4 362.4h1.1v1.1h-1.1zM254.7 357.9h1.1v1.1h-1.1z" fill="#e01010"/>
<path d="M249.4 366.7h1.1v1.1h-1.1zM258.8 370.9h1.1v1.1h-1.1zM252.5 364.4h1.1v1.1h-1.1zM257.7 364.1h1.1v1.1h-1.1zM253.2 367.4h1.1v1.1h-1.1zM252.2 362.5h1.1v1.1h-1.1zM257.9 360.6h1.1v1.1h-1.1z" fill="#903820"/>
<path d="M253.0 357.7h1.1v1.1h-1.1zM259.5 370.9h1.1v1.1h-1.1zM250.5 361.3h1.1v1.1h-1.1zM255.1 367.8h1.1v1.1h-1.1zM256.5 364.5h1.1v1.1h-1.1zM254.0 367.5h1.1v1.1h-1.1zM254.5 358.3h1.1v1.1h-1.1zM261.4 351.1h1.1v1.1h-1.1zM262.7 362.5h1.1v1.1h-1.1z" fill="#c86040"/>
<line x1="154.60" y1="317.80" x2="154.60" y2="374.80" stroke="#111" stroke-width="1.1"/>
<line x1="130.80" y1="352.40" x2="208.00" y2="352.40" stroke="#111" stroke-width="1.1"/>
<line x1="270.20" y1="317.70" x2="270.20" y2="374.60" stroke="#111" stroke-width="1.1"/>
<line x1="246.60" y1="352.60" x2="323.10" y2="352.60" stroke="#111" stroke-width="1.1"/>
<line x1="178.90" y1="332.30" x2="205.60" y2="332.30" stroke="#111" stroke-width="1.1"/>
<line x1="192.10" y1="320.20" x2="192.10" y2="343.80" stroke="#111" stroke-width="1.1"/>
<text x="180.65" y="329.97" font-size="6.50" textLength="8.63" lengthAdjust="spacingAndGlyphs">34</text>
<text x="194.61" y="329.97" font-size="6.50" textLength="9.15" lengthAdjust="spacingAndGlyphs">27</text>
<text x="180.65" y="339.27" font-size="7.07" textLength="8.76" lengthAdjust="spacingAndGlyphs">36</text>
<text x="194.75" y="339.27" font-size="7.07" textLength="4.35" lengthAdjust="spacingAndGlyphs">3</text>
<line x1="294.90" y1="332.30" x2="321.40" y2="332.30" stroke="#111" stroke-width="1.1"/>
<line x1="307.90" y1="319.80" x2="307.90" y2="343.50" stroke="#111" stroke-width="1.1"/>
<text x="301.62" y="330.38" font-size="6.74" textLength="4.27" lengthAdjust="spacingAndGlyphs">5</text>
<text x="310.88" y="330.38" font-size="6.74" textLength="4.09" lengthAdjust="spacingAndGlyphs">4</text>
<text x="296.90" y="339.67" font-size="7.21" textLength="9.02" lengthAdjust="spacingAndGlyphs">88</text>
<text x="310.75" y="339.67" font-size="7.21" textLength="4.35" lengthAdjust="spacingAndGlyphs">3</text>
<text x="347.49" y="12.00" font-size="14.71" textLength="11.03" lengthAdjust="spacingAndGlyphs" font-weight="bold" style="stroke-width:0.8px">C</text>
<line x1="383.50" y1="21.50" x2="383.50" y2="101.50" stroke="#111" stroke-width="1.1"/>
<line x1="383.50" y1="101.00" x2="387.10" y2="101.00" stroke="#111" stroke-width="1.1"/>
<line x1="383.50" y1="94.42" x2="385.70" y2="94.42" stroke="#111" stroke-width="1.1"/>
<line x1="383.50" y1="87.83" x2="387.10" y2="87.83" stroke="#111" stroke-width="1.1"/>
<line x1="383.50" y1="81.25" x2="385.70" y2="81.25" stroke="#111" stroke-width="1.1"/>
<line x1="383.50" y1="74.67" x2="387.10" y2="74.67" stroke="#111" stroke-width="1.1"/>
<line x1="383.50" y1="68.08" x2="385.70" y2="68.08" stroke="#111" stroke-width="1.1"/>
<line x1="383.50" y1="61.50" x2="387.10" y2="61.50" stroke="#111" stroke-width="1.1"/>
<line x1="383.50" y1="54.92" x2="385.70" y2="54.92" stroke="#111" stroke-width="1.1"/>
<line x1="383.50" y1="48.33" x2="387.10" y2="48.33" stroke="#111" stroke-width="1.1"/>
<line x1="383.50" y1="41.75" x2="385.70" y2="41.75" stroke="#111" stroke-width="1.1"/>
<line x1="383.50" y1="35.17" x2="387.10" y2="35.17" stroke="#111" stroke-width="1.1"/>
<line x1="383.50" y1="28.58" x2="385.70" y2="28.58" stroke="#111" stroke-width="1.1"/>
<line x1="383.50" y1="22.00" x2="387.10" y2="22.00" stroke="#111" stroke-width="1.1"/>
<text x="376.27" y="104.38" font-size="8.79" textLength="4.61" lengthAdjust="spacingAndGlyphs">0</text>
<text x="371.15" y="91.21" font-size="8.79" textLength="9.75" lengthAdjust="spacingAndGlyphs">10</text>
<text x="371.14" y="78.04" font-size="8.79" textLength="9.76" lengthAdjust="spacingAndGlyphs">20</text>
<text x="371.13" y="64.88" font-size="8.79" textLength="9.77" lengthAdjust="spacingAndGlyphs">30</text>
<text x="371.13" y="51.71" font-size="8.79" textLength="9.77" lengthAdjust="spacingAndGlyphs">40</text>
<text x="371.14" y="38.54" font-size="8.79" textLength="9.77" lengthAdjust="spacingAndGlyphs">50</text>
<text x="371.14" y="25.38" font-size="8.79" textLength="9.76" lengthAdjust="spacingAndGlyphs">60</text>
<line x1="383.50" y1="101.00" x2="520.00" y2="101.00" stroke="#111" stroke-width="1.1"/>
<line x1="406.10" y1="97.80" x2="406.10" y2="101.00" stroke="#111" stroke-width="1.0"/>
<line x1="451.80" y1="97.80" x2="451.80" y2="101.00" stroke="#111" stroke-width="1.0"/>
<line x1="497.60" y1="97.80" x2="497.60" y2="101.00" stroke="#111" stroke-width="1.0"/>
<text x="354.34" y="86.40" font-size="9.54" textLength="48.52" lengthAdjust="spacingAndGlyphs" style="stroke-width:0.32px" transform="rotate(-90 354.34 86.40)">Percentage</text>
<text x="365.34" y="103.91" font-size="8.94" textLength="84.49" lengthAdjust="spacingAndGlyphs" style="stroke-width:0.32px" transform="rotate(-90 365.34 103.91)">CD4<tspan dy="-3.58" font-size="8.04">+</tspan><tspan dy="3.58" font-size="8.94">CCR7</tspan><tspan dy="-3.58">–</tspan><tspan dy="3.58" font-size="8.94"> T cells</tspan></text>
<line x1="406.50" y1="8.65" x2="496.50" y2="8.65" stroke="#111" stroke-width="1.05"/>
<line x1="406.50" y1="8.65" x2="406.50" y2="10.60" stroke="#111" stroke-width="1.05"/>
<line x1="496.50" y1="8.65" x2="496.50" y2="10.60" stroke="#111" stroke-width="1.05"/>
<line x1="452.40" y1="21.10" x2="496.60" y2="21.10" stroke="#111" stroke-width="1.05"/>
<line x1="452.40" y1="21.10" x2="452.40" y2="23.00" stroke="#111" stroke-width="1.05"/>
<line x1="496.60" y1="21.10" x2="496.60" y2="23.00" stroke="#111" stroke-width="1.05"/>
<line x1="407.30" y1="30.70" x2="451.40" y2="30.70" stroke="#111" stroke-width="1.05"/>
<line x1="407.30" y1="30.70" x2="407.30" y2="33.00" stroke="#111" stroke-width="1.05"/>
<line x1="451.40" y1="30.70" x2="451.40" y2="33.00" stroke="#111" stroke-width="1.05"/>
<text x="436.02" y="6.42" font-size="6.64" textLength="29.79" lengthAdjust="spacingAndGlyphs" style="stroke-width:0.15px"><tspan font-style="italic">P</tspan> = 0.008</text>
<text x="458.90" y="19.32" font-size="6.36" textLength="30.72" lengthAdjust="spacingAndGlyphs" style="stroke-width:0.15px"><tspan font-style="italic">P</tspan> = 0.008</text>
<text x="415.81" y="29.62" font-size="7.07" textLength="26.40" lengthAdjust="spacingAndGlyphs" style="stroke-width:0.15px"><tspan font-style="italic">P</tspan> &gt; 0.05</text>
<text x="398.52" y="112.58" font-size="9.30" textLength="14.78" lengthAdjust="spacingAndGlyphs">HIV</text>
<text x="388.93" y="121.48" font-size="9.30" textLength="34.72" lengthAdjust="spacingAndGlyphs">negative</text>
<text x="435.65" y="112.38" font-size="9.30" textLength="32.47" lengthAdjust="spacingAndGlyphs">Chronic</text>
<text x="434.83" y="121.48" font-size="9.30" textLength="34.30" lengthAdjust="spacingAndGlyphs">infection</text>
<text x="481.40" y="112.38" font-size="9.30" textLength="31.27" lengthAdjust="spacingAndGlyphs">Primary</text>
<text x="480.02" y="121.48" font-size="9.30" textLength="34.71" lengthAdjust="spacingAndGlyphs">infection</text>
<path d="M406.60,58.60 L409.44,63.59 L403.77,63.59 Z" fill="#fff" stroke="#111" stroke-width="1.1"/>
<path d="M403.70,69.90 L406.53,74.89 L400.87,74.89 Z" fill="#fff" stroke="#111" stroke-width="1.1"/>
<path d="M408.70,69.90 L411.53,74.89 L405.87,74.89 Z" fill="#fff" stroke="#111" stroke-width="1.1"/>
<path d="M406.20,72.50 L409.03,77.50 L403.37,77.50 Z" fill="#fff" stroke="#111" stroke-width="1.1"/>
<path d="M402.60,80.90 L405.44,85.89 L399.77,85.89 Z" fill="#fff" stroke="#111" stroke-width="1.1"/>
<path d="M407.60,80.50 L410.44,85.50 L404.77,85.50 Z" fill="#fff" stroke="#111" stroke-width="1.1"/>
<path d="M405.50,82.50 L408.33,87.50 L402.67,87.50 Z" fill="#fff" stroke="#111" stroke-width="1.1"/>
<path d="M407.90,84.30 L410.73,89.30 L405.06,89.30 Z" fill="#fff" stroke="#111" stroke-width="1.1"/>
<path d="M406.50,92.30 L409.33,97.30 L403.67,97.30 Z" fill="#fff" stroke="#111" stroke-width="1.1"/>
<line x1="396.30" y1="79.60" x2="414.00" y2="79.60" stroke="#111" stroke-width="2.0"/>
<circle cx="451.30" cy="52.50" r="2.15" fill="#fff" stroke="#111" stroke-width="1.1"/>
<circle cx="451.30" cy="58.00" r="2.15" fill="#fff" stroke="#111" stroke-width="1.1"/>
<circle cx="451.40" cy="68.30" r="2.15" fill="#fff" stroke="#111" stroke-width="1.1"/>
<circle cx="451.40" cy="73.00" r="2.15" fill="#fff" stroke="#111" stroke-width="1.1"/>
<circle cx="456.80" cy="75.10" r="2.15" fill="#fff" stroke="#111" stroke-width="1.1"/>
<circle cx="446.50" cy="78.90" r="2.15" fill="#fff" stroke="#111" stroke-width="1.1"/>
<circle cx="451.40" cy="79.80" r="2.15" fill="#fff" stroke="#111" stroke-width="1.1"/>
<circle cx="456.80" cy="83.20" r="2.15" fill="#fff" stroke="#111" stroke-width="1.1"/>
<circle cx="451.40" cy="84.40" r="2.15" fill="#fff" stroke="#111" stroke-width="1.1"/>
<circle cx="456.20" cy="86.10" r="2.15" fill="#fff" stroke="#111" stroke-width="1.1"/>
<circle cx="446.90" cy="87.10" r="2.15" fill="#fff" stroke="#111" stroke-width="1.1"/>
<circle cx="451.40" cy="86.50" r="2.15" fill="#fff" stroke="#111" stroke-width="1.1"/>
<circle cx="451.50" cy="90.30" r="2.15" fill="#fff" stroke="#111" stroke-width="1.1"/>
<line x1="443.00" y1="77.20" x2="460.40" y2="77.20" stroke="#111" stroke-width="2.0"/>
<rect x="494.90" y="26.00" width="4.40" height="4.40" fill="#fff" stroke="#111" stroke-width="1.1"/>
<rect x="494.90" y="32.70" width="4.40" height="4.40" fill="#fff" stroke="#111" stroke-width="1.1"/>
<rect x="494.90" y="40.60" width="4.40" height="4.40" fill="#fff" stroke="#111" stroke-width="1.1"/>
<rect x="494.90" y="45.00" width="4.40" height="4.40" fill="#fff" stroke="#111" stroke-width="1.1"/>
<rect x="494.90" y="48.60" width="4.40" height="4.40" fill="#fff" stroke="#111" stroke-width="1.1"/>
<rect x="492.60" y="53.90" width="4.40" height="4.40" fill="#fff" stroke="#111" stroke-width="1.1"/>
<rect x="498.10" y="54.50" width="4.40" height="4.40" fill="#fff" stroke="#111" stroke-width="1.1"/>
<rect x="494.80" y="65.90" width="4.40" height="4.40" fill="#fff" stroke="#111" stroke-width="1.1"/>
<rect x="490.10" y="68.20" width="4.40" height="4.40" fill="#fff" stroke="#111" stroke-width="1.1"/>
<rect x="500.10" y="67.70" width="4.40" height="4.40" fill="#fff" stroke="#111" stroke-width="1.1"/>
<rect x="494.80" y="69.30" width="4.40" height="4.40" fill="#fff" stroke="#111" stroke-width="1.1"/>
<rect x="494.80" y="72.00" width="4.40" height="4.40" fill="#fff" stroke="#111" stroke-width="1.1"/>
<rect x="491.90" y="76.90" width="4.40" height="4.40" fill="#fff" stroke="#111" stroke-width="1.1"/>
<rect x="498.30" y="76.60" width="4.40" height="4.40" fill="#fff" stroke="#111" stroke-width="1.1"/>
<rect x="494.80" y="75.60" width="4.40" height="4.40" fill="#fff" stroke="#111" stroke-width="1.1"/>
<rect x="494.80" y="79.50" width="4.40" height="4.40" fill="#fff" stroke="#111" stroke-width="1.1"/>
<rect x="494.80" y="83.60" width="4.40" height="4.40" fill="#fff" stroke="#111" stroke-width="1.1"/>
<line x1="487.60" y1="62.00" x2="504.80" y2="62.00" stroke="#111" stroke-width="2.0"/>
<line x1="384.30" y1="151.30" x2="384.30" y2="231.20" stroke="#111" stroke-width="1.1"/>
<line x1="384.30" y1="230.70" x2="388.90" y2="230.70" stroke="#111" stroke-width="1.1"/>
<line x1="384.30" y1="226.75" x2="387.50" y2="226.75" stroke="#111" stroke-width="1.1"/>
<line x1="384.30" y1="222.81" x2="387.50" y2="222.81" stroke="#111" stroke-width="1.1"/>
<line x1="384.30" y1="218.86" x2="387.50" y2="218.86" stroke="#111" stroke-width="1.1"/>
<line x1="384.30" y1="214.92" x2="387.50" y2="214.92" stroke="#111" stroke-width="1.1"/>
<line x1="384.30" y1="210.97" x2="388.90" y2="210.97" stroke="#111" stroke-width="1.1"/>
<line x1="384.30" y1="207.03" x2="387.50" y2="207.03" stroke="#111" stroke-width="1.1"/>
<line x1="384.30" y1="203.09" x2="387.50" y2="203.09" stroke="#111" stroke-width="1.1"/>
<line x1="384.30" y1="199.14" x2="387.50" y2="199.14" stroke="#111" stroke-width="1.1"/>
<line x1="384.30" y1="195.19" x2="387.50" y2="195.19" stroke="#111" stroke-width="1.1"/>
<line x1="384.30" y1="191.25" x2="388.90" y2="191.25" stroke="#111" stroke-width="1.1"/>
<line x1="384.30" y1="187.31" x2="387.50" y2="187.31" stroke="#111" stroke-width="1.1"/>
<line x1="384.30" y1="183.36" x2="387.50" y2="183.36" stroke="#111" stroke-width="1.1"/>
<line x1="384.30" y1="179.42" x2="387.50" y2="179.42" stroke="#111" stroke-width="1.1"/>
<line x1="384.30" y1="175.47" x2="387.50" y2="175.47" stroke="#111" stroke-width="1.1"/>
<line x1="384.30" y1="171.53" x2="388.90" y2="171.53" stroke="#111" stroke-width="1.1"/>
<line x1="384.30" y1="167.58" x2="387.50" y2="167.58" stroke="#111" stroke-width="1.1"/>
<line x1="384.30" y1="163.63" x2="387.50" y2="163.63" stroke="#111" stroke-width="1.1"/>
<line x1="384.30" y1="159.69" x2="387.50" y2="159.69" stroke="#111" stroke-width="1.1"/>
<line x1="384.30" y1="155.75" x2="387.50" y2="155.75" stroke="#111" stroke-width="1.1"/>
<line x1="384.30" y1="151.80" x2="388.90" y2="151.80" stroke="#111" stroke-width="1.1"/>
<text x="377.66" y="233.67" font-size="8.21" textLength="4.29" lengthAdjust="spacingAndGlyphs">0</text>
<text x="372.90" y="213.95" font-size="8.21" textLength="9.12" lengthAdjust="spacingAndGlyphs">25</text>
<text x="372.85" y="194.22" font-size="8.21" textLength="9.13" lengthAdjust="spacingAndGlyphs">50</text>
<text x="372.77" y="174.50" font-size="8.33" textLength="9.26" lengthAdjust="spacingAndGlyphs">75</text>
<text x="368.06" y="154.78" font-size="8.21" textLength="13.94" lengthAdjust="spacingAndGlyphs">100</text>
<line x1="384.30" y1="230.80" x2="520.00" y2="230.80" stroke="#111" stroke-width="1.1"/>
<line x1="417.60" y1="227.80" x2="417.60" y2="230.80" stroke="#111" stroke-width="1.0"/>
<line x1="416.90" y1="155.80" x2="485.70" y2="155.80" stroke="#111" stroke-width="1.05"/>
<line x1="416.90" y1="155.80" x2="416.90" y2="157.60" stroke="#111" stroke-width="1.05"/>
<line x1="485.70" y1="155.80" x2="485.70" y2="157.60" stroke="#111" stroke-width="1.05"/>
<text x="434.90" y="153.43" font-size="6.50" textLength="31.06" lengthAdjust="spacingAndGlyphs" style="stroke-width:0.15px"><tspan font-style="italic">P</tspan> = 0.009</text>
<text x="355.84" y="215.49" font-size="9.97" textLength="47.70" lengthAdjust="spacingAndGlyphs" style="stroke-width:0.32px" transform="rotate(-90 355.84 215.49)">Percentage</text>
<text x="366.94" y="220.01" font-size="9.35" textLength="59.38" lengthAdjust="spacingAndGlyphs" style="stroke-width:0.32px" transform="rotate(-90 366.94 220.01)">CCR5<tspan dy="-3.74" font-size="8.42">+</tspan><tspan dy="3.74" font-size="9.35"> T cells</tspan></text>
<line x1="417.60" y1="162.30" x2="486.40" y2="216.40" stroke="#111" stroke-width="1.25"/>
<line x1="417.60" y1="169.90" x2="486.40" y2="220.40" stroke="#111" stroke-width="1.25"/>
<line x1="417.60" y1="173.20" x2="486.40" y2="222.50" stroke="#111" stroke-width="1.25"/>
<line x1="417.60" y1="175.50" x2="486.40" y2="220.40" stroke="#111" stroke-width="1.25"/>
<line x1="417.60" y1="188.80" x2="486.40" y2="226.00" stroke="#111" stroke-width="1.25"/>
<line x1="417.60" y1="217.70" x2="486.40" y2="228.90" stroke="#111" stroke-width="1.25"/>
<circle cx="417.60" cy="162.30" r="2.15" fill="#fff" stroke="#111" stroke-width="1.1"/>
<circle cx="417.60" cy="169.90" r="2.15" fill="#fff" stroke="#111" stroke-width="1.1"/>
<circle cx="417.60" cy="173.20" r="2.15" fill="#fff" stroke="#111" stroke-width="1.1"/>
<circle cx="417.60" cy="175.50" r="2.15" fill="#fff" stroke="#111" stroke-width="1.1"/>
<circle cx="417.60" cy="188.80" r="2.15" fill="#fff" stroke="#111" stroke-width="1.1"/>
<circle cx="417.60" cy="217.70" r="2.15" fill="#fff" stroke="#111" stroke-width="1.1"/>
<circle cx="486.40" cy="228.90" r="2.15" fill="#fff" stroke="#111" stroke-width="1.1"/>
<circle cx="486.40" cy="226.00" r="2.15" fill="#fff" stroke="#111" stroke-width="1.1"/>
<circle cx="486.40" cy="222.50" r="2.15" fill="#fff" stroke="#111" stroke-width="1.1"/>
<circle cx="486.40" cy="220.40" r="2.15" fill="#fff" stroke="#111" stroke-width="1.1"/>
<circle cx="486.40" cy="216.40" r="2.15" fill="#fff" stroke="#111" stroke-width="1.1"/>
<line x1="384.70" y1="248.50" x2="384.70" y2="329.00" stroke="#111" stroke-width="1.1"/>
<line x1="384.70" y1="328.50" x2="388.70" y2="328.50" stroke="#111" stroke-width="1.1"/>
<line x1="384.70" y1="322.82" x2="387.40" y2="322.82" stroke="#111" stroke-width="1.1"/>
<line x1="384.70" y1="317.14" x2="388.70" y2="317.14" stroke="#111" stroke-width="1.1"/>
<line x1="384.70" y1="311.46" x2="387.40" y2="311.46" stroke="#111" stroke-width="1.1"/>
<line x1="384.70" y1="305.79" x2="388.70" y2="305.79" stroke="#111" stroke-width="1.1"/>
<line x1="384.70" y1="300.11" x2="387.40" y2="300.11" stroke="#111" stroke-width="1.1"/>
<line x1="384.70" y1="294.43" x2="388.70" y2="294.43" stroke="#111" stroke-width="1.1"/>
<line x1="384.70" y1="288.75" x2="387.40" y2="288.75" stroke="#111" stroke-width="1.1"/>
<line x1="384.70" y1="283.07" x2="388.70" y2="283.07" stroke="#111" stroke-width="1.1"/>
<line x1="384.70" y1="277.39" x2="387.40" y2="277.39" stroke="#111" stroke-width="1.1"/>
<line x1="384.70" y1="271.71" x2="388.70" y2="271.71" stroke="#111" stroke-width="1.1"/>
<line x1="384.70" y1="266.04" x2="387.40" y2="266.04" stroke="#111" stroke-width="1.1"/>
<line x1="384.70" y1="260.36" x2="388.70" y2="260.36" stroke="#111" stroke-width="1.1"/>
<line x1="384.70" y1="254.68" x2="387.40" y2="254.68" stroke="#111" stroke-width="1.1"/>
<line x1="384.70" y1="249.00" x2="388.70" y2="249.00" stroke="#111" stroke-width="1.1"/>
<text x="378.39" y="331.57" font-size="8.36" textLength="4.37" lengthAdjust="spacingAndGlyphs">0</text>
<text x="373.51" y="320.22" font-size="8.36" textLength="9.27" lengthAdjust="spacingAndGlyphs">10</text>
<text x="373.50" y="308.86" font-size="8.36" textLength="9.28" lengthAdjust="spacingAndGlyphs">20</text>
<text x="373.50" y="297.50" font-size="8.36" textLength="9.29" lengthAdjust="spacingAndGlyphs">30</text>
<text x="373.49" y="286.15" font-size="8.36" textLength="9.30" lengthAdjust="spacingAndGlyphs">40</text>
<text x="373.50" y="274.79" font-size="8.36" textLength="9.29" lengthAdjust="spacingAndGlyphs">50</text>
<text x="373.50" y="263.43" font-size="8.36" textLength="9.28" lengthAdjust="spacingAndGlyphs">60</text>
<text x="373.50" y="252.08" font-size="8.36" textLength="9.28" lengthAdjust="spacingAndGlyphs">70</text>
<line x1="384.70" y1="328.50" x2="520.00" y2="328.50" stroke="#111" stroke-width="1.1"/>
<line x1="417.80" y1="325.50" x2="417.80" y2="328.50" stroke="#111" stroke-width="1.0"/>
<line x1="417.40" y1="251.20" x2="485.70" y2="251.20" stroke="#111" stroke-width="1.05"/>
<line x1="417.40" y1="251.20" x2="417.40" y2="253.10" stroke="#111" stroke-width="1.05"/>
<line x1="485.70" y1="251.20" x2="485.70" y2="253.10" stroke="#111" stroke-width="1.05"/>
<text x="435.99" y="248.83" font-size="6.36" textLength="31.44" lengthAdjust="spacingAndGlyphs" style="stroke-width:0.15px"><tspan font-style="italic">P</tspan> = 0.005</text>
<text x="356.74" y="311.19" font-size="9.25" textLength="47.90" lengthAdjust="spacingAndGlyphs" style="stroke-width:0.32px" transform="rotate(-90 356.74 311.19)">Percentage</text>
<text x="367.24" y="313.00" font-size="8.39" textLength="53.78" lengthAdjust="spacingAndGlyphs" style="stroke-width:0.32px" transform="rotate(-90 367.24 313.00)">Ki67<tspan dy="-3.35" font-size="7.55">+</tspan><tspan dy="3.35" font-size="8.39"> T cells</tspan></text>
<line x1="418.20" y1="257.60" x2="486.80" y2="313.50" stroke="#111" stroke-width="1.25"/>
<line x1="418.20" y1="268.30" x2="486.80" y2="314.50" stroke="#111" stroke-width="1.25"/>
<line x1="418.20" y1="296.50" x2="486.80" y2="317.30" stroke="#111" stroke-width="1.25"/>
<line x1="418.20" y1="299.60" x2="486.80" y2="318.80" stroke="#111" stroke-width="1.25"/>
<line x1="418.20" y1="310.10" x2="486.80" y2="321.30" stroke="#111" stroke-width="1.25"/>
<line x1="418.20" y1="312.70" x2="486.80" y2="323.20" stroke="#111" stroke-width="1.25"/>
<line x1="418.20" y1="325.50" x2="486.80" y2="327.60" stroke="#111" stroke-width="1.25"/>
<circle cx="418.20" cy="257.60" r="2.15" fill="#fff" stroke="#111" stroke-width="1.1"/>
<circle cx="418.20" cy="268.30" r="2.15" fill="#fff" stroke="#111" stroke-width="1.1"/>
<circle cx="418.20" cy="296.50" r="2.15" fill="#fff" stroke="#111" stroke-width="1.1"/>
<circle cx="418.20" cy="299.60" r="2.15" fill="#fff" stroke="#111" stroke-width="1.1"/>
<circle cx="418.20" cy="310.10" r="2.15" fill="#fff" stroke="#111" stroke-width="1.1"/>
<circle cx="418.20" cy="312.70" r="2.15" fill="#fff" stroke="#111" stroke-width="1.1"/>
<circle cx="418.20" cy="325.50" r="2.15" fill="#fff" stroke="#111" stroke-width="1.1"/>
<circle cx="486.80" cy="327.60" r="2.15" fill="#fff" stroke="#111" stroke-width="1.1"/>
<circle cx="486.80" cy="323.80" r="2.15" fill="#fff" stroke="#111" stroke-width="1.1"/>
<circle cx="486.80" cy="321.10" r="2.15" fill="#fff" stroke="#111" stroke-width="1.1"/>
<circle cx="486.80" cy="317.30" r="2.15" fill="#fff" stroke="#111" stroke-width="1.1"/>
<circle cx="486.80" cy="313.50" r="2.15" fill="#fff" stroke="#111" stroke-width="1.1"/>
<text x="390.58" y="340.55" font-size="8.71" textLength="54.63" lengthAdjust="spacingAndGlyphs" style="stroke-width:0.3px">CD4<tspan dy="-3.49" font-size="7.84">+</tspan><tspan dy="3.49" font-size="8.71">CCR7</tspan><tspan dy="-3.49">–</tspan></text>
<text x="459.68" y="340.55" font-size="8.71" textLength="54.28" lengthAdjust="spacingAndGlyphs" style="stroke-width:0.3px">CD4<tspan dy="-3.49" font-size="7.84">+</tspan><tspan dy="3.49" font-size="8.71">CCR7</tspan><tspan dy="-3.49" font-size="7.84">+</tspan></text>
</svg>
</body></html>
